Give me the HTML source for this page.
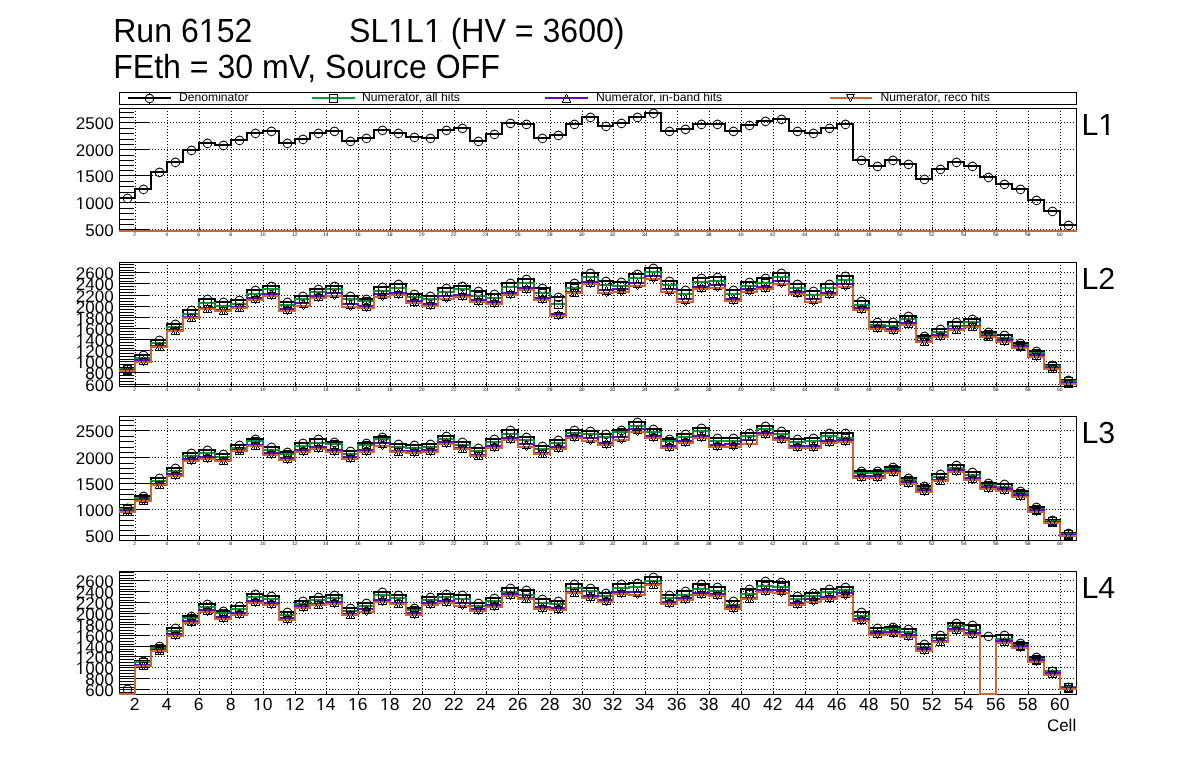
<!DOCTYPE html>
<html><head><meta charset="utf-8"><style>
html,body{margin:0;padding:0;background:#fff;width:1196px;height:772px;overflow:hidden}
svg{display:block;will-change:transform}
text{font-family:"Liberation Sans", sans-serif;fill:#000;text-rendering:geometricPrecision}
</style></head><body>
<svg width="1196" height="772" viewBox="0 0 1196 772" font-family='"Liberation Sans", sans-serif'>
<rect width="1196" height="772" fill="#fff"/>
<g transform="matrix(1 0 0 1.0436 0 -1.831)"><text clip-path="url(#one0)" x="113.2" y="42" font-size="32.1" >Run 6152</text></g>
<g transform="matrix(1 0 0 1.0436 0 -1.831)"><text clip-path="url(#one1)" x="349.0" y="42" font-size="32.1" >SL1L1 (HV = 3600)</text></g>
<g transform="matrix(1 0 0 1.0436 0 -3.388)"><text x="113.2" y="77.7" font-size="32.1" >FEth = 30 mV, Source OFF</text></g>
<rect x="119.5" y="92.5" width="957" height="12" fill="none" stroke="#000" stroke-width="1" shape-rendering="crispEdges"/>
<line x1="128" y1="98" x2="171" y2="98" stroke="#000000" stroke-width="2" shape-rendering="crispEdges"/>
<path d="M149.5,93V94M149.5,103V104" stroke="#000" stroke-width="1" shape-rendering="crispEdges"/>
<circle cx="149.50" cy="98.50" r="4.15" fill="none" stroke="#000" stroke-width="1.1"/><path d="M149.5,93v1M149.5,103v1" stroke="#000" stroke-opacity="0.3" stroke-width="1" shape-rendering="crispEdges"/>
<text x="179.0" y="101" font-size="12.15">Denominator</text>
<line x1="312" y1="98" x2="355" y2="98" stroke="#009933" stroke-width="2" shape-rendering="crispEdges"/>
<rect x="329.5" y="94.5" width="8" height="8" fill="none" stroke="#000" stroke-width="1" shape-rendering="crispEdges"/>
<text x="362.0" y="101" font-size="12.15">Numerator, all hits</text>
<line x1="545" y1="98" x2="588" y2="98" stroke="#6600cc" stroke-width="2" shape-rendering="crispEdges"/>
<path d="M566,94h1v1h-1zM565,95h1v1h-1zM567,95h1v1h-1zM565,96h1v1h-1zM567,96h1v1h-1zM564,97h1v1h-1zM568,97h1v1h-1zM564,98h1v1h-1zM568,98h1v1h-1zM563,99h1v1h-1zM569,99h1v1h-1zM563,100h1v1h-1zM569,100h1v1h-1zM562,101h1v1h-1zM570,101h1v1h-1zM562,102h9v1h-9z" fill="#000" shape-rendering="crispEdges"/>
<text x="596" y="101" font-size="12.15">Numerator, in-band hits</text>
<line x1="830" y1="98" x2="872" y2="98" stroke="#cc6633" stroke-width="2" shape-rendering="crispEdges"/>
<path d="M846,94h9v1h-9zM847,95h1v1h-1zM853,95h1v1h-1zM847,96h1v1h-1zM853,96h1v1h-1zM848,97h1v1h-1zM852,97h1v1h-1zM848,98h1v1h-1zM852,98h1v1h-1zM849,99h1v1h-1zM851,99h1v1h-1zM849,100h1v1h-1zM851,100h1v1h-1zM850,101h1v1h-1z" fill="#000" shape-rendering="crispEdges"/>
<text x="880.5" y="101" font-size="12.15">Numerator, reco hits</text>
<line x1="119" y1="229.5" x2="1076" y2="229.5" stroke="#000" stroke-width="1" stroke-dasharray="1 2" shape-rendering="crispEdges"/>
<line x1="119" y1="202.5" x2="1076" y2="202.5" stroke="#000" stroke-width="1" stroke-dasharray="1 2" shape-rendering="crispEdges"/>
<line x1="119" y1="175.5" x2="1076" y2="175.5" stroke="#000" stroke-width="1" stroke-dasharray="1 2" shape-rendering="crispEdges"/>
<line x1="119" y1="149.5" x2="1076" y2="149.5" stroke="#000" stroke-width="1" stroke-dasharray="1 2" shape-rendering="crispEdges"/>
<line x1="119" y1="122.5" x2="1076" y2="122.5" stroke="#000" stroke-width="1" stroke-dasharray="1 2" shape-rendering="crispEdges"/>
<line x1="135.5" y1="108" x2="135.5" y2="230" stroke="#000" stroke-width="1" stroke-dasharray="1 2" shape-rendering="crispEdges"/>
<line x1="167.5" y1="108" x2="167.5" y2="230" stroke="#000" stroke-width="1" stroke-dasharray="1 2" shape-rendering="crispEdges"/>
<line x1="199.5" y1="108" x2="199.5" y2="230" stroke="#000" stroke-width="1" stroke-dasharray="1 2" shape-rendering="crispEdges"/>
<line x1="231.5" y1="108" x2="231.5" y2="230" stroke="#000" stroke-width="1" stroke-dasharray="1 2" shape-rendering="crispEdges"/>
<line x1="263.5" y1="108" x2="263.5" y2="230" stroke="#000" stroke-width="1" stroke-dasharray="1 2" shape-rendering="crispEdges"/>
<line x1="295.5" y1="108" x2="295.5" y2="230" stroke="#000" stroke-width="1" stroke-dasharray="1 2" shape-rendering="crispEdges"/>
<line x1="326.5" y1="108" x2="326.5" y2="230" stroke="#000" stroke-width="1" stroke-dasharray="1 2" shape-rendering="crispEdges"/>
<line x1="358.5" y1="108" x2="358.5" y2="230" stroke="#000" stroke-width="1" stroke-dasharray="1 2" shape-rendering="crispEdges"/>
<line x1="390.5" y1="108" x2="390.5" y2="230" stroke="#000" stroke-width="1" stroke-dasharray="1 2" shape-rendering="crispEdges"/>
<line x1="422.5" y1="108" x2="422.5" y2="230" stroke="#000" stroke-width="1" stroke-dasharray="1 2" shape-rendering="crispEdges"/>
<line x1="454.5" y1="108" x2="454.5" y2="230" stroke="#000" stroke-width="1" stroke-dasharray="1 2" shape-rendering="crispEdges"/>
<line x1="486.5" y1="108" x2="486.5" y2="230" stroke="#000" stroke-width="1" stroke-dasharray="1 2" shape-rendering="crispEdges"/>
<line x1="518.5" y1="108" x2="518.5" y2="230" stroke="#000" stroke-width="1" stroke-dasharray="1 2" shape-rendering="crispEdges"/>
<line x1="550.5" y1="108" x2="550.5" y2="230" stroke="#000" stroke-width="1" stroke-dasharray="1 2" shape-rendering="crispEdges"/>
<line x1="582.5" y1="108" x2="582.5" y2="230" stroke="#000" stroke-width="1" stroke-dasharray="1 2" shape-rendering="crispEdges"/>
<line x1="613.5" y1="108" x2="613.5" y2="230" stroke="#000" stroke-width="1" stroke-dasharray="1 2" shape-rendering="crispEdges"/>
<line x1="645.5" y1="108" x2="645.5" y2="230" stroke="#000" stroke-width="1" stroke-dasharray="1 2" shape-rendering="crispEdges"/>
<line x1="677.5" y1="108" x2="677.5" y2="230" stroke="#000" stroke-width="1" stroke-dasharray="1 2" shape-rendering="crispEdges"/>
<line x1="709.5" y1="108" x2="709.5" y2="230" stroke="#000" stroke-width="1" stroke-dasharray="1 2" shape-rendering="crispEdges"/>
<line x1="741.5" y1="108" x2="741.5" y2="230" stroke="#000" stroke-width="1" stroke-dasharray="1 2" shape-rendering="crispEdges"/>
<line x1="773.5" y1="108" x2="773.5" y2="230" stroke="#000" stroke-width="1" stroke-dasharray="1 2" shape-rendering="crispEdges"/>
<line x1="805.5" y1="108" x2="805.5" y2="230" stroke="#000" stroke-width="1" stroke-dasharray="1 2" shape-rendering="crispEdges"/>
<line x1="837.5" y1="108" x2="837.5" y2="230" stroke="#000" stroke-width="1" stroke-dasharray="1 2" shape-rendering="crispEdges"/>
<line x1="869.5" y1="108" x2="869.5" y2="230" stroke="#000" stroke-width="1" stroke-dasharray="1 2" shape-rendering="crispEdges"/>
<line x1="900.5" y1="108" x2="900.5" y2="230" stroke="#000" stroke-width="1" stroke-dasharray="1 2" shape-rendering="crispEdges"/>
<line x1="932.5" y1="108" x2="932.5" y2="230" stroke="#000" stroke-width="1" stroke-dasharray="1 2" shape-rendering="crispEdges"/>
<line x1="964.5" y1="108" x2="964.5" y2="230" stroke="#000" stroke-width="1" stroke-dasharray="1 2" shape-rendering="crispEdges"/>
<line x1="996.5" y1="108" x2="996.5" y2="230" stroke="#000" stroke-width="1" stroke-dasharray="1 2" shape-rendering="crispEdges"/>
<line x1="1028.5" y1="108" x2="1028.5" y2="230" stroke="#000" stroke-width="1" stroke-dasharray="1 2" shape-rendering="crispEdges"/>
<line x1="1060.5" y1="108" x2="1060.5" y2="230" stroke="#000" stroke-width="1" stroke-dasharray="1 2" shape-rendering="crispEdges"/>
<rect x="119.5" y="108.5" width="957" height="122" fill="none" stroke="#000" stroke-width="1" shape-rendering="crispEdges"/>
<path d="M120,229.5H149 M120,202.5H149 M120,175.5H149 M120,149.5H149 M120,122.5H149 M120,224.5H134 M120,219.5H134 M120,213.5H134 M120,208.5H134 M120,197.5H134 M120,192.5H134 M120,186.5H134 M120,181.5H134 M120,170.5H134 M120,165.5H134 M120,160.5H134 M120,155.5H134 M120,144.5H134 M120,139.5H134 M120,133.5H134 M120,128.5H134 M120,117.5H134 M120,112.5H134" stroke="#000" stroke-width="1" fill="none" shape-rendering="crispEdges"/>
<path d="M135.5,230V227 M167.5,230V227 M199.5,230V227 M231.5,230V227 M263.5,230V227 M295.5,230V227 M326.5,230V227 M358.5,230V227 M390.5,230V227 M422.5,230V227 M454.5,230V227 M486.5,230V227 M518.5,230V227 M550.5,230V227 M582.5,230V227 M613.5,230V227 M645.5,230V227 M677.5,230V227 M709.5,230V227 M741.5,230V227 M773.5,230V227 M805.5,230V227 M837.5,230V227 M869.5,230V227 M900.5,230V227 M932.5,230V227 M964.5,230V227 M996.5,230V227 M1028.5,230V227 M1060.5,230V227" stroke="#000" stroke-width="1" fill="none" shape-rendering="crispEdges"/>
<text x="113.6" y="236.00" text-anchor="end" font-size="17">500</text>
<text clip-path="url(#one8)" x="113.6" y="209.00" text-anchor="end" font-size="17">1000</text>
<text clip-path="url(#one9)" x="113.6" y="182.00" text-anchor="end" font-size="17">1500</text>
<text x="113.6" y="156.00" text-anchor="end" font-size="17">2000</text>
<text x="113.6" y="129.00" text-anchor="end" font-size="17">2500</text>
<text x="134.70" y="236" text-anchor="middle" font-size="5" fill="#111">2</text>
<text x="166.70" y="236" text-anchor="middle" font-size="5" fill="#111">4</text>
<text x="198.70" y="236" text-anchor="middle" font-size="5" fill="#111">6</text>
<text x="230.70" y="236" text-anchor="middle" font-size="5" fill="#111">8</text>
<text x="262.70" y="236" text-anchor="middle" font-size="5" fill="#111">10</text>
<text x="294.70" y="236" text-anchor="middle" font-size="5" fill="#111">12</text>
<text x="325.70" y="236" text-anchor="middle" font-size="5" fill="#111">14</text>
<text x="357.70" y="236" text-anchor="middle" font-size="5" fill="#111">16</text>
<text x="389.70" y="236" text-anchor="middle" font-size="5" fill="#111">18</text>
<text x="421.70" y="236" text-anchor="middle" font-size="5" fill="#111">20</text>
<text x="453.70" y="236" text-anchor="middle" font-size="5" fill="#111">22</text>
<text x="485.70" y="236" text-anchor="middle" font-size="5" fill="#111">24</text>
<text x="517.70" y="236" text-anchor="middle" font-size="5" fill="#111">26</text>
<text x="549.70" y="236" text-anchor="middle" font-size="5" fill="#111">28</text>
<text x="581.70" y="236" text-anchor="middle" font-size="5" fill="#111">30</text>
<text x="612.70" y="236" text-anchor="middle" font-size="5" fill="#111">32</text>
<text x="644.70" y="236" text-anchor="middle" font-size="5" fill="#111">34</text>
<text x="676.70" y="236" text-anchor="middle" font-size="5" fill="#111">36</text>
<text x="708.70" y="236" text-anchor="middle" font-size="5" fill="#111">38</text>
<text x="740.70" y="236" text-anchor="middle" font-size="5" fill="#111">40</text>
<text x="772.70" y="236" text-anchor="middle" font-size="5" fill="#111">42</text>
<text x="804.70" y="236" text-anchor="middle" font-size="5" fill="#111">44</text>
<text x="836.70" y="236" text-anchor="middle" font-size="5" fill="#111">46</text>
<text x="868.70" y="236" text-anchor="middle" font-size="5" fill="#111">48</text>
<text x="899.70" y="236" text-anchor="middle" font-size="5" fill="#111">50</text>
<text x="931.70" y="236" text-anchor="middle" font-size="5" fill="#111">52</text>
<text x="963.70" y="236" text-anchor="middle" font-size="5" fill="#111">54</text>
<text x="995.70" y="236" text-anchor="middle" font-size="5" fill="#111">56</text>
<text x="1027.70" y="236" text-anchor="middle" font-size="5" fill="#111">58</text>
<text x="1059.70" y="236" text-anchor="middle" font-size="5" fill="#111">60</text>
<text clip-path="url(#one42)" x="1081.4" y="135" font-size="30.4">L1</text>
<clipPath id="c0"><rect x="119" y="109" width="958" height="123"/></clipPath>
<path d="M118.5,198H135V189H151V172H167V162H183V150H199V143H215V145H231V140H247V133H263V131H279V143H295V139H310V133H326V131H342V141H358V138H374V130H390V133H406V137H422V138H438V130H454V128H470V141H486V134H502V123H518V124H534V138H550V135H566V124H582V117H598V126H613V123H629V117H645V113H661V131H677V129H693V124H709V124H725V131H741V125H757V121H773V119H789V131H805V133H821V128H837V124H853V160H869V166H885V160H900V164H916V179H932V169H948V162H964V166H980V177H996V184H1012V189H1028V200H1044V211H1060V225H1076.5" fill="none" stroke="#000000" stroke-width="2" stroke-linejoin="miter" shape-rendering="crispEdges" clip-path="url(#c0)"/>
<g><circle cx="127.50" cy="198.40" r="4.15" fill="none" stroke="#000" stroke-width="1.1"/><path d="M127.5,193v1M127.5,203v1" stroke="#000" stroke-opacity="0.3" stroke-width="1" shape-rendering="crispEdges"/><circle cx="143.50" cy="189.40" r="4.15" fill="none" stroke="#000" stroke-width="1.1"/><path d="M143.5,184v1M143.5,194v1" stroke="#000" stroke-opacity="0.3" stroke-width="1" shape-rendering="crispEdges"/><circle cx="159.50" cy="172.40" r="4.15" fill="none" stroke="#000" stroke-width="1.1"/><path d="M159.5,167v1M159.5,177v1" stroke="#000" stroke-opacity="0.3" stroke-width="1" shape-rendering="crispEdges"/><circle cx="175.50" cy="162.40" r="4.15" fill="none" stroke="#000" stroke-width="1.1"/><path d="M175.5,157v1M175.5,167v1" stroke="#000" stroke-opacity="0.3" stroke-width="1" shape-rendering="crispEdges"/><circle cx="191.50" cy="150.40" r="4.15" fill="none" stroke="#000" stroke-width="1.1"/><path d="M191.5,145v1M191.5,155v1" stroke="#000" stroke-opacity="0.3" stroke-width="1" shape-rendering="crispEdges"/><circle cx="207.50" cy="143.40" r="4.15" fill="none" stroke="#000" stroke-width="1.1"/><path d="M207.5,138v1M207.5,148v1" stroke="#000" stroke-opacity="0.3" stroke-width="1" shape-rendering="crispEdges"/><circle cx="223.50" cy="145.40" r="4.15" fill="none" stroke="#000" stroke-width="1.1"/><path d="M223.5,140v1M223.5,150v1" stroke="#000" stroke-opacity="0.3" stroke-width="1" shape-rendering="crispEdges"/><circle cx="239.50" cy="140.40" r="4.15" fill="none" stroke="#000" stroke-width="1.1"/><path d="M239.5,135v1M239.5,145v1" stroke="#000" stroke-opacity="0.3" stroke-width="1" shape-rendering="crispEdges"/><circle cx="255.50" cy="133.40" r="4.15" fill="none" stroke="#000" stroke-width="1.1"/><path d="M255.5,128v1M255.5,138v1" stroke="#000" stroke-opacity="0.3" stroke-width="1" shape-rendering="crispEdges"/><circle cx="271.50" cy="131.40" r="4.15" fill="none" stroke="#000" stroke-width="1.1"/><path d="M271.5,126v1M271.5,136v1" stroke="#000" stroke-opacity="0.3" stroke-width="1" shape-rendering="crispEdges"/><circle cx="287.50" cy="143.40" r="4.15" fill="none" stroke="#000" stroke-width="1.1"/><path d="M287.5,138v1M287.5,148v1" stroke="#000" stroke-opacity="0.3" stroke-width="1" shape-rendering="crispEdges"/><circle cx="303.00" cy="139.40" r="4.15" fill="none" stroke="#000" stroke-width="1.1"/><path d="M303.5,134v1M303.5,144v1" stroke="#000" stroke-opacity="0.3" stroke-width="1" shape-rendering="crispEdges"/><circle cx="318.50" cy="133.40" r="4.15" fill="none" stroke="#000" stroke-width="1.1"/><path d="M318.5,128v1M318.5,138v1" stroke="#000" stroke-opacity="0.3" stroke-width="1" shape-rendering="crispEdges"/><circle cx="334.50" cy="131.40" r="4.15" fill="none" stroke="#000" stroke-width="1.1"/><path d="M334.5,126v1M334.5,136v1" stroke="#000" stroke-opacity="0.3" stroke-width="1" shape-rendering="crispEdges"/><circle cx="350.50" cy="141.40" r="4.15" fill="none" stroke="#000" stroke-width="1.1"/><path d="M350.5,136v1M350.5,146v1" stroke="#000" stroke-opacity="0.3" stroke-width="1" shape-rendering="crispEdges"/><circle cx="366.50" cy="138.40" r="4.15" fill="none" stroke="#000" stroke-width="1.1"/><path d="M366.5,133v1M366.5,143v1" stroke="#000" stroke-opacity="0.3" stroke-width="1" shape-rendering="crispEdges"/><circle cx="382.50" cy="130.40" r="4.15" fill="none" stroke="#000" stroke-width="1.1"/><path d="M382.5,125v1M382.5,135v1" stroke="#000" stroke-opacity="0.3" stroke-width="1" shape-rendering="crispEdges"/><circle cx="398.50" cy="133.40" r="4.15" fill="none" stroke="#000" stroke-width="1.1"/><path d="M398.5,128v1M398.5,138v1" stroke="#000" stroke-opacity="0.3" stroke-width="1" shape-rendering="crispEdges"/><circle cx="414.50" cy="137.40" r="4.15" fill="none" stroke="#000" stroke-width="1.1"/><path d="M414.5,132v1M414.5,142v1" stroke="#000" stroke-opacity="0.3" stroke-width="1" shape-rendering="crispEdges"/><circle cx="430.50" cy="138.40" r="4.15" fill="none" stroke="#000" stroke-width="1.1"/><path d="M430.5,133v1M430.5,143v1" stroke="#000" stroke-opacity="0.3" stroke-width="1" shape-rendering="crispEdges"/><circle cx="446.50" cy="130.40" r="4.15" fill="none" stroke="#000" stroke-width="1.1"/><path d="M446.5,125v1M446.5,135v1" stroke="#000" stroke-opacity="0.3" stroke-width="1" shape-rendering="crispEdges"/><circle cx="462.50" cy="128.40" r="4.15" fill="none" stroke="#000" stroke-width="1.1"/><path d="M462.5,123v1M462.5,133v1" stroke="#000" stroke-opacity="0.3" stroke-width="1" shape-rendering="crispEdges"/><circle cx="478.50" cy="141.40" r="4.15" fill="none" stroke="#000" stroke-width="1.1"/><path d="M478.5,136v1M478.5,146v1" stroke="#000" stroke-opacity="0.3" stroke-width="1" shape-rendering="crispEdges"/><circle cx="494.50" cy="134.40" r="4.15" fill="none" stroke="#000" stroke-width="1.1"/><path d="M494.5,129v1M494.5,139v1" stroke="#000" stroke-opacity="0.3" stroke-width="1" shape-rendering="crispEdges"/><circle cx="510.50" cy="123.40" r="4.15" fill="none" stroke="#000" stroke-width="1.1"/><path d="M510.5,118v1M510.5,128v1" stroke="#000" stroke-opacity="0.3" stroke-width="1" shape-rendering="crispEdges"/><circle cx="526.50" cy="124.40" r="4.15" fill="none" stroke="#000" stroke-width="1.1"/><path d="M526.5,119v1M526.5,129v1" stroke="#000" stroke-opacity="0.3" stroke-width="1" shape-rendering="crispEdges"/><circle cx="542.50" cy="138.40" r="4.15" fill="none" stroke="#000" stroke-width="1.1"/><path d="M542.5,133v1M542.5,143v1" stroke="#000" stroke-opacity="0.3" stroke-width="1" shape-rendering="crispEdges"/><circle cx="558.50" cy="135.40" r="4.15" fill="none" stroke="#000" stroke-width="1.1"/><path d="M558.5,130v1M558.5,140v1" stroke="#000" stroke-opacity="0.3" stroke-width="1" shape-rendering="crispEdges"/><circle cx="574.50" cy="124.40" r="4.15" fill="none" stroke="#000" stroke-width="1.1"/><path d="M574.5,119v1M574.5,129v1" stroke="#000" stroke-opacity="0.3" stroke-width="1" shape-rendering="crispEdges"/><circle cx="590.50" cy="117.40" r="4.15" fill="none" stroke="#000" stroke-width="1.1"/><path d="M590.5,112v1M590.5,122v1" stroke="#000" stroke-opacity="0.3" stroke-width="1" shape-rendering="crispEdges"/><circle cx="606.00" cy="126.40" r="4.15" fill="none" stroke="#000" stroke-width="1.1"/><path d="M606.5,121v1M606.5,131v1" stroke="#000" stroke-opacity="0.3" stroke-width="1" shape-rendering="crispEdges"/><circle cx="621.50" cy="123.40" r="4.15" fill="none" stroke="#000" stroke-width="1.1"/><path d="M621.5,118v1M621.5,128v1" stroke="#000" stroke-opacity="0.3" stroke-width="1" shape-rendering="crispEdges"/><circle cx="637.50" cy="117.40" r="4.15" fill="none" stroke="#000" stroke-width="1.1"/><path d="M637.5,112v1M637.5,122v1" stroke="#000" stroke-opacity="0.3" stroke-width="1" shape-rendering="crispEdges"/><circle cx="653.50" cy="113.40" r="4.15" fill="none" stroke="#000" stroke-width="1.1"/><path d="M653.5,108v1M653.5,118v1" stroke="#000" stroke-opacity="0.3" stroke-width="1" shape-rendering="crispEdges"/><circle cx="669.50" cy="131.40" r="4.15" fill="none" stroke="#000" stroke-width="1.1"/><path d="M669.5,126v1M669.5,136v1" stroke="#000" stroke-opacity="0.3" stroke-width="1" shape-rendering="crispEdges"/><circle cx="685.50" cy="129.40" r="4.15" fill="none" stroke="#000" stroke-width="1.1"/><path d="M685.5,124v1M685.5,134v1" stroke="#000" stroke-opacity="0.3" stroke-width="1" shape-rendering="crispEdges"/><circle cx="701.50" cy="124.40" r="4.15" fill="none" stroke="#000" stroke-width="1.1"/><path d="M701.5,119v1M701.5,129v1" stroke="#000" stroke-opacity="0.3" stroke-width="1" shape-rendering="crispEdges"/><circle cx="717.50" cy="124.40" r="4.15" fill="none" stroke="#000" stroke-width="1.1"/><path d="M717.5,119v1M717.5,129v1" stroke="#000" stroke-opacity="0.3" stroke-width="1" shape-rendering="crispEdges"/><circle cx="733.50" cy="131.40" r="4.15" fill="none" stroke="#000" stroke-width="1.1"/><path d="M733.5,126v1M733.5,136v1" stroke="#000" stroke-opacity="0.3" stroke-width="1" shape-rendering="crispEdges"/><circle cx="749.50" cy="125.40" r="4.15" fill="none" stroke="#000" stroke-width="1.1"/><path d="M749.5,120v1M749.5,130v1" stroke="#000" stroke-opacity="0.3" stroke-width="1" shape-rendering="crispEdges"/><circle cx="765.50" cy="121.40" r="4.15" fill="none" stroke="#000" stroke-width="1.1"/><path d="M765.5,116v1M765.5,126v1" stroke="#000" stroke-opacity="0.3" stroke-width="1" shape-rendering="crispEdges"/><circle cx="781.50" cy="119.40" r="4.15" fill="none" stroke="#000" stroke-width="1.1"/><path d="M781.5,114v1M781.5,124v1" stroke="#000" stroke-opacity="0.3" stroke-width="1" shape-rendering="crispEdges"/><circle cx="797.50" cy="131.40" r="4.15" fill="none" stroke="#000" stroke-width="1.1"/><path d="M797.5,126v1M797.5,136v1" stroke="#000" stroke-opacity="0.3" stroke-width="1" shape-rendering="crispEdges"/><circle cx="813.50" cy="133.40" r="4.15" fill="none" stroke="#000" stroke-width="1.1"/><path d="M813.5,128v1M813.5,138v1" stroke="#000" stroke-opacity="0.3" stroke-width="1" shape-rendering="crispEdges"/><circle cx="829.50" cy="128.40" r="4.15" fill="none" stroke="#000" stroke-width="1.1"/><path d="M829.5,123v1M829.5,133v1" stroke="#000" stroke-opacity="0.3" stroke-width="1" shape-rendering="crispEdges"/><circle cx="845.50" cy="124.40" r="4.15" fill="none" stroke="#000" stroke-width="1.1"/><path d="M845.5,119v1M845.5,129v1" stroke="#000" stroke-opacity="0.3" stroke-width="1" shape-rendering="crispEdges"/><circle cx="861.50" cy="160.40" r="4.15" fill="none" stroke="#000" stroke-width="1.1"/><path d="M861.5,155v1M861.5,165v1" stroke="#000" stroke-opacity="0.3" stroke-width="1" shape-rendering="crispEdges"/><circle cx="877.50" cy="166.40" r="4.15" fill="none" stroke="#000" stroke-width="1.1"/><path d="M877.5,161v1M877.5,171v1" stroke="#000" stroke-opacity="0.3" stroke-width="1" shape-rendering="crispEdges"/><circle cx="893.00" cy="160.40" r="4.15" fill="none" stroke="#000" stroke-width="1.1"/><path d="M893.5,155v1M893.5,165v1" stroke="#000" stroke-opacity="0.3" stroke-width="1" shape-rendering="crispEdges"/><circle cx="908.50" cy="164.40" r="4.15" fill="none" stroke="#000" stroke-width="1.1"/><path d="M908.5,159v1M908.5,169v1" stroke="#000" stroke-opacity="0.3" stroke-width="1" shape-rendering="crispEdges"/><circle cx="924.50" cy="179.40" r="4.15" fill="none" stroke="#000" stroke-width="1.1"/><path d="M924.5,174v1M924.5,184v1" stroke="#000" stroke-opacity="0.3" stroke-width="1" shape-rendering="crispEdges"/><circle cx="940.50" cy="169.40" r="4.15" fill="none" stroke="#000" stroke-width="1.1"/><path d="M940.5,164v1M940.5,174v1" stroke="#000" stroke-opacity="0.3" stroke-width="1" shape-rendering="crispEdges"/><circle cx="956.50" cy="162.40" r="4.15" fill="none" stroke="#000" stroke-width="1.1"/><path d="M956.5,157v1M956.5,167v1" stroke="#000" stroke-opacity="0.3" stroke-width="1" shape-rendering="crispEdges"/><circle cx="972.50" cy="166.40" r="4.15" fill="none" stroke="#000" stroke-width="1.1"/><path d="M972.5,161v1M972.5,171v1" stroke="#000" stroke-opacity="0.3" stroke-width="1" shape-rendering="crispEdges"/><circle cx="988.50" cy="177.40" r="4.15" fill="none" stroke="#000" stroke-width="1.1"/><path d="M988.5,172v1M988.5,182v1" stroke="#000" stroke-opacity="0.3" stroke-width="1" shape-rendering="crispEdges"/><circle cx="1004.50" cy="184.40" r="4.15" fill="none" stroke="#000" stroke-width="1.1"/><path d="M1004.5,179v1M1004.5,189v1" stroke="#000" stroke-opacity="0.3" stroke-width="1" shape-rendering="crispEdges"/><circle cx="1020.50" cy="189.40" r="4.15" fill="none" stroke="#000" stroke-width="1.1"/><path d="M1020.5,184v1M1020.5,194v1" stroke="#000" stroke-opacity="0.3" stroke-width="1" shape-rendering="crispEdges"/><circle cx="1036.50" cy="200.40" r="4.15" fill="none" stroke="#000" stroke-width="1.1"/><path d="M1036.5,195v1M1036.5,205v1" stroke="#000" stroke-opacity="0.3" stroke-width="1" shape-rendering="crispEdges"/><circle cx="1052.50" cy="211.40" r="4.15" fill="none" stroke="#000" stroke-width="1.1"/><path d="M1052.5,206v1M1052.5,216v1" stroke="#000" stroke-opacity="0.3" stroke-width="1" shape-rendering="crispEdges"/><circle cx="1068.50" cy="225.40" r="4.15" fill="none" stroke="#000" stroke-width="1.1"/><path d="M1068.5,220v1M1068.5,230v1" stroke="#000" stroke-opacity="0.3" stroke-width="1" shape-rendering="crispEdges"/></g>
<path d="M118.5,231H135V231H151V231H167V231H183V231H199V231H215V231H231V231H247V231H263V231H279V231H295V231H310V231H326V231H342V231H358V231H374V231H390V231H406V231H422V231H438V231H454V231H470V231H486V231H502V231H518V231H534V231H550V231H566V231H582V231H598V231H613V231H629V231H645V231H661V231H677V231H693V231H709V231H725V231H741V231H757V231H773V231H789V231H805V231H821V231H837V231H853V231H869V231H885V231H900V231H916V231H932V231H948V231H964V231H980V231H996V231H1012V231H1028V231H1044V231H1060V231H1076.5" fill="none" stroke="#009933" stroke-width="2" stroke-linejoin="miter" shape-rendering="crispEdges" clip-path="url(#c0)"/>
<g></g>
<path d="M118.5,231H135V231H151V231H167V231H183V231H199V231H215V231H231V231H247V231H263V231H279V231H295V231H310V231H326V231H342V231H358V231H374V231H390V231H406V231H422V231H438V231H454V231H470V231H486V231H502V231H518V231H534V231H550V231H566V231H582V231H598V231H613V231H629V231H645V231H661V231H677V231H693V231H709V231H725V231H741V231H757V231H773V231H789V231H805V231H821V231H837V231H853V231H869V231H885V231H900V231H916V231H932V231H948V231H964V231H980V231H996V231H1012V231H1028V231H1044V231H1060V231H1076.5" fill="none" stroke="#6600cc" stroke-width="2" stroke-linejoin="miter" shape-rendering="crispEdges" clip-path="url(#c0)"/>
<g></g>
<path d="M118.5,231H135V231H151V231H167V231H183V231H199V231H215V231H231V231H247V231H263V231H279V231H295V231H310V231H326V231H342V231H358V231H374V231H390V231H406V231H422V231H438V231H454V231H470V231H486V231H502V231H518V231H534V231H550V231H566V231H582V231H598V231H613V231H629V231H645V231H661V231H677V231H693V231H709V231H725V231H741V231H757V231H773V231H789V231H805V231H821V231H837V231H853V231H869V231H885V231H900V231H916V231H932V231H948V231H964V231H980V231H996V231H1012V231H1028V231H1044V231H1060V231H1076.5" fill="none" stroke="#cc6633" stroke-width="2" stroke-linejoin="miter" shape-rendering="crispEdges" clip-path="url(#c0)"/>
<g></g>
<line x1="119" y1="384.5" x2="1076" y2="384.5" stroke="#000" stroke-width="1" stroke-dasharray="1 2" shape-rendering="crispEdges"/>
<line x1="119" y1="372.5" x2="1076" y2="372.5" stroke="#000" stroke-width="1" stroke-dasharray="1 2" shape-rendering="crispEdges"/>
<line x1="119" y1="361.5" x2="1076" y2="361.5" stroke="#000" stroke-width="1" stroke-dasharray="1 2" shape-rendering="crispEdges"/>
<line x1="119" y1="350.5" x2="1076" y2="350.5" stroke="#000" stroke-width="1" stroke-dasharray="1 2" shape-rendering="crispEdges"/>
<line x1="119" y1="339.5" x2="1076" y2="339.5" stroke="#000" stroke-width="1" stroke-dasharray="1 2" shape-rendering="crispEdges"/>
<line x1="119" y1="328.5" x2="1076" y2="328.5" stroke="#000" stroke-width="1" stroke-dasharray="1 2" shape-rendering="crispEdges"/>
<line x1="119" y1="317.5" x2="1076" y2="317.5" stroke="#000" stroke-width="1" stroke-dasharray="1 2" shape-rendering="crispEdges"/>
<line x1="119" y1="306.5" x2="1076" y2="306.5" stroke="#000" stroke-width="1" stroke-dasharray="1 2" shape-rendering="crispEdges"/>
<line x1="119" y1="295.5" x2="1076" y2="295.5" stroke="#000" stroke-width="1" stroke-dasharray="1 2" shape-rendering="crispEdges"/>
<line x1="119" y1="283.5" x2="1076" y2="283.5" stroke="#000" stroke-width="1" stroke-dasharray="1 2" shape-rendering="crispEdges"/>
<line x1="119" y1="272.5" x2="1076" y2="272.5" stroke="#000" stroke-width="1" stroke-dasharray="1 2" shape-rendering="crispEdges"/>
<line x1="135.5" y1="262" x2="135.5" y2="386" stroke="#000" stroke-width="1" stroke-dasharray="1 2" shape-rendering="crispEdges"/>
<line x1="167.5" y1="262" x2="167.5" y2="386" stroke="#000" stroke-width="1" stroke-dasharray="1 2" shape-rendering="crispEdges"/>
<line x1="199.5" y1="262" x2="199.5" y2="386" stroke="#000" stroke-width="1" stroke-dasharray="1 2" shape-rendering="crispEdges"/>
<line x1="231.5" y1="262" x2="231.5" y2="386" stroke="#000" stroke-width="1" stroke-dasharray="1 2" shape-rendering="crispEdges"/>
<line x1="263.5" y1="262" x2="263.5" y2="386" stroke="#000" stroke-width="1" stroke-dasharray="1 2" shape-rendering="crispEdges"/>
<line x1="295.5" y1="262" x2="295.5" y2="386" stroke="#000" stroke-width="1" stroke-dasharray="1 2" shape-rendering="crispEdges"/>
<line x1="326.5" y1="262" x2="326.5" y2="386" stroke="#000" stroke-width="1" stroke-dasharray="1 2" shape-rendering="crispEdges"/>
<line x1="358.5" y1="262" x2="358.5" y2="386" stroke="#000" stroke-width="1" stroke-dasharray="1 2" shape-rendering="crispEdges"/>
<line x1="390.5" y1="262" x2="390.5" y2="386" stroke="#000" stroke-width="1" stroke-dasharray="1 2" shape-rendering="crispEdges"/>
<line x1="422.5" y1="262" x2="422.5" y2="386" stroke="#000" stroke-width="1" stroke-dasharray="1 2" shape-rendering="crispEdges"/>
<line x1="454.5" y1="262" x2="454.5" y2="386" stroke="#000" stroke-width="1" stroke-dasharray="1 2" shape-rendering="crispEdges"/>
<line x1="486.5" y1="262" x2="486.5" y2="386" stroke="#000" stroke-width="1" stroke-dasharray="1 2" shape-rendering="crispEdges"/>
<line x1="518.5" y1="262" x2="518.5" y2="386" stroke="#000" stroke-width="1" stroke-dasharray="1 2" shape-rendering="crispEdges"/>
<line x1="550.5" y1="262" x2="550.5" y2="386" stroke="#000" stroke-width="1" stroke-dasharray="1 2" shape-rendering="crispEdges"/>
<line x1="582.5" y1="262" x2="582.5" y2="386" stroke="#000" stroke-width="1" stroke-dasharray="1 2" shape-rendering="crispEdges"/>
<line x1="613.5" y1="262" x2="613.5" y2="386" stroke="#000" stroke-width="1" stroke-dasharray="1 2" shape-rendering="crispEdges"/>
<line x1="645.5" y1="262" x2="645.5" y2="386" stroke="#000" stroke-width="1" stroke-dasharray="1 2" shape-rendering="crispEdges"/>
<line x1="677.5" y1="262" x2="677.5" y2="386" stroke="#000" stroke-width="1" stroke-dasharray="1 2" shape-rendering="crispEdges"/>
<line x1="709.5" y1="262" x2="709.5" y2="386" stroke="#000" stroke-width="1" stroke-dasharray="1 2" shape-rendering="crispEdges"/>
<line x1="741.5" y1="262" x2="741.5" y2="386" stroke="#000" stroke-width="1" stroke-dasharray="1 2" shape-rendering="crispEdges"/>
<line x1="773.5" y1="262" x2="773.5" y2="386" stroke="#000" stroke-width="1" stroke-dasharray="1 2" shape-rendering="crispEdges"/>
<line x1="805.5" y1="262" x2="805.5" y2="386" stroke="#000" stroke-width="1" stroke-dasharray="1 2" shape-rendering="crispEdges"/>
<line x1="837.5" y1="262" x2="837.5" y2="386" stroke="#000" stroke-width="1" stroke-dasharray="1 2" shape-rendering="crispEdges"/>
<line x1="869.5" y1="262" x2="869.5" y2="386" stroke="#000" stroke-width="1" stroke-dasharray="1 2" shape-rendering="crispEdges"/>
<line x1="900.5" y1="262" x2="900.5" y2="386" stroke="#000" stroke-width="1" stroke-dasharray="1 2" shape-rendering="crispEdges"/>
<line x1="932.5" y1="262" x2="932.5" y2="386" stroke="#000" stroke-width="1" stroke-dasharray="1 2" shape-rendering="crispEdges"/>
<line x1="964.5" y1="262" x2="964.5" y2="386" stroke="#000" stroke-width="1" stroke-dasharray="1 2" shape-rendering="crispEdges"/>
<line x1="996.5" y1="262" x2="996.5" y2="386" stroke="#000" stroke-width="1" stroke-dasharray="1 2" shape-rendering="crispEdges"/>
<line x1="1028.5" y1="262" x2="1028.5" y2="386" stroke="#000" stroke-width="1" stroke-dasharray="1 2" shape-rendering="crispEdges"/>
<line x1="1060.5" y1="262" x2="1060.5" y2="386" stroke="#000" stroke-width="1" stroke-dasharray="1 2" shape-rendering="crispEdges"/>
<rect x="119.5" y="262.5" width="957" height="124" fill="none" stroke="#000" stroke-width="1" shape-rendering="crispEdges"/>
<path d="M120,384.5H149 M120,372.5H149 M120,361.5H149 M120,350.5H149 M120,339.5H149 M120,328.5H149 M120,317.5H149 M120,306.5H149 M120,295.5H149 M120,283.5H149 M120,272.5H149 M120,381.5H134 M120,378.5H134 M120,375.5H134 M120,370.5H134 M120,367.5H134 M120,364.5H134 M120,359.5H134 M120,356.5H134 M120,353.5H134 M120,348.5H134 M120,345.5H134 M120,342.5H134 M120,337.5H134 M120,334.5H134 M120,331.5H134 M120,326.5H134 M120,323.5H134 M120,320.5H134 M120,315.5H134 M120,312.5H134 M120,309.5H134 M120,304.5H134 M120,301.5H134 M120,298.5H134 M120,292.5H134 M120,289.5H134 M120,286.5H134 M120,281.5H134 M120,278.5H134 M120,275.5H134 M120,270.5H134 M120,267.5H134 M120,264.5H134" stroke="#000" stroke-width="1" fill="none" shape-rendering="crispEdges"/>
<path d="M135.5,386V383 M167.5,386V383 M199.5,386V383 M231.5,386V383 M263.5,386V383 M295.5,386V383 M326.5,386V383 M358.5,386V383 M390.5,386V383 M422.5,386V383 M454.5,386V383 M486.5,386V383 M518.5,386V383 M550.5,386V383 M582.5,386V383 M613.5,386V383 M645.5,386V383 M677.5,386V383 M709.5,386V383 M741.5,386V383 M773.5,386V383 M805.5,386V383 M837.5,386V383 M869.5,386V383 M900.5,386V383 M932.5,386V383 M964.5,386V383 M996.5,386V383 M1028.5,386V383 M1060.5,386V383" stroke="#000" stroke-width="1" fill="none" shape-rendering="crispEdges"/>
<text x="113.6" y="391.00" text-anchor="end" font-size="17">600</text>
<text x="113.6" y="379.00" text-anchor="end" font-size="17">800</text>
<text clip-path="url(#one45)" x="113.6" y="368.00" text-anchor="end" font-size="17">1000</text>
<text clip-path="url(#one46)" x="113.6" y="357.00" text-anchor="end" font-size="17">1200</text>
<text clip-path="url(#one47)" x="113.6" y="346.00" text-anchor="end" font-size="17">1400</text>
<text clip-path="url(#one48)" x="113.6" y="335.00" text-anchor="end" font-size="17">1600</text>
<text clip-path="url(#one49)" x="113.6" y="324.00" text-anchor="end" font-size="17">1800</text>
<text x="113.6" y="313.00" text-anchor="end" font-size="17">2000</text>
<text x="113.6" y="302.00" text-anchor="end" font-size="17">2200</text>
<text x="113.6" y="290.00" text-anchor="end" font-size="17">2400</text>
<text x="113.6" y="279.00" text-anchor="end" font-size="17">2600</text>
<text x="134.70" y="391" text-anchor="middle" font-size="5" fill="#111">2</text>
<text x="166.70" y="391" text-anchor="middle" font-size="5" fill="#111">4</text>
<text x="198.70" y="391" text-anchor="middle" font-size="5" fill="#111">6</text>
<text x="230.70" y="391" text-anchor="middle" font-size="5" fill="#111">8</text>
<text x="262.70" y="391" text-anchor="middle" font-size="5" fill="#111">10</text>
<text x="294.70" y="391" text-anchor="middle" font-size="5" fill="#111">12</text>
<text x="325.70" y="391" text-anchor="middle" font-size="5" fill="#111">14</text>
<text x="357.70" y="391" text-anchor="middle" font-size="5" fill="#111">16</text>
<text x="389.70" y="391" text-anchor="middle" font-size="5" fill="#111">18</text>
<text x="421.70" y="391" text-anchor="middle" font-size="5" fill="#111">20</text>
<text x="453.70" y="391" text-anchor="middle" font-size="5" fill="#111">22</text>
<text x="485.70" y="391" text-anchor="middle" font-size="5" fill="#111">24</text>
<text x="517.70" y="391" text-anchor="middle" font-size="5" fill="#111">26</text>
<text x="549.70" y="391" text-anchor="middle" font-size="5" fill="#111">28</text>
<text x="581.70" y="391" text-anchor="middle" font-size="5" fill="#111">30</text>
<text x="612.70" y="391" text-anchor="middle" font-size="5" fill="#111">32</text>
<text x="644.70" y="391" text-anchor="middle" font-size="5" fill="#111">34</text>
<text x="676.70" y="391" text-anchor="middle" font-size="5" fill="#111">36</text>
<text x="708.70" y="391" text-anchor="middle" font-size="5" fill="#111">38</text>
<text x="740.70" y="391" text-anchor="middle" font-size="5" fill="#111">40</text>
<text x="772.70" y="391" text-anchor="middle" font-size="5" fill="#111">42</text>
<text x="804.70" y="391" text-anchor="middle" font-size="5" fill="#111">44</text>
<text x="836.70" y="391" text-anchor="middle" font-size="5" fill="#111">46</text>
<text x="868.70" y="391" text-anchor="middle" font-size="5" fill="#111">48</text>
<text x="899.70" y="391" text-anchor="middle" font-size="5" fill="#111">50</text>
<text x="931.70" y="391" text-anchor="middle" font-size="5" fill="#111">52</text>
<text x="963.70" y="391" text-anchor="middle" font-size="5" fill="#111">54</text>
<text x="995.70" y="391" text-anchor="middle" font-size="5" fill="#111">56</text>
<text x="1027.70" y="391" text-anchor="middle" font-size="5" fill="#111">58</text>
<text x="1059.70" y="391" text-anchor="middle" font-size="5" fill="#111">60</text>
<text x="1081.4" y="289" font-size="30.4">L2</text>
<clipPath id="c1"><rect x="119" y="263" width="958" height="124"/></clipPath>
<path d="M118.5,369H135V355H151V340H167V324H183V310H199V299H215V302H231V300H247V290H263V286H279V302H295V296H310V289H326V286H342V296H358V299H374V287H390V284H406V294H422V296H438V288H454V286H470V291H486V294H502V283H518V279H534V288H550V297H566V283H582V273H598V281H613V282H629V274H645V268H661V281H677V290H693V278H709V277H725V290H741V282H757V278H773V273H789V284H805V291H821V284H837V276H853V301H869V322H885V322H900V316H916V336H932V329H948V322H964V319H980V332H996V335H1012V343H1028V351H1044V365H1060V380H1076.5" fill="none" stroke="#000000" stroke-width="2" stroke-linejoin="miter" shape-rendering="crispEdges" clip-path="url(#c1)"/>
<g><circle cx="127.50" cy="369.40" r="4.15" fill="none" stroke="#000" stroke-width="1.1"/><path d="M127.5,364v1M127.5,374v1" stroke="#000" stroke-opacity="0.3" stroke-width="1" shape-rendering="crispEdges"/><circle cx="143.50" cy="355.40" r="4.15" fill="none" stroke="#000" stroke-width="1.1"/><path d="M143.5,350v1M143.5,360v1" stroke="#000" stroke-opacity="0.3" stroke-width="1" shape-rendering="crispEdges"/><circle cx="159.50" cy="340.40" r="4.15" fill="none" stroke="#000" stroke-width="1.1"/><path d="M159.5,335v1M159.5,345v1" stroke="#000" stroke-opacity="0.3" stroke-width="1" shape-rendering="crispEdges"/><circle cx="175.50" cy="324.40" r="4.15" fill="none" stroke="#000" stroke-width="1.1"/><path d="M175.5,319v1M175.5,329v1" stroke="#000" stroke-opacity="0.3" stroke-width="1" shape-rendering="crispEdges"/><circle cx="191.50" cy="310.40" r="4.15" fill="none" stroke="#000" stroke-width="1.1"/><path d="M191.5,305v1M191.5,315v1" stroke="#000" stroke-opacity="0.3" stroke-width="1" shape-rendering="crispEdges"/><circle cx="207.50" cy="299.40" r="4.15" fill="none" stroke="#000" stroke-width="1.1"/><path d="M207.5,294v1M207.5,304v1" stroke="#000" stroke-opacity="0.3" stroke-width="1" shape-rendering="crispEdges"/><circle cx="223.50" cy="302.40" r="4.15" fill="none" stroke="#000" stroke-width="1.1"/><path d="M223.5,297v1M223.5,307v1" stroke="#000" stroke-opacity="0.3" stroke-width="1" shape-rendering="crispEdges"/><circle cx="239.50" cy="300.40" r="4.15" fill="none" stroke="#000" stroke-width="1.1"/><path d="M239.5,295v1M239.5,305v1" stroke="#000" stroke-opacity="0.3" stroke-width="1" shape-rendering="crispEdges"/><circle cx="255.50" cy="290.40" r="4.15" fill="none" stroke="#000" stroke-width="1.1"/><path d="M255.5,285v1M255.5,295v1" stroke="#000" stroke-opacity="0.3" stroke-width="1" shape-rendering="crispEdges"/><circle cx="271.50" cy="286.40" r="4.15" fill="none" stroke="#000" stroke-width="1.1"/><path d="M271.5,281v1M271.5,291v1" stroke="#000" stroke-opacity="0.3" stroke-width="1" shape-rendering="crispEdges"/><circle cx="287.50" cy="302.40" r="4.15" fill="none" stroke="#000" stroke-width="1.1"/><path d="M287.5,297v1M287.5,307v1" stroke="#000" stroke-opacity="0.3" stroke-width="1" shape-rendering="crispEdges"/><circle cx="303.00" cy="296.40" r="4.15" fill="none" stroke="#000" stroke-width="1.1"/><path d="M303.5,291v1M303.5,301v1" stroke="#000" stroke-opacity="0.3" stroke-width="1" shape-rendering="crispEdges"/><circle cx="318.50" cy="289.40" r="4.15" fill="none" stroke="#000" stroke-width="1.1"/><path d="M318.5,284v1M318.5,294v1" stroke="#000" stroke-opacity="0.3" stroke-width="1" shape-rendering="crispEdges"/><circle cx="334.50" cy="286.40" r="4.15" fill="none" stroke="#000" stroke-width="1.1"/><path d="M334.5,281v1M334.5,291v1" stroke="#000" stroke-opacity="0.3" stroke-width="1" shape-rendering="crispEdges"/><circle cx="350.50" cy="296.40" r="4.15" fill="none" stroke="#000" stroke-width="1.1"/><path d="M350.5,291v1M350.5,301v1" stroke="#000" stroke-opacity="0.3" stroke-width="1" shape-rendering="crispEdges"/><circle cx="366.50" cy="299.40" r="4.15" fill="none" stroke="#000" stroke-width="1.1"/><path d="M366.5,294v1M366.5,304v1" stroke="#000" stroke-opacity="0.3" stroke-width="1" shape-rendering="crispEdges"/><circle cx="382.50" cy="287.40" r="4.15" fill="none" stroke="#000" stroke-width="1.1"/><path d="M382.5,282v1M382.5,292v1" stroke="#000" stroke-opacity="0.3" stroke-width="1" shape-rendering="crispEdges"/><circle cx="398.50" cy="284.40" r="4.15" fill="none" stroke="#000" stroke-width="1.1"/><path d="M398.5,279v1M398.5,289v1" stroke="#000" stroke-opacity="0.3" stroke-width="1" shape-rendering="crispEdges"/><circle cx="414.50" cy="294.40" r="4.15" fill="none" stroke="#000" stroke-width="1.1"/><path d="M414.5,289v1M414.5,299v1" stroke="#000" stroke-opacity="0.3" stroke-width="1" shape-rendering="crispEdges"/><circle cx="430.50" cy="296.40" r="4.15" fill="none" stroke="#000" stroke-width="1.1"/><path d="M430.5,291v1M430.5,301v1" stroke="#000" stroke-opacity="0.3" stroke-width="1" shape-rendering="crispEdges"/><circle cx="446.50" cy="288.40" r="4.15" fill="none" stroke="#000" stroke-width="1.1"/><path d="M446.5,283v1M446.5,293v1" stroke="#000" stroke-opacity="0.3" stroke-width="1" shape-rendering="crispEdges"/><circle cx="462.50" cy="286.40" r="4.15" fill="none" stroke="#000" stroke-width="1.1"/><path d="M462.5,281v1M462.5,291v1" stroke="#000" stroke-opacity="0.3" stroke-width="1" shape-rendering="crispEdges"/><circle cx="478.50" cy="291.40" r="4.15" fill="none" stroke="#000" stroke-width="1.1"/><path d="M478.5,286v1M478.5,296v1" stroke="#000" stroke-opacity="0.3" stroke-width="1" shape-rendering="crispEdges"/><circle cx="494.50" cy="294.40" r="4.15" fill="none" stroke="#000" stroke-width="1.1"/><path d="M494.5,289v1M494.5,299v1" stroke="#000" stroke-opacity="0.3" stroke-width="1" shape-rendering="crispEdges"/><circle cx="510.50" cy="283.40" r="4.15" fill="none" stroke="#000" stroke-width="1.1"/><path d="M510.5,278v1M510.5,288v1" stroke="#000" stroke-opacity="0.3" stroke-width="1" shape-rendering="crispEdges"/><circle cx="526.50" cy="279.40" r="4.15" fill="none" stroke="#000" stroke-width="1.1"/><path d="M526.5,274v1M526.5,284v1" stroke="#000" stroke-opacity="0.3" stroke-width="1" shape-rendering="crispEdges"/><circle cx="542.50" cy="288.40" r="4.15" fill="none" stroke="#000" stroke-width="1.1"/><path d="M542.5,283v1M542.5,293v1" stroke="#000" stroke-opacity="0.3" stroke-width="1" shape-rendering="crispEdges"/><circle cx="558.50" cy="297.40" r="4.15" fill="none" stroke="#000" stroke-width="1.1"/><path d="M558.5,292v1M558.5,302v1" stroke="#000" stroke-opacity="0.3" stroke-width="1" shape-rendering="crispEdges"/><circle cx="574.50" cy="283.40" r="4.15" fill="none" stroke="#000" stroke-width="1.1"/><path d="M574.5,278v1M574.5,288v1" stroke="#000" stroke-opacity="0.3" stroke-width="1" shape-rendering="crispEdges"/><circle cx="590.50" cy="273.40" r="4.15" fill="none" stroke="#000" stroke-width="1.1"/><path d="M590.5,268v1M590.5,278v1" stroke="#000" stroke-opacity="0.3" stroke-width="1" shape-rendering="crispEdges"/><circle cx="606.00" cy="281.40" r="4.15" fill="none" stroke="#000" stroke-width="1.1"/><path d="M606.5,276v1M606.5,286v1" stroke="#000" stroke-opacity="0.3" stroke-width="1" shape-rendering="crispEdges"/><circle cx="621.50" cy="282.40" r="4.15" fill="none" stroke="#000" stroke-width="1.1"/><path d="M621.5,277v1M621.5,287v1" stroke="#000" stroke-opacity="0.3" stroke-width="1" shape-rendering="crispEdges"/><circle cx="637.50" cy="274.40" r="4.15" fill="none" stroke="#000" stroke-width="1.1"/><path d="M637.5,269v1M637.5,279v1" stroke="#000" stroke-opacity="0.3" stroke-width="1" shape-rendering="crispEdges"/><circle cx="653.50" cy="268.40" r="4.15" fill="none" stroke="#000" stroke-width="1.1"/><path d="M653.5,263v1M653.5,273v1" stroke="#000" stroke-opacity="0.3" stroke-width="1" shape-rendering="crispEdges"/><circle cx="669.50" cy="281.40" r="4.15" fill="none" stroke="#000" stroke-width="1.1"/><path d="M669.5,276v1M669.5,286v1" stroke="#000" stroke-opacity="0.3" stroke-width="1" shape-rendering="crispEdges"/><circle cx="685.50" cy="290.40" r="4.15" fill="none" stroke="#000" stroke-width="1.1"/><path d="M685.5,285v1M685.5,295v1" stroke="#000" stroke-opacity="0.3" stroke-width="1" shape-rendering="crispEdges"/><circle cx="701.50" cy="278.40" r="4.15" fill="none" stroke="#000" stroke-width="1.1"/><path d="M701.5,273v1M701.5,283v1" stroke="#000" stroke-opacity="0.3" stroke-width="1" shape-rendering="crispEdges"/><circle cx="717.50" cy="277.40" r="4.15" fill="none" stroke="#000" stroke-width="1.1"/><path d="M717.5,272v1M717.5,282v1" stroke="#000" stroke-opacity="0.3" stroke-width="1" shape-rendering="crispEdges"/><circle cx="733.50" cy="290.40" r="4.15" fill="none" stroke="#000" stroke-width="1.1"/><path d="M733.5,285v1M733.5,295v1" stroke="#000" stroke-opacity="0.3" stroke-width="1" shape-rendering="crispEdges"/><circle cx="749.50" cy="282.40" r="4.15" fill="none" stroke="#000" stroke-width="1.1"/><path d="M749.5,277v1M749.5,287v1" stroke="#000" stroke-opacity="0.3" stroke-width="1" shape-rendering="crispEdges"/><circle cx="765.50" cy="278.40" r="4.15" fill="none" stroke="#000" stroke-width="1.1"/><path d="M765.5,273v1M765.5,283v1" stroke="#000" stroke-opacity="0.3" stroke-width="1" shape-rendering="crispEdges"/><circle cx="781.50" cy="273.40" r="4.15" fill="none" stroke="#000" stroke-width="1.1"/><path d="M781.5,268v1M781.5,278v1" stroke="#000" stroke-opacity="0.3" stroke-width="1" shape-rendering="crispEdges"/><circle cx="797.50" cy="284.40" r="4.15" fill="none" stroke="#000" stroke-width="1.1"/><path d="M797.5,279v1M797.5,289v1" stroke="#000" stroke-opacity="0.3" stroke-width="1" shape-rendering="crispEdges"/><circle cx="813.50" cy="291.40" r="4.15" fill="none" stroke="#000" stroke-width="1.1"/><path d="M813.5,286v1M813.5,296v1" stroke="#000" stroke-opacity="0.3" stroke-width="1" shape-rendering="crispEdges"/><circle cx="829.50" cy="284.40" r="4.15" fill="none" stroke="#000" stroke-width="1.1"/><path d="M829.5,279v1M829.5,289v1" stroke="#000" stroke-opacity="0.3" stroke-width="1" shape-rendering="crispEdges"/><circle cx="845.50" cy="276.40" r="4.15" fill="none" stroke="#000" stroke-width="1.1"/><path d="M845.5,271v1M845.5,281v1" stroke="#000" stroke-opacity="0.3" stroke-width="1" shape-rendering="crispEdges"/><circle cx="861.50" cy="301.40" r="4.15" fill="none" stroke="#000" stroke-width="1.1"/><path d="M861.5,296v1M861.5,306v1" stroke="#000" stroke-opacity="0.3" stroke-width="1" shape-rendering="crispEdges"/><circle cx="877.50" cy="322.40" r="4.15" fill="none" stroke="#000" stroke-width="1.1"/><path d="M877.5,317v1M877.5,327v1" stroke="#000" stroke-opacity="0.3" stroke-width="1" shape-rendering="crispEdges"/><circle cx="893.00" cy="322.40" r="4.15" fill="none" stroke="#000" stroke-width="1.1"/><path d="M893.5,317v1M893.5,327v1" stroke="#000" stroke-opacity="0.3" stroke-width="1" shape-rendering="crispEdges"/><circle cx="908.50" cy="316.40" r="4.15" fill="none" stroke="#000" stroke-width="1.1"/><path d="M908.5,311v1M908.5,321v1" stroke="#000" stroke-opacity="0.3" stroke-width="1" shape-rendering="crispEdges"/><circle cx="924.50" cy="336.40" r="4.15" fill="none" stroke="#000" stroke-width="1.1"/><path d="M924.5,331v1M924.5,341v1" stroke="#000" stroke-opacity="0.3" stroke-width="1" shape-rendering="crispEdges"/><circle cx="940.50" cy="329.40" r="4.15" fill="none" stroke="#000" stroke-width="1.1"/><path d="M940.5,324v1M940.5,334v1" stroke="#000" stroke-opacity="0.3" stroke-width="1" shape-rendering="crispEdges"/><circle cx="956.50" cy="322.40" r="4.15" fill="none" stroke="#000" stroke-width="1.1"/><path d="M956.5,317v1M956.5,327v1" stroke="#000" stroke-opacity="0.3" stroke-width="1" shape-rendering="crispEdges"/><circle cx="972.50" cy="319.40" r="4.15" fill="none" stroke="#000" stroke-width="1.1"/><path d="M972.5,314v1M972.5,324v1" stroke="#000" stroke-opacity="0.3" stroke-width="1" shape-rendering="crispEdges"/><circle cx="988.50" cy="332.40" r="4.15" fill="none" stroke="#000" stroke-width="1.1"/><path d="M988.5,327v1M988.5,337v1" stroke="#000" stroke-opacity="0.3" stroke-width="1" shape-rendering="crispEdges"/><circle cx="1004.50" cy="335.40" r="4.15" fill="none" stroke="#000" stroke-width="1.1"/><path d="M1004.5,330v1M1004.5,340v1" stroke="#000" stroke-opacity="0.3" stroke-width="1" shape-rendering="crispEdges"/><circle cx="1020.50" cy="343.40" r="4.15" fill="none" stroke="#000" stroke-width="1.1"/><path d="M1020.5,338v1M1020.5,348v1" stroke="#000" stroke-opacity="0.3" stroke-width="1" shape-rendering="crispEdges"/><circle cx="1036.50" cy="351.40" r="4.15" fill="none" stroke="#000" stroke-width="1.1"/><path d="M1036.5,346v1M1036.5,356v1" stroke="#000" stroke-opacity="0.3" stroke-width="1" shape-rendering="crispEdges"/><circle cx="1052.50" cy="365.40" r="4.15" fill="none" stroke="#000" stroke-width="1.1"/><path d="M1052.5,360v1M1052.5,370v1" stroke="#000" stroke-opacity="0.3" stroke-width="1" shape-rendering="crispEdges"/><circle cx="1068.50" cy="380.40" r="4.15" fill="none" stroke="#000" stroke-width="1.1"/><path d="M1068.5,375v1M1068.5,385v1" stroke="#000" stroke-opacity="0.3" stroke-width="1" shape-rendering="crispEdges"/></g>
<path d="M118.5,369H135V358H151V343H167V327H183V314H199V303H215V306H231V304H247V294H263V289H279V305H295V299H310V292H326V289H342V299H358V301H374V291H390V288H406V297H422V299H438V292H454V289H470V296H486V298H502V287H518V283H534V293H550V304H566V288H582V277H598V285H613V286H629V278H645V272H661V285H677V294H693V282H709V281H725V294H741V286H757V283H773V277H789V288H805V295H821V288H837V280H853V305H869V325H885V326H900V319H916V338H932V332H948V326H964V322H980V334H996V338H1012V345H1028V353H1044V366H1060V381H1076.5" fill="none" stroke="#009933" stroke-width="2" stroke-linejoin="miter" shape-rendering="crispEdges" clip-path="url(#c1)"/>
<g><rect x="123.5" y="365.5" width="8" height="8" fill="none" stroke="#000" stroke-width="1" shape-rendering="crispEdges"/><rect x="139.5" y="354.5" width="8" height="8" fill="none" stroke="#000" stroke-width="1" shape-rendering="crispEdges"/><rect x="155.5" y="339.5" width="8" height="8" fill="none" stroke="#000" stroke-width="1" shape-rendering="crispEdges"/><rect x="171.5" y="323.5" width="8" height="8" fill="none" stroke="#000" stroke-width="1" shape-rendering="crispEdges"/><rect x="187.5" y="310.5" width="8" height="8" fill="none" stroke="#000" stroke-width="1" shape-rendering="crispEdges"/><rect x="203.5" y="299.5" width="8" height="8" fill="none" stroke="#000" stroke-width="1" shape-rendering="crispEdges"/><rect x="219.5" y="302.5" width="8" height="8" fill="none" stroke="#000" stroke-width="1" shape-rendering="crispEdges"/><rect x="235.5" y="300.5" width="8" height="8" fill="none" stroke="#000" stroke-width="1" shape-rendering="crispEdges"/><rect x="251.5" y="290.5" width="8" height="8" fill="none" stroke="#000" stroke-width="1" shape-rendering="crispEdges"/><rect x="267.5" y="285.5" width="8" height="8" fill="none" stroke="#000" stroke-width="1" shape-rendering="crispEdges"/><rect x="283.5" y="301.5" width="8" height="8" fill="none" stroke="#000" stroke-width="1" shape-rendering="crispEdges"/><rect x="299.5" y="295.5" width="8" height="8" fill="none" stroke="#000" stroke-width="1" shape-rendering="crispEdges"/><rect x="314.5" y="288.5" width="8" height="8" fill="none" stroke="#000" stroke-width="1" shape-rendering="crispEdges"/><rect x="330.5" y="285.5" width="8" height="8" fill="none" stroke="#000" stroke-width="1" shape-rendering="crispEdges"/><rect x="346.5" y="295.5" width="8" height="8" fill="none" stroke="#000" stroke-width="1" shape-rendering="crispEdges"/><rect x="362.5" y="297.5" width="8" height="8" fill="none" stroke="#000" stroke-width="1" shape-rendering="crispEdges"/><rect x="378.5" y="287.5" width="8" height="8" fill="none" stroke="#000" stroke-width="1" shape-rendering="crispEdges"/><rect x="394.5" y="284.5" width="8" height="8" fill="none" stroke="#000" stroke-width="1" shape-rendering="crispEdges"/><rect x="410.5" y="293.5" width="8" height="8" fill="none" stroke="#000" stroke-width="1" shape-rendering="crispEdges"/><rect x="426.5" y="295.5" width="8" height="8" fill="none" stroke="#000" stroke-width="1" shape-rendering="crispEdges"/><rect x="442.5" y="288.5" width="8" height="8" fill="none" stroke="#000" stroke-width="1" shape-rendering="crispEdges"/><rect x="458.5" y="285.5" width="8" height="8" fill="none" stroke="#000" stroke-width="1" shape-rendering="crispEdges"/><rect x="474.5" y="292.5" width="8" height="8" fill="none" stroke="#000" stroke-width="1" shape-rendering="crispEdges"/><rect x="490.5" y="294.5" width="8" height="8" fill="none" stroke="#000" stroke-width="1" shape-rendering="crispEdges"/><rect x="506.5" y="283.5" width="8" height="8" fill="none" stroke="#000" stroke-width="1" shape-rendering="crispEdges"/><rect x="522.5" y="279.5" width="8" height="8" fill="none" stroke="#000" stroke-width="1" shape-rendering="crispEdges"/><rect x="538.5" y="289.5" width="8" height="8" fill="none" stroke="#000" stroke-width="1" shape-rendering="crispEdges"/><rect x="554.5" y="300.5" width="8" height="8" fill="none" stroke="#000" stroke-width="1" shape-rendering="crispEdges"/><rect x="570.5" y="284.5" width="8" height="8" fill="none" stroke="#000" stroke-width="1" shape-rendering="crispEdges"/><rect x="586.5" y="273.5" width="8" height="8" fill="none" stroke="#000" stroke-width="1" shape-rendering="crispEdges"/><rect x="602.5" y="281.5" width="8" height="8" fill="none" stroke="#000" stroke-width="1" shape-rendering="crispEdges"/><rect x="617.5" y="282.5" width="8" height="8" fill="none" stroke="#000" stroke-width="1" shape-rendering="crispEdges"/><rect x="633.5" y="274.5" width="8" height="8" fill="none" stroke="#000" stroke-width="1" shape-rendering="crispEdges"/><rect x="649.5" y="268.5" width="8" height="8" fill="none" stroke="#000" stroke-width="1" shape-rendering="crispEdges"/><rect x="665.5" y="281.5" width="8" height="8" fill="none" stroke="#000" stroke-width="1" shape-rendering="crispEdges"/><rect x="681.5" y="290.5" width="8" height="8" fill="none" stroke="#000" stroke-width="1" shape-rendering="crispEdges"/><rect x="697.5" y="278.5" width="8" height="8" fill="none" stroke="#000" stroke-width="1" shape-rendering="crispEdges"/><rect x="713.5" y="277.5" width="8" height="8" fill="none" stroke="#000" stroke-width="1" shape-rendering="crispEdges"/><rect x="729.5" y="290.5" width="8" height="8" fill="none" stroke="#000" stroke-width="1" shape-rendering="crispEdges"/><rect x="745.5" y="282.5" width="8" height="8" fill="none" stroke="#000" stroke-width="1" shape-rendering="crispEdges"/><rect x="761.5" y="279.5" width="8" height="8" fill="none" stroke="#000" stroke-width="1" shape-rendering="crispEdges"/><rect x="777.5" y="273.5" width="8" height="8" fill="none" stroke="#000" stroke-width="1" shape-rendering="crispEdges"/><rect x="793.5" y="284.5" width="8" height="8" fill="none" stroke="#000" stroke-width="1" shape-rendering="crispEdges"/><rect x="809.5" y="291.5" width="8" height="8" fill="none" stroke="#000" stroke-width="1" shape-rendering="crispEdges"/><rect x="825.5" y="284.5" width="8" height="8" fill="none" stroke="#000" stroke-width="1" shape-rendering="crispEdges"/><rect x="841.5" y="276.5" width="8" height="8" fill="none" stroke="#000" stroke-width="1" shape-rendering="crispEdges"/><rect x="857.5" y="301.5" width="8" height="8" fill="none" stroke="#000" stroke-width="1" shape-rendering="crispEdges"/><rect x="873.5" y="321.5" width="8" height="8" fill="none" stroke="#000" stroke-width="1" shape-rendering="crispEdges"/><rect x="889.5" y="322.5" width="8" height="8" fill="none" stroke="#000" stroke-width="1" shape-rendering="crispEdges"/><rect x="904.5" y="315.5" width="8" height="8" fill="none" stroke="#000" stroke-width="1" shape-rendering="crispEdges"/><rect x="920.5" y="334.5" width="8" height="8" fill="none" stroke="#000" stroke-width="1" shape-rendering="crispEdges"/><rect x="936.5" y="328.5" width="8" height="8" fill="none" stroke="#000" stroke-width="1" shape-rendering="crispEdges"/><rect x="952.5" y="322.5" width="8" height="8" fill="none" stroke="#000" stroke-width="1" shape-rendering="crispEdges"/><rect x="968.5" y="318.5" width="8" height="8" fill="none" stroke="#000" stroke-width="1" shape-rendering="crispEdges"/><rect x="984.5" y="330.5" width="8" height="8" fill="none" stroke="#000" stroke-width="1" shape-rendering="crispEdges"/><rect x="1000.5" y="334.5" width="8" height="8" fill="none" stroke="#000" stroke-width="1" shape-rendering="crispEdges"/><rect x="1016.5" y="341.5" width="8" height="8" fill="none" stroke="#000" stroke-width="1" shape-rendering="crispEdges"/><rect x="1032.5" y="349.5" width="8" height="8" fill="none" stroke="#000" stroke-width="1" shape-rendering="crispEdges"/><rect x="1048.5" y="362.5" width="8" height="8" fill="none" stroke="#000" stroke-width="1" shape-rendering="crispEdges"/><rect x="1064.5" y="377.5" width="8" height="8" fill="none" stroke="#000" stroke-width="1" shape-rendering="crispEdges"/></g>
<path d="M118.5,370H135V360H151V346H167V330H183V317H199V308H215V310H231V307H247V298H263V294H279V309H295V303H310V296H326V293H342V304H358V306H374V294H390V293H406V301H422V304H438V296H454V295H470V300H486V302H502V293H518V288H534V298H550V314H566V292H582V282H598V290H613V289H629V283H645V276H661V289H677V299H693V287H709V285H725V299H741V289H757V287H773V281H789V292H805V299H821V293H837V284H853V308H869V327H885V329H900V323H916V341H932V335H948V329H964V326H980V336H996V340H1012V346H1028V355H1044V368H1060V383H1076.5" fill="none" stroke="#6600cc" stroke-width="2" stroke-linejoin="miter" shape-rendering="crispEdges" clip-path="url(#c1)"/>
<g><path d="M127,366h1v1h-1zM126,367h1v1h-1zM128,367h1v1h-1zM126,368h1v1h-1zM128,368h1v1h-1zM125,369h1v1h-1zM129,369h1v1h-1zM125,370h1v1h-1zM129,370h1v1h-1zM124,371h1v1h-1zM130,371h1v1h-1zM124,372h1v1h-1zM130,372h1v1h-1zM123,373h1v1h-1zM131,373h1v1h-1zM123,374h9v1h-9z" fill="#000" shape-rendering="crispEdges"/><path d="M143,356h1v1h-1zM142,357h1v1h-1zM144,357h1v1h-1zM142,358h1v1h-1zM144,358h1v1h-1zM141,359h1v1h-1zM145,359h1v1h-1zM141,360h1v1h-1zM145,360h1v1h-1zM140,361h1v1h-1zM146,361h1v1h-1zM140,362h1v1h-1zM146,362h1v1h-1zM139,363h1v1h-1zM147,363h1v1h-1zM139,364h9v1h-9z" fill="#000" shape-rendering="crispEdges"/><path d="M159,342h1v1h-1zM158,343h1v1h-1zM160,343h1v1h-1zM158,344h1v1h-1zM160,344h1v1h-1zM157,345h1v1h-1zM161,345h1v1h-1zM157,346h1v1h-1zM161,346h1v1h-1zM156,347h1v1h-1zM162,347h1v1h-1zM156,348h1v1h-1zM162,348h1v1h-1zM155,349h1v1h-1zM163,349h1v1h-1zM155,350h9v1h-9z" fill="#000" shape-rendering="crispEdges"/><path d="M175,326h1v1h-1zM174,327h1v1h-1zM176,327h1v1h-1zM174,328h1v1h-1zM176,328h1v1h-1zM173,329h1v1h-1zM177,329h1v1h-1zM173,330h1v1h-1zM177,330h1v1h-1zM172,331h1v1h-1zM178,331h1v1h-1zM172,332h1v1h-1zM178,332h1v1h-1zM171,333h1v1h-1zM179,333h1v1h-1zM171,334h9v1h-9z" fill="#000" shape-rendering="crispEdges"/><path d="M191,313h1v1h-1zM190,314h1v1h-1zM192,314h1v1h-1zM190,315h1v1h-1zM192,315h1v1h-1zM189,316h1v1h-1zM193,316h1v1h-1zM189,317h1v1h-1zM193,317h1v1h-1zM188,318h1v1h-1zM194,318h1v1h-1zM188,319h1v1h-1zM194,319h1v1h-1zM187,320h1v1h-1zM195,320h1v1h-1zM187,321h9v1h-9z" fill="#000" shape-rendering="crispEdges"/><path d="M207,304h1v1h-1zM206,305h1v1h-1zM208,305h1v1h-1zM206,306h1v1h-1zM208,306h1v1h-1zM205,307h1v1h-1zM209,307h1v1h-1zM205,308h1v1h-1zM209,308h1v1h-1zM204,309h1v1h-1zM210,309h1v1h-1zM204,310h1v1h-1zM210,310h1v1h-1zM203,311h1v1h-1zM211,311h1v1h-1zM203,312h9v1h-9z" fill="#000" shape-rendering="crispEdges"/><path d="M223,306h1v1h-1zM222,307h1v1h-1zM224,307h1v1h-1zM222,308h1v1h-1zM224,308h1v1h-1zM221,309h1v1h-1zM225,309h1v1h-1zM221,310h1v1h-1zM225,310h1v1h-1zM220,311h1v1h-1zM226,311h1v1h-1zM220,312h1v1h-1zM226,312h1v1h-1zM219,313h1v1h-1zM227,313h1v1h-1zM219,314h9v1h-9z" fill="#000" shape-rendering="crispEdges"/><path d="M239,303h1v1h-1zM238,304h1v1h-1zM240,304h1v1h-1zM238,305h1v1h-1zM240,305h1v1h-1zM237,306h1v1h-1zM241,306h1v1h-1zM237,307h1v1h-1zM241,307h1v1h-1zM236,308h1v1h-1zM242,308h1v1h-1zM236,309h1v1h-1zM242,309h1v1h-1zM235,310h1v1h-1zM243,310h1v1h-1zM235,311h9v1h-9z" fill="#000" shape-rendering="crispEdges"/><path d="M255,294h1v1h-1zM254,295h1v1h-1zM256,295h1v1h-1zM254,296h1v1h-1zM256,296h1v1h-1zM253,297h1v1h-1zM257,297h1v1h-1zM253,298h1v1h-1zM257,298h1v1h-1zM252,299h1v1h-1zM258,299h1v1h-1zM252,300h1v1h-1zM258,300h1v1h-1zM251,301h1v1h-1zM259,301h1v1h-1zM251,302h9v1h-9z" fill="#000" shape-rendering="crispEdges"/><path d="M271,290h1v1h-1zM270,291h1v1h-1zM272,291h1v1h-1zM270,292h1v1h-1zM272,292h1v1h-1zM269,293h1v1h-1zM273,293h1v1h-1zM269,294h1v1h-1zM273,294h1v1h-1zM268,295h1v1h-1zM274,295h1v1h-1zM268,296h1v1h-1zM274,296h1v1h-1zM267,297h1v1h-1zM275,297h1v1h-1zM267,298h9v1h-9z" fill="#000" shape-rendering="crispEdges"/><path d="M287,305h1v1h-1zM286,306h1v1h-1zM288,306h1v1h-1zM286,307h1v1h-1zM288,307h1v1h-1zM285,308h1v1h-1zM289,308h1v1h-1zM285,309h1v1h-1zM289,309h1v1h-1zM284,310h1v1h-1zM290,310h1v1h-1zM284,311h1v1h-1zM290,311h1v1h-1zM283,312h1v1h-1zM291,312h1v1h-1zM283,313h9v1h-9z" fill="#000" shape-rendering="crispEdges"/><path d="M303,299h1v1h-1zM302,300h1v1h-1zM304,300h1v1h-1zM302,301h1v1h-1zM304,301h1v1h-1zM301,302h1v1h-1zM305,302h1v1h-1zM301,303h1v1h-1zM305,303h1v1h-1zM300,304h1v1h-1zM306,304h1v1h-1zM300,305h1v1h-1zM306,305h1v1h-1zM299,306h1v1h-1zM307,306h1v1h-1zM299,307h9v1h-9z" fill="#000" shape-rendering="crispEdges"/><path d="M318,292h1v1h-1zM317,293h1v1h-1zM319,293h1v1h-1zM317,294h1v1h-1zM319,294h1v1h-1zM316,295h1v1h-1zM320,295h1v1h-1zM316,296h1v1h-1zM320,296h1v1h-1zM315,297h1v1h-1zM321,297h1v1h-1zM315,298h1v1h-1zM321,298h1v1h-1zM314,299h1v1h-1zM322,299h1v1h-1zM314,300h9v1h-9z" fill="#000" shape-rendering="crispEdges"/><path d="M334,289h1v1h-1zM333,290h1v1h-1zM335,290h1v1h-1zM333,291h1v1h-1zM335,291h1v1h-1zM332,292h1v1h-1zM336,292h1v1h-1zM332,293h1v1h-1zM336,293h1v1h-1zM331,294h1v1h-1zM337,294h1v1h-1zM331,295h1v1h-1zM337,295h1v1h-1zM330,296h1v1h-1zM338,296h1v1h-1zM330,297h9v1h-9z" fill="#000" shape-rendering="crispEdges"/><path d="M350,300h1v1h-1zM349,301h1v1h-1zM351,301h1v1h-1zM349,302h1v1h-1zM351,302h1v1h-1zM348,303h1v1h-1zM352,303h1v1h-1zM348,304h1v1h-1zM352,304h1v1h-1zM347,305h1v1h-1zM353,305h1v1h-1zM347,306h1v1h-1zM353,306h1v1h-1zM346,307h1v1h-1zM354,307h1v1h-1zM346,308h9v1h-9z" fill="#000" shape-rendering="crispEdges"/><path d="M366,302h1v1h-1zM365,303h1v1h-1zM367,303h1v1h-1zM365,304h1v1h-1zM367,304h1v1h-1zM364,305h1v1h-1zM368,305h1v1h-1zM364,306h1v1h-1zM368,306h1v1h-1zM363,307h1v1h-1zM369,307h1v1h-1zM363,308h1v1h-1zM369,308h1v1h-1zM362,309h1v1h-1zM370,309h1v1h-1zM362,310h9v1h-9z" fill="#000" shape-rendering="crispEdges"/><path d="M382,290h1v1h-1zM381,291h1v1h-1zM383,291h1v1h-1zM381,292h1v1h-1zM383,292h1v1h-1zM380,293h1v1h-1zM384,293h1v1h-1zM380,294h1v1h-1zM384,294h1v1h-1zM379,295h1v1h-1zM385,295h1v1h-1zM379,296h1v1h-1zM385,296h1v1h-1zM378,297h1v1h-1zM386,297h1v1h-1zM378,298h9v1h-9z" fill="#000" shape-rendering="crispEdges"/><path d="M398,289h1v1h-1zM397,290h1v1h-1zM399,290h1v1h-1zM397,291h1v1h-1zM399,291h1v1h-1zM396,292h1v1h-1zM400,292h1v1h-1zM396,293h1v1h-1zM400,293h1v1h-1zM395,294h1v1h-1zM401,294h1v1h-1zM395,295h1v1h-1zM401,295h1v1h-1zM394,296h1v1h-1zM402,296h1v1h-1zM394,297h9v1h-9z" fill="#000" shape-rendering="crispEdges"/><path d="M414,297h1v1h-1zM413,298h1v1h-1zM415,298h1v1h-1zM413,299h1v1h-1zM415,299h1v1h-1zM412,300h1v1h-1zM416,300h1v1h-1zM412,301h1v1h-1zM416,301h1v1h-1zM411,302h1v1h-1zM417,302h1v1h-1zM411,303h1v1h-1zM417,303h1v1h-1zM410,304h1v1h-1zM418,304h1v1h-1zM410,305h9v1h-9z" fill="#000" shape-rendering="crispEdges"/><path d="M430,300h1v1h-1zM429,301h1v1h-1zM431,301h1v1h-1zM429,302h1v1h-1zM431,302h1v1h-1zM428,303h1v1h-1zM432,303h1v1h-1zM428,304h1v1h-1zM432,304h1v1h-1zM427,305h1v1h-1zM433,305h1v1h-1zM427,306h1v1h-1zM433,306h1v1h-1zM426,307h1v1h-1zM434,307h1v1h-1zM426,308h9v1h-9z" fill="#000" shape-rendering="crispEdges"/><path d="M446,292h1v1h-1zM445,293h1v1h-1zM447,293h1v1h-1zM445,294h1v1h-1zM447,294h1v1h-1zM444,295h1v1h-1zM448,295h1v1h-1zM444,296h1v1h-1zM448,296h1v1h-1zM443,297h1v1h-1zM449,297h1v1h-1zM443,298h1v1h-1zM449,298h1v1h-1zM442,299h1v1h-1zM450,299h1v1h-1zM442,300h9v1h-9z" fill="#000" shape-rendering="crispEdges"/><path d="M462,291h1v1h-1zM461,292h1v1h-1zM463,292h1v1h-1zM461,293h1v1h-1zM463,293h1v1h-1zM460,294h1v1h-1zM464,294h1v1h-1zM460,295h1v1h-1zM464,295h1v1h-1zM459,296h1v1h-1zM465,296h1v1h-1zM459,297h1v1h-1zM465,297h1v1h-1zM458,298h1v1h-1zM466,298h1v1h-1zM458,299h9v1h-9z" fill="#000" shape-rendering="crispEdges"/><path d="M478,296h1v1h-1zM477,297h1v1h-1zM479,297h1v1h-1zM477,298h1v1h-1zM479,298h1v1h-1zM476,299h1v1h-1zM480,299h1v1h-1zM476,300h1v1h-1zM480,300h1v1h-1zM475,301h1v1h-1zM481,301h1v1h-1zM475,302h1v1h-1zM481,302h1v1h-1zM474,303h1v1h-1zM482,303h1v1h-1zM474,304h9v1h-9z" fill="#000" shape-rendering="crispEdges"/><path d="M494,298h1v1h-1zM493,299h1v1h-1zM495,299h1v1h-1zM493,300h1v1h-1zM495,300h1v1h-1zM492,301h1v1h-1zM496,301h1v1h-1zM492,302h1v1h-1zM496,302h1v1h-1zM491,303h1v1h-1zM497,303h1v1h-1zM491,304h1v1h-1zM497,304h1v1h-1zM490,305h1v1h-1zM498,305h1v1h-1zM490,306h9v1h-9z" fill="#000" shape-rendering="crispEdges"/><path d="M510,289h1v1h-1zM509,290h1v1h-1zM511,290h1v1h-1zM509,291h1v1h-1zM511,291h1v1h-1zM508,292h1v1h-1zM512,292h1v1h-1zM508,293h1v1h-1zM512,293h1v1h-1zM507,294h1v1h-1zM513,294h1v1h-1zM507,295h1v1h-1zM513,295h1v1h-1zM506,296h1v1h-1zM514,296h1v1h-1zM506,297h9v1h-9z" fill="#000" shape-rendering="crispEdges"/><path d="M526,284h1v1h-1zM525,285h1v1h-1zM527,285h1v1h-1zM525,286h1v1h-1zM527,286h1v1h-1zM524,287h1v1h-1zM528,287h1v1h-1zM524,288h1v1h-1zM528,288h1v1h-1zM523,289h1v1h-1zM529,289h1v1h-1zM523,290h1v1h-1zM529,290h1v1h-1zM522,291h1v1h-1zM530,291h1v1h-1zM522,292h9v1h-9z" fill="#000" shape-rendering="crispEdges"/><path d="M542,294h1v1h-1zM541,295h1v1h-1zM543,295h1v1h-1zM541,296h1v1h-1zM543,296h1v1h-1zM540,297h1v1h-1zM544,297h1v1h-1zM540,298h1v1h-1zM544,298h1v1h-1zM539,299h1v1h-1zM545,299h1v1h-1zM539,300h1v1h-1zM545,300h1v1h-1zM538,301h1v1h-1zM546,301h1v1h-1zM538,302h9v1h-9z" fill="#000" shape-rendering="crispEdges"/><path d="M558,310h1v1h-1zM557,311h1v1h-1zM559,311h1v1h-1zM557,312h1v1h-1zM559,312h1v1h-1zM556,313h1v1h-1zM560,313h1v1h-1zM556,314h1v1h-1zM560,314h1v1h-1zM555,315h1v1h-1zM561,315h1v1h-1zM555,316h1v1h-1zM561,316h1v1h-1zM554,317h1v1h-1zM562,317h1v1h-1zM554,318h9v1h-9z" fill="#000" shape-rendering="crispEdges"/><path d="M574,288h1v1h-1zM573,289h1v1h-1zM575,289h1v1h-1zM573,290h1v1h-1zM575,290h1v1h-1zM572,291h1v1h-1zM576,291h1v1h-1zM572,292h1v1h-1zM576,292h1v1h-1zM571,293h1v1h-1zM577,293h1v1h-1zM571,294h1v1h-1zM577,294h1v1h-1zM570,295h1v1h-1zM578,295h1v1h-1zM570,296h9v1h-9z" fill="#000" shape-rendering="crispEdges"/><path d="M590,278h1v1h-1zM589,279h1v1h-1zM591,279h1v1h-1zM589,280h1v1h-1zM591,280h1v1h-1zM588,281h1v1h-1zM592,281h1v1h-1zM588,282h1v1h-1zM592,282h1v1h-1zM587,283h1v1h-1zM593,283h1v1h-1zM587,284h1v1h-1zM593,284h1v1h-1zM586,285h1v1h-1zM594,285h1v1h-1zM586,286h9v1h-9z" fill="#000" shape-rendering="crispEdges"/><path d="M606,286h1v1h-1zM605,287h1v1h-1zM607,287h1v1h-1zM605,288h1v1h-1zM607,288h1v1h-1zM604,289h1v1h-1zM608,289h1v1h-1zM604,290h1v1h-1zM608,290h1v1h-1zM603,291h1v1h-1zM609,291h1v1h-1zM603,292h1v1h-1zM609,292h1v1h-1zM602,293h1v1h-1zM610,293h1v1h-1zM602,294h9v1h-9z" fill="#000" shape-rendering="crispEdges"/><path d="M621,285h1v1h-1zM620,286h1v1h-1zM622,286h1v1h-1zM620,287h1v1h-1zM622,287h1v1h-1zM619,288h1v1h-1zM623,288h1v1h-1zM619,289h1v1h-1zM623,289h1v1h-1zM618,290h1v1h-1zM624,290h1v1h-1zM618,291h1v1h-1zM624,291h1v1h-1zM617,292h1v1h-1zM625,292h1v1h-1zM617,293h9v1h-9z" fill="#000" shape-rendering="crispEdges"/><path d="M637,279h1v1h-1zM636,280h1v1h-1zM638,280h1v1h-1zM636,281h1v1h-1zM638,281h1v1h-1zM635,282h1v1h-1zM639,282h1v1h-1zM635,283h1v1h-1zM639,283h1v1h-1zM634,284h1v1h-1zM640,284h1v1h-1zM634,285h1v1h-1zM640,285h1v1h-1zM633,286h1v1h-1zM641,286h1v1h-1zM633,287h9v1h-9z" fill="#000" shape-rendering="crispEdges"/><path d="M653,272h1v1h-1zM652,273h1v1h-1zM654,273h1v1h-1zM652,274h1v1h-1zM654,274h1v1h-1zM651,275h1v1h-1zM655,275h1v1h-1zM651,276h1v1h-1zM655,276h1v1h-1zM650,277h1v1h-1zM656,277h1v1h-1zM650,278h1v1h-1zM656,278h1v1h-1zM649,279h1v1h-1zM657,279h1v1h-1zM649,280h9v1h-9z" fill="#000" shape-rendering="crispEdges"/><path d="M669,285h1v1h-1zM668,286h1v1h-1zM670,286h1v1h-1zM668,287h1v1h-1zM670,287h1v1h-1zM667,288h1v1h-1zM671,288h1v1h-1zM667,289h1v1h-1zM671,289h1v1h-1zM666,290h1v1h-1zM672,290h1v1h-1zM666,291h1v1h-1zM672,291h1v1h-1zM665,292h1v1h-1zM673,292h1v1h-1zM665,293h9v1h-9z" fill="#000" shape-rendering="crispEdges"/><path d="M685,295h1v1h-1zM684,296h1v1h-1zM686,296h1v1h-1zM684,297h1v1h-1zM686,297h1v1h-1zM683,298h1v1h-1zM687,298h1v1h-1zM683,299h1v1h-1zM687,299h1v1h-1zM682,300h1v1h-1zM688,300h1v1h-1zM682,301h1v1h-1zM688,301h1v1h-1zM681,302h1v1h-1zM689,302h1v1h-1zM681,303h9v1h-9z" fill="#000" shape-rendering="crispEdges"/><path d="M701,283h1v1h-1zM700,284h1v1h-1zM702,284h1v1h-1zM700,285h1v1h-1zM702,285h1v1h-1zM699,286h1v1h-1zM703,286h1v1h-1zM699,287h1v1h-1zM703,287h1v1h-1zM698,288h1v1h-1zM704,288h1v1h-1zM698,289h1v1h-1zM704,289h1v1h-1zM697,290h1v1h-1zM705,290h1v1h-1zM697,291h9v1h-9z" fill="#000" shape-rendering="crispEdges"/><path d="M717,281h1v1h-1zM716,282h1v1h-1zM718,282h1v1h-1zM716,283h1v1h-1zM718,283h1v1h-1zM715,284h1v1h-1zM719,284h1v1h-1zM715,285h1v1h-1zM719,285h1v1h-1zM714,286h1v1h-1zM720,286h1v1h-1zM714,287h1v1h-1zM720,287h1v1h-1zM713,288h1v1h-1zM721,288h1v1h-1zM713,289h9v1h-9z" fill="#000" shape-rendering="crispEdges"/><path d="M733,295h1v1h-1zM732,296h1v1h-1zM734,296h1v1h-1zM732,297h1v1h-1zM734,297h1v1h-1zM731,298h1v1h-1zM735,298h1v1h-1zM731,299h1v1h-1zM735,299h1v1h-1zM730,300h1v1h-1zM736,300h1v1h-1zM730,301h1v1h-1zM736,301h1v1h-1zM729,302h1v1h-1zM737,302h1v1h-1zM729,303h9v1h-9z" fill="#000" shape-rendering="crispEdges"/><path d="M749,285h1v1h-1zM748,286h1v1h-1zM750,286h1v1h-1zM748,287h1v1h-1zM750,287h1v1h-1zM747,288h1v1h-1zM751,288h1v1h-1zM747,289h1v1h-1zM751,289h1v1h-1zM746,290h1v1h-1zM752,290h1v1h-1zM746,291h1v1h-1zM752,291h1v1h-1zM745,292h1v1h-1zM753,292h1v1h-1zM745,293h9v1h-9z" fill="#000" shape-rendering="crispEdges"/><path d="M765,283h1v1h-1zM764,284h1v1h-1zM766,284h1v1h-1zM764,285h1v1h-1zM766,285h1v1h-1zM763,286h1v1h-1zM767,286h1v1h-1zM763,287h1v1h-1zM767,287h1v1h-1zM762,288h1v1h-1zM768,288h1v1h-1zM762,289h1v1h-1zM768,289h1v1h-1zM761,290h1v1h-1zM769,290h1v1h-1zM761,291h9v1h-9z" fill="#000" shape-rendering="crispEdges"/><path d="M781,277h1v1h-1zM780,278h1v1h-1zM782,278h1v1h-1zM780,279h1v1h-1zM782,279h1v1h-1zM779,280h1v1h-1zM783,280h1v1h-1zM779,281h1v1h-1zM783,281h1v1h-1zM778,282h1v1h-1zM784,282h1v1h-1zM778,283h1v1h-1zM784,283h1v1h-1zM777,284h1v1h-1zM785,284h1v1h-1zM777,285h9v1h-9z" fill="#000" shape-rendering="crispEdges"/><path d="M797,288h1v1h-1zM796,289h1v1h-1zM798,289h1v1h-1zM796,290h1v1h-1zM798,290h1v1h-1zM795,291h1v1h-1zM799,291h1v1h-1zM795,292h1v1h-1zM799,292h1v1h-1zM794,293h1v1h-1zM800,293h1v1h-1zM794,294h1v1h-1zM800,294h1v1h-1zM793,295h1v1h-1zM801,295h1v1h-1zM793,296h9v1h-9z" fill="#000" shape-rendering="crispEdges"/><path d="M813,295h1v1h-1zM812,296h1v1h-1zM814,296h1v1h-1zM812,297h1v1h-1zM814,297h1v1h-1zM811,298h1v1h-1zM815,298h1v1h-1zM811,299h1v1h-1zM815,299h1v1h-1zM810,300h1v1h-1zM816,300h1v1h-1zM810,301h1v1h-1zM816,301h1v1h-1zM809,302h1v1h-1zM817,302h1v1h-1zM809,303h9v1h-9z" fill="#000" shape-rendering="crispEdges"/><path d="M829,289h1v1h-1zM828,290h1v1h-1zM830,290h1v1h-1zM828,291h1v1h-1zM830,291h1v1h-1zM827,292h1v1h-1zM831,292h1v1h-1zM827,293h1v1h-1zM831,293h1v1h-1zM826,294h1v1h-1zM832,294h1v1h-1zM826,295h1v1h-1zM832,295h1v1h-1zM825,296h1v1h-1zM833,296h1v1h-1zM825,297h9v1h-9z" fill="#000" shape-rendering="crispEdges"/><path d="M845,280h1v1h-1zM844,281h1v1h-1zM846,281h1v1h-1zM844,282h1v1h-1zM846,282h1v1h-1zM843,283h1v1h-1zM847,283h1v1h-1zM843,284h1v1h-1zM847,284h1v1h-1zM842,285h1v1h-1zM848,285h1v1h-1zM842,286h1v1h-1zM848,286h1v1h-1zM841,287h1v1h-1zM849,287h1v1h-1zM841,288h9v1h-9z" fill="#000" shape-rendering="crispEdges"/><path d="M861,304h1v1h-1zM860,305h1v1h-1zM862,305h1v1h-1zM860,306h1v1h-1zM862,306h1v1h-1zM859,307h1v1h-1zM863,307h1v1h-1zM859,308h1v1h-1zM863,308h1v1h-1zM858,309h1v1h-1zM864,309h1v1h-1zM858,310h1v1h-1zM864,310h1v1h-1zM857,311h1v1h-1zM865,311h1v1h-1zM857,312h9v1h-9z" fill="#000" shape-rendering="crispEdges"/><path d="M877,323h1v1h-1zM876,324h1v1h-1zM878,324h1v1h-1zM876,325h1v1h-1zM878,325h1v1h-1zM875,326h1v1h-1zM879,326h1v1h-1zM875,327h1v1h-1zM879,327h1v1h-1zM874,328h1v1h-1zM880,328h1v1h-1zM874,329h1v1h-1zM880,329h1v1h-1zM873,330h1v1h-1zM881,330h1v1h-1zM873,331h9v1h-9z" fill="#000" shape-rendering="crispEdges"/><path d="M893,325h1v1h-1zM892,326h1v1h-1zM894,326h1v1h-1zM892,327h1v1h-1zM894,327h1v1h-1zM891,328h1v1h-1zM895,328h1v1h-1zM891,329h1v1h-1zM895,329h1v1h-1zM890,330h1v1h-1zM896,330h1v1h-1zM890,331h1v1h-1zM896,331h1v1h-1zM889,332h1v1h-1zM897,332h1v1h-1zM889,333h9v1h-9z" fill="#000" shape-rendering="crispEdges"/><path d="M908,319h1v1h-1zM907,320h1v1h-1zM909,320h1v1h-1zM907,321h1v1h-1zM909,321h1v1h-1zM906,322h1v1h-1zM910,322h1v1h-1zM906,323h1v1h-1zM910,323h1v1h-1zM905,324h1v1h-1zM911,324h1v1h-1zM905,325h1v1h-1zM911,325h1v1h-1zM904,326h1v1h-1zM912,326h1v1h-1zM904,327h9v1h-9z" fill="#000" shape-rendering="crispEdges"/><path d="M924,337h1v1h-1zM923,338h1v1h-1zM925,338h1v1h-1zM923,339h1v1h-1zM925,339h1v1h-1zM922,340h1v1h-1zM926,340h1v1h-1zM922,341h1v1h-1zM926,341h1v1h-1zM921,342h1v1h-1zM927,342h1v1h-1zM921,343h1v1h-1zM927,343h1v1h-1zM920,344h1v1h-1zM928,344h1v1h-1zM920,345h9v1h-9z" fill="#000" shape-rendering="crispEdges"/><path d="M940,331h1v1h-1zM939,332h1v1h-1zM941,332h1v1h-1zM939,333h1v1h-1zM941,333h1v1h-1zM938,334h1v1h-1zM942,334h1v1h-1zM938,335h1v1h-1zM942,335h1v1h-1zM937,336h1v1h-1zM943,336h1v1h-1zM937,337h1v1h-1zM943,337h1v1h-1zM936,338h1v1h-1zM944,338h1v1h-1zM936,339h9v1h-9z" fill="#000" shape-rendering="crispEdges"/><path d="M956,325h1v1h-1zM955,326h1v1h-1zM957,326h1v1h-1zM955,327h1v1h-1zM957,327h1v1h-1zM954,328h1v1h-1zM958,328h1v1h-1zM954,329h1v1h-1zM958,329h1v1h-1zM953,330h1v1h-1zM959,330h1v1h-1zM953,331h1v1h-1zM959,331h1v1h-1zM952,332h1v1h-1zM960,332h1v1h-1zM952,333h9v1h-9z" fill="#000" shape-rendering="crispEdges"/><path d="M972,322h1v1h-1zM971,323h1v1h-1zM973,323h1v1h-1zM971,324h1v1h-1zM973,324h1v1h-1zM970,325h1v1h-1zM974,325h1v1h-1zM970,326h1v1h-1zM974,326h1v1h-1zM969,327h1v1h-1zM975,327h1v1h-1zM969,328h1v1h-1zM975,328h1v1h-1zM968,329h1v1h-1zM976,329h1v1h-1zM968,330h9v1h-9z" fill="#000" shape-rendering="crispEdges"/><path d="M988,332h1v1h-1zM987,333h1v1h-1zM989,333h1v1h-1zM987,334h1v1h-1zM989,334h1v1h-1zM986,335h1v1h-1zM990,335h1v1h-1zM986,336h1v1h-1zM990,336h1v1h-1zM985,337h1v1h-1zM991,337h1v1h-1zM985,338h1v1h-1zM991,338h1v1h-1zM984,339h1v1h-1zM992,339h1v1h-1zM984,340h9v1h-9z" fill="#000" shape-rendering="crispEdges"/><path d="M1004,336h1v1h-1zM1003,337h1v1h-1zM1005,337h1v1h-1zM1003,338h1v1h-1zM1005,338h1v1h-1zM1002,339h1v1h-1zM1006,339h1v1h-1zM1002,340h1v1h-1zM1006,340h1v1h-1zM1001,341h1v1h-1zM1007,341h1v1h-1zM1001,342h1v1h-1zM1007,342h1v1h-1zM1000,343h1v1h-1zM1008,343h1v1h-1zM1000,344h9v1h-9z" fill="#000" shape-rendering="crispEdges"/><path d="M1020,342h1v1h-1zM1019,343h1v1h-1zM1021,343h1v1h-1zM1019,344h1v1h-1zM1021,344h1v1h-1zM1018,345h1v1h-1zM1022,345h1v1h-1zM1018,346h1v1h-1zM1022,346h1v1h-1zM1017,347h1v1h-1zM1023,347h1v1h-1zM1017,348h1v1h-1zM1023,348h1v1h-1zM1016,349h1v1h-1zM1024,349h1v1h-1zM1016,350h9v1h-9z" fill="#000" shape-rendering="crispEdges"/><path d="M1036,351h1v1h-1zM1035,352h1v1h-1zM1037,352h1v1h-1zM1035,353h1v1h-1zM1037,353h1v1h-1zM1034,354h1v1h-1zM1038,354h1v1h-1zM1034,355h1v1h-1zM1038,355h1v1h-1zM1033,356h1v1h-1zM1039,356h1v1h-1zM1033,357h1v1h-1zM1039,357h1v1h-1zM1032,358h1v1h-1zM1040,358h1v1h-1zM1032,359h9v1h-9z" fill="#000" shape-rendering="crispEdges"/><path d="M1052,364h1v1h-1zM1051,365h1v1h-1zM1053,365h1v1h-1zM1051,366h1v1h-1zM1053,366h1v1h-1zM1050,367h1v1h-1zM1054,367h1v1h-1zM1050,368h1v1h-1zM1054,368h1v1h-1zM1049,369h1v1h-1zM1055,369h1v1h-1zM1049,370h1v1h-1zM1055,370h1v1h-1zM1048,371h1v1h-1zM1056,371h1v1h-1zM1048,372h9v1h-9z" fill="#000" shape-rendering="crispEdges"/><path d="M1068,379h1v1h-1zM1067,380h1v1h-1zM1069,380h1v1h-1zM1067,381h1v1h-1zM1069,381h1v1h-1zM1066,382h1v1h-1zM1070,382h1v1h-1zM1066,383h1v1h-1zM1070,383h1v1h-1zM1065,384h1v1h-1zM1071,384h1v1h-1zM1065,385h1v1h-1zM1071,385h1v1h-1zM1064,386h1v1h-1zM1072,386h1v1h-1zM1064,387h9v1h-9z" fill="#000" shape-rendering="crispEdges"/></g>
<path d="M118.5,371H135V362H151V347H167V331H183V318H199V309H215V311H231V308H247V300H263V296H279V311H295V306H310V298H326V296H342V307H358V308H374V297H390V295H406V303H422V306H438V299H454V297H470V302H486V304H502V295H518V290H534V300H550V316H566V293H582V284H598V293H613V292H629V286H645V279H661V292H677V302H693V289H709V288H725V301H741V292H757V289H773V284H789V294H805V302H821V295H837V287H853V310H869V329H885V331H900V325H916V342H932V337H948V330H964V327H980V337H996V342H1012V348H1028V357H1044V369H1060V384H1076.5" fill="none" stroke="#cc6633" stroke-width="2" stroke-linejoin="miter" shape-rendering="crispEdges" clip-path="url(#c1)"/>
<g><path d="M123,367h9v1h-9zM124,368h1v1h-1zM130,368h1v1h-1zM124,369h1v1h-1zM130,369h1v1h-1zM125,370h1v1h-1zM129,370h1v1h-1zM125,371h1v1h-1zM129,371h1v1h-1zM126,372h1v1h-1zM128,372h1v1h-1zM126,373h1v1h-1zM128,373h1v1h-1zM127,374h1v1h-1z" fill="#000" shape-rendering="crispEdges"/><path d="M139,358h9v1h-9zM140,359h1v1h-1zM146,359h1v1h-1zM140,360h1v1h-1zM146,360h1v1h-1zM141,361h1v1h-1zM145,361h1v1h-1zM141,362h1v1h-1zM145,362h1v1h-1zM142,363h1v1h-1zM144,363h1v1h-1zM142,364h1v1h-1zM144,364h1v1h-1zM143,365h1v1h-1z" fill="#000" shape-rendering="crispEdges"/><path d="M155,343h9v1h-9zM156,344h1v1h-1zM162,344h1v1h-1zM156,345h1v1h-1zM162,345h1v1h-1zM157,346h1v1h-1zM161,346h1v1h-1zM157,347h1v1h-1zM161,347h1v1h-1zM158,348h1v1h-1zM160,348h1v1h-1zM158,349h1v1h-1zM160,349h1v1h-1zM159,350h1v1h-1z" fill="#000" shape-rendering="crispEdges"/><path d="M171,327h9v1h-9zM172,328h1v1h-1zM178,328h1v1h-1zM172,329h1v1h-1zM178,329h1v1h-1zM173,330h1v1h-1zM177,330h1v1h-1zM173,331h1v1h-1zM177,331h1v1h-1zM174,332h1v1h-1zM176,332h1v1h-1zM174,333h1v1h-1zM176,333h1v1h-1zM175,334h1v1h-1z" fill="#000" shape-rendering="crispEdges"/><path d="M187,314h9v1h-9zM188,315h1v1h-1zM194,315h1v1h-1zM188,316h1v1h-1zM194,316h1v1h-1zM189,317h1v1h-1zM193,317h1v1h-1zM189,318h1v1h-1zM193,318h1v1h-1zM190,319h1v1h-1zM192,319h1v1h-1zM190,320h1v1h-1zM192,320h1v1h-1zM191,321h1v1h-1z" fill="#000" shape-rendering="crispEdges"/><path d="M203,305h9v1h-9zM204,306h1v1h-1zM210,306h1v1h-1zM204,307h1v1h-1zM210,307h1v1h-1zM205,308h1v1h-1zM209,308h1v1h-1zM205,309h1v1h-1zM209,309h1v1h-1zM206,310h1v1h-1zM208,310h1v1h-1zM206,311h1v1h-1zM208,311h1v1h-1zM207,312h1v1h-1z" fill="#000" shape-rendering="crispEdges"/><path d="M219,307h9v1h-9zM220,308h1v1h-1zM226,308h1v1h-1zM220,309h1v1h-1zM226,309h1v1h-1zM221,310h1v1h-1zM225,310h1v1h-1zM221,311h1v1h-1zM225,311h1v1h-1zM222,312h1v1h-1zM224,312h1v1h-1zM222,313h1v1h-1zM224,313h1v1h-1zM223,314h1v1h-1z" fill="#000" shape-rendering="crispEdges"/><path d="M235,304h9v1h-9zM236,305h1v1h-1zM242,305h1v1h-1zM236,306h1v1h-1zM242,306h1v1h-1zM237,307h1v1h-1zM241,307h1v1h-1zM237,308h1v1h-1zM241,308h1v1h-1zM238,309h1v1h-1zM240,309h1v1h-1zM238,310h1v1h-1zM240,310h1v1h-1zM239,311h1v1h-1z" fill="#000" shape-rendering="crispEdges"/><path d="M251,296h9v1h-9zM252,297h1v1h-1zM258,297h1v1h-1zM252,298h1v1h-1zM258,298h1v1h-1zM253,299h1v1h-1zM257,299h1v1h-1zM253,300h1v1h-1zM257,300h1v1h-1zM254,301h1v1h-1zM256,301h1v1h-1zM254,302h1v1h-1zM256,302h1v1h-1zM255,303h1v1h-1z" fill="#000" shape-rendering="crispEdges"/><path d="M267,292h9v1h-9zM268,293h1v1h-1zM274,293h1v1h-1zM268,294h1v1h-1zM274,294h1v1h-1zM269,295h1v1h-1zM273,295h1v1h-1zM269,296h1v1h-1zM273,296h1v1h-1zM270,297h1v1h-1zM272,297h1v1h-1zM270,298h1v1h-1zM272,298h1v1h-1zM271,299h1v1h-1z" fill="#000" shape-rendering="crispEdges"/><path d="M283,307h9v1h-9zM284,308h1v1h-1zM290,308h1v1h-1zM284,309h1v1h-1zM290,309h1v1h-1zM285,310h1v1h-1zM289,310h1v1h-1zM285,311h1v1h-1zM289,311h1v1h-1zM286,312h1v1h-1zM288,312h1v1h-1zM286,313h1v1h-1zM288,313h1v1h-1zM287,314h1v1h-1z" fill="#000" shape-rendering="crispEdges"/><path d="M299,302h9v1h-9zM300,303h1v1h-1zM306,303h1v1h-1zM300,304h1v1h-1zM306,304h1v1h-1zM301,305h1v1h-1zM305,305h1v1h-1zM301,306h1v1h-1zM305,306h1v1h-1zM302,307h1v1h-1zM304,307h1v1h-1zM302,308h1v1h-1zM304,308h1v1h-1zM303,309h1v1h-1z" fill="#000" shape-rendering="crispEdges"/><path d="M314,294h9v1h-9zM315,295h1v1h-1zM321,295h1v1h-1zM315,296h1v1h-1zM321,296h1v1h-1zM316,297h1v1h-1zM320,297h1v1h-1zM316,298h1v1h-1zM320,298h1v1h-1zM317,299h1v1h-1zM319,299h1v1h-1zM317,300h1v1h-1zM319,300h1v1h-1zM318,301h1v1h-1z" fill="#000" shape-rendering="crispEdges"/><path d="M330,292h9v1h-9zM331,293h1v1h-1zM337,293h1v1h-1zM331,294h1v1h-1zM337,294h1v1h-1zM332,295h1v1h-1zM336,295h1v1h-1zM332,296h1v1h-1zM336,296h1v1h-1zM333,297h1v1h-1zM335,297h1v1h-1zM333,298h1v1h-1zM335,298h1v1h-1zM334,299h1v1h-1z" fill="#000" shape-rendering="crispEdges"/><path d="M346,303h9v1h-9zM347,304h1v1h-1zM353,304h1v1h-1zM347,305h1v1h-1zM353,305h1v1h-1zM348,306h1v1h-1zM352,306h1v1h-1zM348,307h1v1h-1zM352,307h1v1h-1zM349,308h1v1h-1zM351,308h1v1h-1zM349,309h1v1h-1zM351,309h1v1h-1zM350,310h1v1h-1z" fill="#000" shape-rendering="crispEdges"/><path d="M362,304h9v1h-9zM363,305h1v1h-1zM369,305h1v1h-1zM363,306h1v1h-1zM369,306h1v1h-1zM364,307h1v1h-1zM368,307h1v1h-1zM364,308h1v1h-1zM368,308h1v1h-1zM365,309h1v1h-1zM367,309h1v1h-1zM365,310h1v1h-1zM367,310h1v1h-1zM366,311h1v1h-1z" fill="#000" shape-rendering="crispEdges"/><path d="M378,293h9v1h-9zM379,294h1v1h-1zM385,294h1v1h-1zM379,295h1v1h-1zM385,295h1v1h-1zM380,296h1v1h-1zM384,296h1v1h-1zM380,297h1v1h-1zM384,297h1v1h-1zM381,298h1v1h-1zM383,298h1v1h-1zM381,299h1v1h-1zM383,299h1v1h-1zM382,300h1v1h-1z" fill="#000" shape-rendering="crispEdges"/><path d="M394,291h9v1h-9zM395,292h1v1h-1zM401,292h1v1h-1zM395,293h1v1h-1zM401,293h1v1h-1zM396,294h1v1h-1zM400,294h1v1h-1zM396,295h1v1h-1zM400,295h1v1h-1zM397,296h1v1h-1zM399,296h1v1h-1zM397,297h1v1h-1zM399,297h1v1h-1zM398,298h1v1h-1z" fill="#000" shape-rendering="crispEdges"/><path d="M410,299h9v1h-9zM411,300h1v1h-1zM417,300h1v1h-1zM411,301h1v1h-1zM417,301h1v1h-1zM412,302h1v1h-1zM416,302h1v1h-1zM412,303h1v1h-1zM416,303h1v1h-1zM413,304h1v1h-1zM415,304h1v1h-1zM413,305h1v1h-1zM415,305h1v1h-1zM414,306h1v1h-1z" fill="#000" shape-rendering="crispEdges"/><path d="M426,302h9v1h-9zM427,303h1v1h-1zM433,303h1v1h-1zM427,304h1v1h-1zM433,304h1v1h-1zM428,305h1v1h-1zM432,305h1v1h-1zM428,306h1v1h-1zM432,306h1v1h-1zM429,307h1v1h-1zM431,307h1v1h-1zM429,308h1v1h-1zM431,308h1v1h-1zM430,309h1v1h-1z" fill="#000" shape-rendering="crispEdges"/><path d="M442,295h9v1h-9zM443,296h1v1h-1zM449,296h1v1h-1zM443,297h1v1h-1zM449,297h1v1h-1zM444,298h1v1h-1zM448,298h1v1h-1zM444,299h1v1h-1zM448,299h1v1h-1zM445,300h1v1h-1zM447,300h1v1h-1zM445,301h1v1h-1zM447,301h1v1h-1zM446,302h1v1h-1z" fill="#000" shape-rendering="crispEdges"/><path d="M458,293h9v1h-9zM459,294h1v1h-1zM465,294h1v1h-1zM459,295h1v1h-1zM465,295h1v1h-1zM460,296h1v1h-1zM464,296h1v1h-1zM460,297h1v1h-1zM464,297h1v1h-1zM461,298h1v1h-1zM463,298h1v1h-1zM461,299h1v1h-1zM463,299h1v1h-1zM462,300h1v1h-1z" fill="#000" shape-rendering="crispEdges"/><path d="M474,298h9v1h-9zM475,299h1v1h-1zM481,299h1v1h-1zM475,300h1v1h-1zM481,300h1v1h-1zM476,301h1v1h-1zM480,301h1v1h-1zM476,302h1v1h-1zM480,302h1v1h-1zM477,303h1v1h-1zM479,303h1v1h-1zM477,304h1v1h-1zM479,304h1v1h-1zM478,305h1v1h-1z" fill="#000" shape-rendering="crispEdges"/><path d="M490,300h9v1h-9zM491,301h1v1h-1zM497,301h1v1h-1zM491,302h1v1h-1zM497,302h1v1h-1zM492,303h1v1h-1zM496,303h1v1h-1zM492,304h1v1h-1zM496,304h1v1h-1zM493,305h1v1h-1zM495,305h1v1h-1zM493,306h1v1h-1zM495,306h1v1h-1zM494,307h1v1h-1z" fill="#000" shape-rendering="crispEdges"/><path d="M506,291h9v1h-9zM507,292h1v1h-1zM513,292h1v1h-1zM507,293h1v1h-1zM513,293h1v1h-1zM508,294h1v1h-1zM512,294h1v1h-1zM508,295h1v1h-1zM512,295h1v1h-1zM509,296h1v1h-1zM511,296h1v1h-1zM509,297h1v1h-1zM511,297h1v1h-1zM510,298h1v1h-1z" fill="#000" shape-rendering="crispEdges"/><path d="M522,286h9v1h-9zM523,287h1v1h-1zM529,287h1v1h-1zM523,288h1v1h-1zM529,288h1v1h-1zM524,289h1v1h-1zM528,289h1v1h-1zM524,290h1v1h-1zM528,290h1v1h-1zM525,291h1v1h-1zM527,291h1v1h-1zM525,292h1v1h-1zM527,292h1v1h-1zM526,293h1v1h-1z" fill="#000" shape-rendering="crispEdges"/><path d="M538,296h9v1h-9zM539,297h1v1h-1zM545,297h1v1h-1zM539,298h1v1h-1zM545,298h1v1h-1zM540,299h1v1h-1zM544,299h1v1h-1zM540,300h1v1h-1zM544,300h1v1h-1zM541,301h1v1h-1zM543,301h1v1h-1zM541,302h1v1h-1zM543,302h1v1h-1zM542,303h1v1h-1z" fill="#000" shape-rendering="crispEdges"/><path d="M554,312h9v1h-9zM555,313h1v1h-1zM561,313h1v1h-1zM555,314h1v1h-1zM561,314h1v1h-1zM556,315h1v1h-1zM560,315h1v1h-1zM556,316h1v1h-1zM560,316h1v1h-1zM557,317h1v1h-1zM559,317h1v1h-1zM557,318h1v1h-1zM559,318h1v1h-1zM558,319h1v1h-1z" fill="#000" shape-rendering="crispEdges"/><path d="M570,289h9v1h-9zM571,290h1v1h-1zM577,290h1v1h-1zM571,291h1v1h-1zM577,291h1v1h-1zM572,292h1v1h-1zM576,292h1v1h-1zM572,293h1v1h-1zM576,293h1v1h-1zM573,294h1v1h-1zM575,294h1v1h-1zM573,295h1v1h-1zM575,295h1v1h-1zM574,296h1v1h-1z" fill="#000" shape-rendering="crispEdges"/><path d="M586,280h9v1h-9zM587,281h1v1h-1zM593,281h1v1h-1zM587,282h1v1h-1zM593,282h1v1h-1zM588,283h1v1h-1zM592,283h1v1h-1zM588,284h1v1h-1zM592,284h1v1h-1zM589,285h1v1h-1zM591,285h1v1h-1zM589,286h1v1h-1zM591,286h1v1h-1zM590,287h1v1h-1z" fill="#000" shape-rendering="crispEdges"/><path d="M602,289h9v1h-9zM603,290h1v1h-1zM609,290h1v1h-1zM603,291h1v1h-1zM609,291h1v1h-1zM604,292h1v1h-1zM608,292h1v1h-1zM604,293h1v1h-1zM608,293h1v1h-1zM605,294h1v1h-1zM607,294h1v1h-1zM605,295h1v1h-1zM607,295h1v1h-1zM606,296h1v1h-1z" fill="#000" shape-rendering="crispEdges"/><path d="M617,288h9v1h-9zM618,289h1v1h-1zM624,289h1v1h-1zM618,290h1v1h-1zM624,290h1v1h-1zM619,291h1v1h-1zM623,291h1v1h-1zM619,292h1v1h-1zM623,292h1v1h-1zM620,293h1v1h-1zM622,293h1v1h-1zM620,294h1v1h-1zM622,294h1v1h-1zM621,295h1v1h-1z" fill="#000" shape-rendering="crispEdges"/><path d="M633,282h9v1h-9zM634,283h1v1h-1zM640,283h1v1h-1zM634,284h1v1h-1zM640,284h1v1h-1zM635,285h1v1h-1zM639,285h1v1h-1zM635,286h1v1h-1zM639,286h1v1h-1zM636,287h1v1h-1zM638,287h1v1h-1zM636,288h1v1h-1zM638,288h1v1h-1zM637,289h1v1h-1z" fill="#000" shape-rendering="crispEdges"/><path d="M649,275h9v1h-9zM650,276h1v1h-1zM656,276h1v1h-1zM650,277h1v1h-1zM656,277h1v1h-1zM651,278h1v1h-1zM655,278h1v1h-1zM651,279h1v1h-1zM655,279h1v1h-1zM652,280h1v1h-1zM654,280h1v1h-1zM652,281h1v1h-1zM654,281h1v1h-1zM653,282h1v1h-1z" fill="#000" shape-rendering="crispEdges"/><path d="M665,288h9v1h-9zM666,289h1v1h-1zM672,289h1v1h-1zM666,290h1v1h-1zM672,290h1v1h-1zM667,291h1v1h-1zM671,291h1v1h-1zM667,292h1v1h-1zM671,292h1v1h-1zM668,293h1v1h-1zM670,293h1v1h-1zM668,294h1v1h-1zM670,294h1v1h-1zM669,295h1v1h-1z" fill="#000" shape-rendering="crispEdges"/><path d="M681,298h9v1h-9zM682,299h1v1h-1zM688,299h1v1h-1zM682,300h1v1h-1zM688,300h1v1h-1zM683,301h1v1h-1zM687,301h1v1h-1zM683,302h1v1h-1zM687,302h1v1h-1zM684,303h1v1h-1zM686,303h1v1h-1zM684,304h1v1h-1zM686,304h1v1h-1zM685,305h1v1h-1z" fill="#000" shape-rendering="crispEdges"/><path d="M697,285h9v1h-9zM698,286h1v1h-1zM704,286h1v1h-1zM698,287h1v1h-1zM704,287h1v1h-1zM699,288h1v1h-1zM703,288h1v1h-1zM699,289h1v1h-1zM703,289h1v1h-1zM700,290h1v1h-1zM702,290h1v1h-1zM700,291h1v1h-1zM702,291h1v1h-1zM701,292h1v1h-1z" fill="#000" shape-rendering="crispEdges"/><path d="M713,284h9v1h-9zM714,285h1v1h-1zM720,285h1v1h-1zM714,286h1v1h-1zM720,286h1v1h-1zM715,287h1v1h-1zM719,287h1v1h-1zM715,288h1v1h-1zM719,288h1v1h-1zM716,289h1v1h-1zM718,289h1v1h-1zM716,290h1v1h-1zM718,290h1v1h-1zM717,291h1v1h-1z" fill="#000" shape-rendering="crispEdges"/><path d="M729,297h9v1h-9zM730,298h1v1h-1zM736,298h1v1h-1zM730,299h1v1h-1zM736,299h1v1h-1zM731,300h1v1h-1zM735,300h1v1h-1zM731,301h1v1h-1zM735,301h1v1h-1zM732,302h1v1h-1zM734,302h1v1h-1zM732,303h1v1h-1zM734,303h1v1h-1zM733,304h1v1h-1z" fill="#000" shape-rendering="crispEdges"/><path d="M745,288h9v1h-9zM746,289h1v1h-1zM752,289h1v1h-1zM746,290h1v1h-1zM752,290h1v1h-1zM747,291h1v1h-1zM751,291h1v1h-1zM747,292h1v1h-1zM751,292h1v1h-1zM748,293h1v1h-1zM750,293h1v1h-1zM748,294h1v1h-1zM750,294h1v1h-1zM749,295h1v1h-1z" fill="#000" shape-rendering="crispEdges"/><path d="M761,285h9v1h-9zM762,286h1v1h-1zM768,286h1v1h-1zM762,287h1v1h-1zM768,287h1v1h-1zM763,288h1v1h-1zM767,288h1v1h-1zM763,289h1v1h-1zM767,289h1v1h-1zM764,290h1v1h-1zM766,290h1v1h-1zM764,291h1v1h-1zM766,291h1v1h-1zM765,292h1v1h-1z" fill="#000" shape-rendering="crispEdges"/><path d="M777,280h9v1h-9zM778,281h1v1h-1zM784,281h1v1h-1zM778,282h1v1h-1zM784,282h1v1h-1zM779,283h1v1h-1zM783,283h1v1h-1zM779,284h1v1h-1zM783,284h1v1h-1zM780,285h1v1h-1zM782,285h1v1h-1zM780,286h1v1h-1zM782,286h1v1h-1zM781,287h1v1h-1z" fill="#000" shape-rendering="crispEdges"/><path d="M793,290h9v1h-9zM794,291h1v1h-1zM800,291h1v1h-1zM794,292h1v1h-1zM800,292h1v1h-1zM795,293h1v1h-1zM799,293h1v1h-1zM795,294h1v1h-1zM799,294h1v1h-1zM796,295h1v1h-1zM798,295h1v1h-1zM796,296h1v1h-1zM798,296h1v1h-1zM797,297h1v1h-1z" fill="#000" shape-rendering="crispEdges"/><path d="M809,298h9v1h-9zM810,299h1v1h-1zM816,299h1v1h-1zM810,300h1v1h-1zM816,300h1v1h-1zM811,301h1v1h-1zM815,301h1v1h-1zM811,302h1v1h-1zM815,302h1v1h-1zM812,303h1v1h-1zM814,303h1v1h-1zM812,304h1v1h-1zM814,304h1v1h-1zM813,305h1v1h-1z" fill="#000" shape-rendering="crispEdges"/><path d="M825,291h9v1h-9zM826,292h1v1h-1zM832,292h1v1h-1zM826,293h1v1h-1zM832,293h1v1h-1zM827,294h1v1h-1zM831,294h1v1h-1zM827,295h1v1h-1zM831,295h1v1h-1zM828,296h1v1h-1zM830,296h1v1h-1zM828,297h1v1h-1zM830,297h1v1h-1zM829,298h1v1h-1z" fill="#000" shape-rendering="crispEdges"/><path d="M841,283h9v1h-9zM842,284h1v1h-1zM848,284h1v1h-1zM842,285h1v1h-1zM848,285h1v1h-1zM843,286h1v1h-1zM847,286h1v1h-1zM843,287h1v1h-1zM847,287h1v1h-1zM844,288h1v1h-1zM846,288h1v1h-1zM844,289h1v1h-1zM846,289h1v1h-1zM845,290h1v1h-1z" fill="#000" shape-rendering="crispEdges"/><path d="M857,306h9v1h-9zM858,307h1v1h-1zM864,307h1v1h-1zM858,308h1v1h-1zM864,308h1v1h-1zM859,309h1v1h-1zM863,309h1v1h-1zM859,310h1v1h-1zM863,310h1v1h-1zM860,311h1v1h-1zM862,311h1v1h-1zM860,312h1v1h-1zM862,312h1v1h-1zM861,313h1v1h-1z" fill="#000" shape-rendering="crispEdges"/><path d="M873,325h9v1h-9zM874,326h1v1h-1zM880,326h1v1h-1zM874,327h1v1h-1zM880,327h1v1h-1zM875,328h1v1h-1zM879,328h1v1h-1zM875,329h1v1h-1zM879,329h1v1h-1zM876,330h1v1h-1zM878,330h1v1h-1zM876,331h1v1h-1zM878,331h1v1h-1zM877,332h1v1h-1z" fill="#000" shape-rendering="crispEdges"/><path d="M889,327h9v1h-9zM890,328h1v1h-1zM896,328h1v1h-1zM890,329h1v1h-1zM896,329h1v1h-1zM891,330h1v1h-1zM895,330h1v1h-1zM891,331h1v1h-1zM895,331h1v1h-1zM892,332h1v1h-1zM894,332h1v1h-1zM892,333h1v1h-1zM894,333h1v1h-1zM893,334h1v1h-1z" fill="#000" shape-rendering="crispEdges"/><path d="M904,321h9v1h-9zM905,322h1v1h-1zM911,322h1v1h-1zM905,323h1v1h-1zM911,323h1v1h-1zM906,324h1v1h-1zM910,324h1v1h-1zM906,325h1v1h-1zM910,325h1v1h-1zM907,326h1v1h-1zM909,326h1v1h-1zM907,327h1v1h-1zM909,327h1v1h-1zM908,328h1v1h-1z" fill="#000" shape-rendering="crispEdges"/><path d="M920,338h9v1h-9zM921,339h1v1h-1zM927,339h1v1h-1zM921,340h1v1h-1zM927,340h1v1h-1zM922,341h1v1h-1zM926,341h1v1h-1zM922,342h1v1h-1zM926,342h1v1h-1zM923,343h1v1h-1zM925,343h1v1h-1zM923,344h1v1h-1zM925,344h1v1h-1zM924,345h1v1h-1z" fill="#000" shape-rendering="crispEdges"/><path d="M936,333h9v1h-9zM937,334h1v1h-1zM943,334h1v1h-1zM937,335h1v1h-1zM943,335h1v1h-1zM938,336h1v1h-1zM942,336h1v1h-1zM938,337h1v1h-1zM942,337h1v1h-1zM939,338h1v1h-1zM941,338h1v1h-1zM939,339h1v1h-1zM941,339h1v1h-1zM940,340h1v1h-1z" fill="#000" shape-rendering="crispEdges"/><path d="M952,326h9v1h-9zM953,327h1v1h-1zM959,327h1v1h-1zM953,328h1v1h-1zM959,328h1v1h-1zM954,329h1v1h-1zM958,329h1v1h-1zM954,330h1v1h-1zM958,330h1v1h-1zM955,331h1v1h-1zM957,331h1v1h-1zM955,332h1v1h-1zM957,332h1v1h-1zM956,333h1v1h-1z" fill="#000" shape-rendering="crispEdges"/><path d="M968,323h9v1h-9zM969,324h1v1h-1zM975,324h1v1h-1zM969,325h1v1h-1zM975,325h1v1h-1zM970,326h1v1h-1zM974,326h1v1h-1zM970,327h1v1h-1zM974,327h1v1h-1zM971,328h1v1h-1zM973,328h1v1h-1zM971,329h1v1h-1zM973,329h1v1h-1zM972,330h1v1h-1z" fill="#000" shape-rendering="crispEdges"/><path d="M984,333h9v1h-9zM985,334h1v1h-1zM991,334h1v1h-1zM985,335h1v1h-1zM991,335h1v1h-1zM986,336h1v1h-1zM990,336h1v1h-1zM986,337h1v1h-1zM990,337h1v1h-1zM987,338h1v1h-1zM989,338h1v1h-1zM987,339h1v1h-1zM989,339h1v1h-1zM988,340h1v1h-1z" fill="#000" shape-rendering="crispEdges"/><path d="M1000,338h9v1h-9zM1001,339h1v1h-1zM1007,339h1v1h-1zM1001,340h1v1h-1zM1007,340h1v1h-1zM1002,341h1v1h-1zM1006,341h1v1h-1zM1002,342h1v1h-1zM1006,342h1v1h-1zM1003,343h1v1h-1zM1005,343h1v1h-1zM1003,344h1v1h-1zM1005,344h1v1h-1zM1004,345h1v1h-1z" fill="#000" shape-rendering="crispEdges"/><path d="M1016,344h9v1h-9zM1017,345h1v1h-1zM1023,345h1v1h-1zM1017,346h1v1h-1zM1023,346h1v1h-1zM1018,347h1v1h-1zM1022,347h1v1h-1zM1018,348h1v1h-1zM1022,348h1v1h-1zM1019,349h1v1h-1zM1021,349h1v1h-1zM1019,350h1v1h-1zM1021,350h1v1h-1zM1020,351h1v1h-1z" fill="#000" shape-rendering="crispEdges"/><path d="M1032,353h9v1h-9zM1033,354h1v1h-1zM1039,354h1v1h-1zM1033,355h1v1h-1zM1039,355h1v1h-1zM1034,356h1v1h-1zM1038,356h1v1h-1zM1034,357h1v1h-1zM1038,357h1v1h-1zM1035,358h1v1h-1zM1037,358h1v1h-1zM1035,359h1v1h-1zM1037,359h1v1h-1zM1036,360h1v1h-1z" fill="#000" shape-rendering="crispEdges"/><path d="M1048,365h9v1h-9zM1049,366h1v1h-1zM1055,366h1v1h-1zM1049,367h1v1h-1zM1055,367h1v1h-1zM1050,368h1v1h-1zM1054,368h1v1h-1zM1050,369h1v1h-1zM1054,369h1v1h-1zM1051,370h1v1h-1zM1053,370h1v1h-1zM1051,371h1v1h-1zM1053,371h1v1h-1zM1052,372h1v1h-1z" fill="#000" shape-rendering="crispEdges"/><path d="M1064,380h9v1h-9zM1065,381h1v1h-1zM1071,381h1v1h-1zM1065,382h1v1h-1zM1071,382h1v1h-1zM1066,383h1v1h-1zM1070,383h1v1h-1zM1066,384h1v1h-1zM1070,384h1v1h-1zM1067,385h1v1h-1zM1069,385h1v1h-1zM1067,386h1v1h-1zM1069,386h1v1h-1zM1068,387h1v1h-1z" fill="#000" shape-rendering="crispEdges"/></g>
<line x1="119" y1="535.5" x2="1076" y2="535.5" stroke="#000" stroke-width="1" stroke-dasharray="1 2" shape-rendering="crispEdges"/>
<line x1="119" y1="509.5" x2="1076" y2="509.5" stroke="#000" stroke-width="1" stroke-dasharray="1 2" shape-rendering="crispEdges"/>
<line x1="119" y1="483.5" x2="1076" y2="483.5" stroke="#000" stroke-width="1" stroke-dasharray="1 2" shape-rendering="crispEdges"/>
<line x1="119" y1="457.5" x2="1076" y2="457.5" stroke="#000" stroke-width="1" stroke-dasharray="1 2" shape-rendering="crispEdges"/>
<line x1="119" y1="430.5" x2="1076" y2="430.5" stroke="#000" stroke-width="1" stroke-dasharray="1 2" shape-rendering="crispEdges"/>
<line x1="135.5" y1="416" x2="135.5" y2="540" stroke="#000" stroke-width="1" stroke-dasharray="1 2" shape-rendering="crispEdges"/>
<line x1="167.5" y1="416" x2="167.5" y2="540" stroke="#000" stroke-width="1" stroke-dasharray="1 2" shape-rendering="crispEdges"/>
<line x1="199.5" y1="416" x2="199.5" y2="540" stroke="#000" stroke-width="1" stroke-dasharray="1 2" shape-rendering="crispEdges"/>
<line x1="231.5" y1="416" x2="231.5" y2="540" stroke="#000" stroke-width="1" stroke-dasharray="1 2" shape-rendering="crispEdges"/>
<line x1="263.5" y1="416" x2="263.5" y2="540" stroke="#000" stroke-width="1" stroke-dasharray="1 2" shape-rendering="crispEdges"/>
<line x1="295.5" y1="416" x2="295.5" y2="540" stroke="#000" stroke-width="1" stroke-dasharray="1 2" shape-rendering="crispEdges"/>
<line x1="326.5" y1="416" x2="326.5" y2="540" stroke="#000" stroke-width="1" stroke-dasharray="1 2" shape-rendering="crispEdges"/>
<line x1="358.5" y1="416" x2="358.5" y2="540" stroke="#000" stroke-width="1" stroke-dasharray="1 2" shape-rendering="crispEdges"/>
<line x1="390.5" y1="416" x2="390.5" y2="540" stroke="#000" stroke-width="1" stroke-dasharray="1 2" shape-rendering="crispEdges"/>
<line x1="422.5" y1="416" x2="422.5" y2="540" stroke="#000" stroke-width="1" stroke-dasharray="1 2" shape-rendering="crispEdges"/>
<line x1="454.5" y1="416" x2="454.5" y2="540" stroke="#000" stroke-width="1" stroke-dasharray="1 2" shape-rendering="crispEdges"/>
<line x1="486.5" y1="416" x2="486.5" y2="540" stroke="#000" stroke-width="1" stroke-dasharray="1 2" shape-rendering="crispEdges"/>
<line x1="518.5" y1="416" x2="518.5" y2="540" stroke="#000" stroke-width="1" stroke-dasharray="1 2" shape-rendering="crispEdges"/>
<line x1="550.5" y1="416" x2="550.5" y2="540" stroke="#000" stroke-width="1" stroke-dasharray="1 2" shape-rendering="crispEdges"/>
<line x1="582.5" y1="416" x2="582.5" y2="540" stroke="#000" stroke-width="1" stroke-dasharray="1 2" shape-rendering="crispEdges"/>
<line x1="613.5" y1="416" x2="613.5" y2="540" stroke="#000" stroke-width="1" stroke-dasharray="1 2" shape-rendering="crispEdges"/>
<line x1="645.5" y1="416" x2="645.5" y2="540" stroke="#000" stroke-width="1" stroke-dasharray="1 2" shape-rendering="crispEdges"/>
<line x1="677.5" y1="416" x2="677.5" y2="540" stroke="#000" stroke-width="1" stroke-dasharray="1 2" shape-rendering="crispEdges"/>
<line x1="709.5" y1="416" x2="709.5" y2="540" stroke="#000" stroke-width="1" stroke-dasharray="1 2" shape-rendering="crispEdges"/>
<line x1="741.5" y1="416" x2="741.5" y2="540" stroke="#000" stroke-width="1" stroke-dasharray="1 2" shape-rendering="crispEdges"/>
<line x1="773.5" y1="416" x2="773.5" y2="540" stroke="#000" stroke-width="1" stroke-dasharray="1 2" shape-rendering="crispEdges"/>
<line x1="805.5" y1="416" x2="805.5" y2="540" stroke="#000" stroke-width="1" stroke-dasharray="1 2" shape-rendering="crispEdges"/>
<line x1="837.5" y1="416" x2="837.5" y2="540" stroke="#000" stroke-width="1" stroke-dasharray="1 2" shape-rendering="crispEdges"/>
<line x1="869.5" y1="416" x2="869.5" y2="540" stroke="#000" stroke-width="1" stroke-dasharray="1 2" shape-rendering="crispEdges"/>
<line x1="900.5" y1="416" x2="900.5" y2="540" stroke="#000" stroke-width="1" stroke-dasharray="1 2" shape-rendering="crispEdges"/>
<line x1="932.5" y1="416" x2="932.5" y2="540" stroke="#000" stroke-width="1" stroke-dasharray="1 2" shape-rendering="crispEdges"/>
<line x1="964.5" y1="416" x2="964.5" y2="540" stroke="#000" stroke-width="1" stroke-dasharray="1 2" shape-rendering="crispEdges"/>
<line x1="996.5" y1="416" x2="996.5" y2="540" stroke="#000" stroke-width="1" stroke-dasharray="1 2" shape-rendering="crispEdges"/>
<line x1="1028.5" y1="416" x2="1028.5" y2="540" stroke="#000" stroke-width="1" stroke-dasharray="1 2" shape-rendering="crispEdges"/>
<line x1="1060.5" y1="416" x2="1060.5" y2="540" stroke="#000" stroke-width="1" stroke-dasharray="1 2" shape-rendering="crispEdges"/>
<rect x="119.5" y="416.5" width="957" height="124" fill="none" stroke="#000" stroke-width="1" shape-rendering="crispEdges"/>
<path d="M120,535.5H149 M120,509.5H149 M120,483.5H149 M120,457.5H149 M120,430.5H149 M120,530.5H134 M120,525.5H134 M120,520.5H134 M120,515.5H134 M120,504.5H134 M120,499.5H134 M120,494.5H134 M120,489.5H134 M120,478.5H134 M120,473.5H134 M120,468.5H134 M120,463.5H134 M120,452.5H134 M120,447.5H134 M120,441.5H134 M120,436.5H134 M120,425.5H134 M120,420.5H134" stroke="#000" stroke-width="1" fill="none" shape-rendering="crispEdges"/>
<path d="M135.5,540V537 M167.5,540V537 M199.5,540V537 M231.5,540V537 M263.5,540V537 M295.5,540V537 M326.5,540V537 M358.5,540V537 M390.5,540V537 M422.5,540V537 M454.5,540V537 M486.5,540V537 M518.5,540V537 M550.5,540V537 M582.5,540V537 M613.5,540V537 M645.5,540V537 M677.5,540V537 M709.5,540V537 M741.5,540V537 M773.5,540V537 M805.5,540V537 M837.5,540V537 M869.5,540V537 M900.5,540V537 M932.5,540V537 M964.5,540V537 M996.5,540V537 M1028.5,540V537 M1060.5,540V537" stroke="#000" stroke-width="1" fill="none" shape-rendering="crispEdges"/>
<text x="113.6" y="542.00" text-anchor="end" font-size="17">500</text>
<text clip-path="url(#one86)" x="113.6" y="516.00" text-anchor="end" font-size="17">1000</text>
<text clip-path="url(#one87)" x="113.6" y="490.00" text-anchor="end" font-size="17">1500</text>
<text x="113.6" y="464.00" text-anchor="end" font-size="17">2000</text>
<text x="113.6" y="437.00" text-anchor="end" font-size="17">2500</text>
<text x="134.70" y="545" text-anchor="middle" font-size="5" fill="#111">2</text>
<text x="166.70" y="545" text-anchor="middle" font-size="5" fill="#111">4</text>
<text x="198.70" y="545" text-anchor="middle" font-size="5" fill="#111">6</text>
<text x="230.70" y="545" text-anchor="middle" font-size="5" fill="#111">8</text>
<text x="262.70" y="545" text-anchor="middle" font-size="5" fill="#111">10</text>
<text x="294.70" y="545" text-anchor="middle" font-size="5" fill="#111">12</text>
<text x="325.70" y="545" text-anchor="middle" font-size="5" fill="#111">14</text>
<text x="357.70" y="545" text-anchor="middle" font-size="5" fill="#111">16</text>
<text x="389.70" y="545" text-anchor="middle" font-size="5" fill="#111">18</text>
<text x="421.70" y="545" text-anchor="middle" font-size="5" fill="#111">20</text>
<text x="453.70" y="545" text-anchor="middle" font-size="5" fill="#111">22</text>
<text x="485.70" y="545" text-anchor="middle" font-size="5" fill="#111">24</text>
<text x="517.70" y="545" text-anchor="middle" font-size="5" fill="#111">26</text>
<text x="549.70" y="545" text-anchor="middle" font-size="5" fill="#111">28</text>
<text x="581.70" y="545" text-anchor="middle" font-size="5" fill="#111">30</text>
<text x="612.70" y="545" text-anchor="middle" font-size="5" fill="#111">32</text>
<text x="644.70" y="545" text-anchor="middle" font-size="5" fill="#111">34</text>
<text x="676.70" y="545" text-anchor="middle" font-size="5" fill="#111">36</text>
<text x="708.70" y="545" text-anchor="middle" font-size="5" fill="#111">38</text>
<text x="740.70" y="545" text-anchor="middle" font-size="5" fill="#111">40</text>
<text x="772.70" y="545" text-anchor="middle" font-size="5" fill="#111">42</text>
<text x="804.70" y="545" text-anchor="middle" font-size="5" fill="#111">44</text>
<text x="836.70" y="545" text-anchor="middle" font-size="5" fill="#111">46</text>
<text x="868.70" y="545" text-anchor="middle" font-size="5" fill="#111">48</text>
<text x="899.70" y="545" text-anchor="middle" font-size="5" fill="#111">50</text>
<text x="931.70" y="545" text-anchor="middle" font-size="5" fill="#111">52</text>
<text x="963.70" y="545" text-anchor="middle" font-size="5" fill="#111">54</text>
<text x="995.70" y="545" text-anchor="middle" font-size="5" fill="#111">56</text>
<text x="1027.70" y="545" text-anchor="middle" font-size="5" fill="#111">58</text>
<text x="1059.70" y="545" text-anchor="middle" font-size="5" fill="#111">60</text>
<text x="1081.4" y="443" font-size="30.4">L3</text>
<clipPath id="c2"><rect x="119" y="417" width="958" height="124"/></clipPath>
<path d="M118.5,508H135V496H151V478H167V468H183V453H199V450H215V454H231V445H247V439H263V447H279V452H295V443H310V439H326V442H342V451H358V443H374V437H390V444H406V445H422V444H438V436H454V442H470V448H486V439H502V430H518V437H534V446H550V440H566V430H582V431H598V434H613V430H629V422H645V429H661V439H677V434H693V428H709V438H725V438H741V433H757V426H773V431H789V439H805V438H821V433H837V433H853V471H869V471H885V467H900V478H916V486H932V474H948V465H964V472H980V483H996V484H1012V491H1028V507H1044V520H1060V533H1076.5" fill="none" stroke="#000000" stroke-width="2" stroke-linejoin="miter" shape-rendering="crispEdges" clip-path="url(#c2)"/>
<g><circle cx="127.50" cy="508.40" r="4.15" fill="none" stroke="#000" stroke-width="1.1"/><path d="M127.5,503v1M127.5,513v1" stroke="#000" stroke-opacity="0.3" stroke-width="1" shape-rendering="crispEdges"/><circle cx="143.50" cy="496.40" r="4.15" fill="none" stroke="#000" stroke-width="1.1"/><path d="M143.5,491v1M143.5,501v1" stroke="#000" stroke-opacity="0.3" stroke-width="1" shape-rendering="crispEdges"/><circle cx="159.50" cy="478.40" r="4.15" fill="none" stroke="#000" stroke-width="1.1"/><path d="M159.5,473v1M159.5,483v1" stroke="#000" stroke-opacity="0.3" stroke-width="1" shape-rendering="crispEdges"/><circle cx="175.50" cy="468.40" r="4.15" fill="none" stroke="#000" stroke-width="1.1"/><path d="M175.5,463v1M175.5,473v1" stroke="#000" stroke-opacity="0.3" stroke-width="1" shape-rendering="crispEdges"/><circle cx="191.50" cy="453.40" r="4.15" fill="none" stroke="#000" stroke-width="1.1"/><path d="M191.5,448v1M191.5,458v1" stroke="#000" stroke-opacity="0.3" stroke-width="1" shape-rendering="crispEdges"/><circle cx="207.50" cy="450.40" r="4.15" fill="none" stroke="#000" stroke-width="1.1"/><path d="M207.5,445v1M207.5,455v1" stroke="#000" stroke-opacity="0.3" stroke-width="1" shape-rendering="crispEdges"/><circle cx="223.50" cy="454.40" r="4.15" fill="none" stroke="#000" stroke-width="1.1"/><path d="M223.5,449v1M223.5,459v1" stroke="#000" stroke-opacity="0.3" stroke-width="1" shape-rendering="crispEdges"/><circle cx="239.50" cy="445.40" r="4.15" fill="none" stroke="#000" stroke-width="1.1"/><path d="M239.5,440v1M239.5,450v1" stroke="#000" stroke-opacity="0.3" stroke-width="1" shape-rendering="crispEdges"/><circle cx="255.50" cy="439.40" r="4.15" fill="none" stroke="#000" stroke-width="1.1"/><path d="M255.5,434v1M255.5,444v1" stroke="#000" stroke-opacity="0.3" stroke-width="1" shape-rendering="crispEdges"/><circle cx="271.50" cy="447.40" r="4.15" fill="none" stroke="#000" stroke-width="1.1"/><path d="M271.5,442v1M271.5,452v1" stroke="#000" stroke-opacity="0.3" stroke-width="1" shape-rendering="crispEdges"/><circle cx="287.50" cy="452.40" r="4.15" fill="none" stroke="#000" stroke-width="1.1"/><path d="M287.5,447v1M287.5,457v1" stroke="#000" stroke-opacity="0.3" stroke-width="1" shape-rendering="crispEdges"/><circle cx="303.00" cy="443.40" r="4.15" fill="none" stroke="#000" stroke-width="1.1"/><path d="M303.5,438v1M303.5,448v1" stroke="#000" stroke-opacity="0.3" stroke-width="1" shape-rendering="crispEdges"/><circle cx="318.50" cy="439.40" r="4.15" fill="none" stroke="#000" stroke-width="1.1"/><path d="M318.5,434v1M318.5,444v1" stroke="#000" stroke-opacity="0.3" stroke-width="1" shape-rendering="crispEdges"/><circle cx="334.50" cy="442.40" r="4.15" fill="none" stroke="#000" stroke-width="1.1"/><path d="M334.5,437v1M334.5,447v1" stroke="#000" stroke-opacity="0.3" stroke-width="1" shape-rendering="crispEdges"/><circle cx="350.50" cy="451.40" r="4.15" fill="none" stroke="#000" stroke-width="1.1"/><path d="M350.5,446v1M350.5,456v1" stroke="#000" stroke-opacity="0.3" stroke-width="1" shape-rendering="crispEdges"/><circle cx="366.50" cy="443.40" r="4.15" fill="none" stroke="#000" stroke-width="1.1"/><path d="M366.5,438v1M366.5,448v1" stroke="#000" stroke-opacity="0.3" stroke-width="1" shape-rendering="crispEdges"/><circle cx="382.50" cy="437.40" r="4.15" fill="none" stroke="#000" stroke-width="1.1"/><path d="M382.5,432v1M382.5,442v1" stroke="#000" stroke-opacity="0.3" stroke-width="1" shape-rendering="crispEdges"/><circle cx="398.50" cy="444.40" r="4.15" fill="none" stroke="#000" stroke-width="1.1"/><path d="M398.5,439v1M398.5,449v1" stroke="#000" stroke-opacity="0.3" stroke-width="1" shape-rendering="crispEdges"/><circle cx="414.50" cy="445.40" r="4.15" fill="none" stroke="#000" stroke-width="1.1"/><path d="M414.5,440v1M414.5,450v1" stroke="#000" stroke-opacity="0.3" stroke-width="1" shape-rendering="crispEdges"/><circle cx="430.50" cy="444.40" r="4.15" fill="none" stroke="#000" stroke-width="1.1"/><path d="M430.5,439v1M430.5,449v1" stroke="#000" stroke-opacity="0.3" stroke-width="1" shape-rendering="crispEdges"/><circle cx="446.50" cy="436.40" r="4.15" fill="none" stroke="#000" stroke-width="1.1"/><path d="M446.5,431v1M446.5,441v1" stroke="#000" stroke-opacity="0.3" stroke-width="1" shape-rendering="crispEdges"/><circle cx="462.50" cy="442.40" r="4.15" fill="none" stroke="#000" stroke-width="1.1"/><path d="M462.5,437v1M462.5,447v1" stroke="#000" stroke-opacity="0.3" stroke-width="1" shape-rendering="crispEdges"/><circle cx="478.50" cy="448.40" r="4.15" fill="none" stroke="#000" stroke-width="1.1"/><path d="M478.5,443v1M478.5,453v1" stroke="#000" stroke-opacity="0.3" stroke-width="1" shape-rendering="crispEdges"/><circle cx="494.50" cy="439.40" r="4.15" fill="none" stroke="#000" stroke-width="1.1"/><path d="M494.5,434v1M494.5,444v1" stroke="#000" stroke-opacity="0.3" stroke-width="1" shape-rendering="crispEdges"/><circle cx="510.50" cy="430.40" r="4.15" fill="none" stroke="#000" stroke-width="1.1"/><path d="M510.5,425v1M510.5,435v1" stroke="#000" stroke-opacity="0.3" stroke-width="1" shape-rendering="crispEdges"/><circle cx="526.50" cy="437.40" r="4.15" fill="none" stroke="#000" stroke-width="1.1"/><path d="M526.5,432v1M526.5,442v1" stroke="#000" stroke-opacity="0.3" stroke-width="1" shape-rendering="crispEdges"/><circle cx="542.50" cy="446.40" r="4.15" fill="none" stroke="#000" stroke-width="1.1"/><path d="M542.5,441v1M542.5,451v1" stroke="#000" stroke-opacity="0.3" stroke-width="1" shape-rendering="crispEdges"/><circle cx="558.50" cy="440.40" r="4.15" fill="none" stroke="#000" stroke-width="1.1"/><path d="M558.5,435v1M558.5,445v1" stroke="#000" stroke-opacity="0.3" stroke-width="1" shape-rendering="crispEdges"/><circle cx="574.50" cy="430.40" r="4.15" fill="none" stroke="#000" stroke-width="1.1"/><path d="M574.5,425v1M574.5,435v1" stroke="#000" stroke-opacity="0.3" stroke-width="1" shape-rendering="crispEdges"/><circle cx="590.50" cy="431.40" r="4.15" fill="none" stroke="#000" stroke-width="1.1"/><path d="M590.5,426v1M590.5,436v1" stroke="#000" stroke-opacity="0.3" stroke-width="1" shape-rendering="crispEdges"/><circle cx="606.00" cy="434.40" r="4.15" fill="none" stroke="#000" stroke-width="1.1"/><path d="M606.5,429v1M606.5,439v1" stroke="#000" stroke-opacity="0.3" stroke-width="1" shape-rendering="crispEdges"/><circle cx="621.50" cy="430.40" r="4.15" fill="none" stroke="#000" stroke-width="1.1"/><path d="M621.5,425v1M621.5,435v1" stroke="#000" stroke-opacity="0.3" stroke-width="1" shape-rendering="crispEdges"/><circle cx="637.50" cy="422.40" r="4.15" fill="none" stroke="#000" stroke-width="1.1"/><path d="M637.5,417v1M637.5,427v1" stroke="#000" stroke-opacity="0.3" stroke-width="1" shape-rendering="crispEdges"/><circle cx="653.50" cy="429.40" r="4.15" fill="none" stroke="#000" stroke-width="1.1"/><path d="M653.5,424v1M653.5,434v1" stroke="#000" stroke-opacity="0.3" stroke-width="1" shape-rendering="crispEdges"/><circle cx="669.50" cy="439.40" r="4.15" fill="none" stroke="#000" stroke-width="1.1"/><path d="M669.5,434v1M669.5,444v1" stroke="#000" stroke-opacity="0.3" stroke-width="1" shape-rendering="crispEdges"/><circle cx="685.50" cy="434.40" r="4.15" fill="none" stroke="#000" stroke-width="1.1"/><path d="M685.5,429v1M685.5,439v1" stroke="#000" stroke-opacity="0.3" stroke-width="1" shape-rendering="crispEdges"/><circle cx="701.50" cy="428.40" r="4.15" fill="none" stroke="#000" stroke-width="1.1"/><path d="M701.5,423v1M701.5,433v1" stroke="#000" stroke-opacity="0.3" stroke-width="1" shape-rendering="crispEdges"/><circle cx="717.50" cy="438.40" r="4.15" fill="none" stroke="#000" stroke-width="1.1"/><path d="M717.5,433v1M717.5,443v1" stroke="#000" stroke-opacity="0.3" stroke-width="1" shape-rendering="crispEdges"/><circle cx="733.50" cy="438.40" r="4.15" fill="none" stroke="#000" stroke-width="1.1"/><path d="M733.5,433v1M733.5,443v1" stroke="#000" stroke-opacity="0.3" stroke-width="1" shape-rendering="crispEdges"/><circle cx="749.50" cy="433.40" r="4.15" fill="none" stroke="#000" stroke-width="1.1"/><path d="M749.5,428v1M749.5,438v1" stroke="#000" stroke-opacity="0.3" stroke-width="1" shape-rendering="crispEdges"/><circle cx="765.50" cy="426.40" r="4.15" fill="none" stroke="#000" stroke-width="1.1"/><path d="M765.5,421v1M765.5,431v1" stroke="#000" stroke-opacity="0.3" stroke-width="1" shape-rendering="crispEdges"/><circle cx="781.50" cy="431.40" r="4.15" fill="none" stroke="#000" stroke-width="1.1"/><path d="M781.5,426v1M781.5,436v1" stroke="#000" stroke-opacity="0.3" stroke-width="1" shape-rendering="crispEdges"/><circle cx="797.50" cy="439.40" r="4.15" fill="none" stroke="#000" stroke-width="1.1"/><path d="M797.5,434v1M797.5,444v1" stroke="#000" stroke-opacity="0.3" stroke-width="1" shape-rendering="crispEdges"/><circle cx="813.50" cy="438.40" r="4.15" fill="none" stroke="#000" stroke-width="1.1"/><path d="M813.5,433v1M813.5,443v1" stroke="#000" stroke-opacity="0.3" stroke-width="1" shape-rendering="crispEdges"/><circle cx="829.50" cy="433.40" r="4.15" fill="none" stroke="#000" stroke-width="1.1"/><path d="M829.5,428v1M829.5,438v1" stroke="#000" stroke-opacity="0.3" stroke-width="1" shape-rendering="crispEdges"/><circle cx="845.50" cy="433.40" r="4.15" fill="none" stroke="#000" stroke-width="1.1"/><path d="M845.5,428v1M845.5,438v1" stroke="#000" stroke-opacity="0.3" stroke-width="1" shape-rendering="crispEdges"/><circle cx="861.50" cy="471.40" r="4.15" fill="none" stroke="#000" stroke-width="1.1"/><path d="M861.5,466v1M861.5,476v1" stroke="#000" stroke-opacity="0.3" stroke-width="1" shape-rendering="crispEdges"/><circle cx="877.50" cy="471.40" r="4.15" fill="none" stroke="#000" stroke-width="1.1"/><path d="M877.5,466v1M877.5,476v1" stroke="#000" stroke-opacity="0.3" stroke-width="1" shape-rendering="crispEdges"/><circle cx="893.00" cy="467.40" r="4.15" fill="none" stroke="#000" stroke-width="1.1"/><path d="M893.5,462v1M893.5,472v1" stroke="#000" stroke-opacity="0.3" stroke-width="1" shape-rendering="crispEdges"/><circle cx="908.50" cy="478.40" r="4.15" fill="none" stroke="#000" stroke-width="1.1"/><path d="M908.5,473v1M908.5,483v1" stroke="#000" stroke-opacity="0.3" stroke-width="1" shape-rendering="crispEdges"/><circle cx="924.50" cy="486.40" r="4.15" fill="none" stroke="#000" stroke-width="1.1"/><path d="M924.5,481v1M924.5,491v1" stroke="#000" stroke-opacity="0.3" stroke-width="1" shape-rendering="crispEdges"/><circle cx="940.50" cy="474.40" r="4.15" fill="none" stroke="#000" stroke-width="1.1"/><path d="M940.5,469v1M940.5,479v1" stroke="#000" stroke-opacity="0.3" stroke-width="1" shape-rendering="crispEdges"/><circle cx="956.50" cy="465.40" r="4.15" fill="none" stroke="#000" stroke-width="1.1"/><path d="M956.5,460v1M956.5,470v1" stroke="#000" stroke-opacity="0.3" stroke-width="1" shape-rendering="crispEdges"/><circle cx="972.50" cy="472.40" r="4.15" fill="none" stroke="#000" stroke-width="1.1"/><path d="M972.5,467v1M972.5,477v1" stroke="#000" stroke-opacity="0.3" stroke-width="1" shape-rendering="crispEdges"/><circle cx="988.50" cy="483.40" r="4.15" fill="none" stroke="#000" stroke-width="1.1"/><path d="M988.5,478v1M988.5,488v1" stroke="#000" stroke-opacity="0.3" stroke-width="1" shape-rendering="crispEdges"/><circle cx="1004.50" cy="484.40" r="4.15" fill="none" stroke="#000" stroke-width="1.1"/><path d="M1004.5,479v1M1004.5,489v1" stroke="#000" stroke-opacity="0.3" stroke-width="1" shape-rendering="crispEdges"/><circle cx="1020.50" cy="491.40" r="4.15" fill="none" stroke="#000" stroke-width="1.1"/><path d="M1020.5,486v1M1020.5,496v1" stroke="#000" stroke-opacity="0.3" stroke-width="1" shape-rendering="crispEdges"/><circle cx="1036.50" cy="507.40" r="4.15" fill="none" stroke="#000" stroke-width="1.1"/><path d="M1036.5,502v1M1036.5,512v1" stroke="#000" stroke-opacity="0.3" stroke-width="1" shape-rendering="crispEdges"/><circle cx="1052.50" cy="520.40" r="4.15" fill="none" stroke="#000" stroke-width="1.1"/><path d="M1052.5,515v1M1052.5,525v1" stroke="#000" stroke-opacity="0.3" stroke-width="1" shape-rendering="crispEdges"/><circle cx="1068.50" cy="533.40" r="4.15" fill="none" stroke="#000" stroke-width="1.1"/><path d="M1068.5,528v1M1068.5,538v1" stroke="#000" stroke-opacity="0.3" stroke-width="1" shape-rendering="crispEdges"/></g>
<path d="M118.5,509H135V498H151V481H167V471H183V456H199V453H215V457H231V448H247V441H263V450H279V454H295V446H310V443H326V444H342V454H358V445H374V439H390V447H406V448H422V447H438V439H454V445H470V451H486V442H502V434H518V440H534V449H550V443H566V433H582V434H598V437H613V432H629V426H645V432H661V441H677V437H693V431H709V441H725V441H741V436H757V429H773V434H789V442H805V441H821V436H837V438H853V473H869V473H885V469H900V480H916V488H932V477H948V468H964V475H980V485H996V487H1012V493H1028V509H1044V521H1060V534H1076.5" fill="none" stroke="#009933" stroke-width="2" stroke-linejoin="miter" shape-rendering="crispEdges" clip-path="url(#c2)"/>
<g><rect x="123.5" y="505.5" width="8" height="8" fill="none" stroke="#000" stroke-width="1" shape-rendering="crispEdges"/><rect x="139.5" y="494.5" width="8" height="8" fill="none" stroke="#000" stroke-width="1" shape-rendering="crispEdges"/><rect x="155.5" y="477.5" width="8" height="8" fill="none" stroke="#000" stroke-width="1" shape-rendering="crispEdges"/><rect x="171.5" y="467.5" width="8" height="8" fill="none" stroke="#000" stroke-width="1" shape-rendering="crispEdges"/><rect x="187.5" y="452.5" width="8" height="8" fill="none" stroke="#000" stroke-width="1" shape-rendering="crispEdges"/><rect x="203.5" y="449.5" width="8" height="8" fill="none" stroke="#000" stroke-width="1" shape-rendering="crispEdges"/><rect x="219.5" y="453.5" width="8" height="8" fill="none" stroke="#000" stroke-width="1" shape-rendering="crispEdges"/><rect x="235.5" y="444.5" width="8" height="8" fill="none" stroke="#000" stroke-width="1" shape-rendering="crispEdges"/><rect x="251.5" y="437.5" width="8" height="8" fill="none" stroke="#000" stroke-width="1" shape-rendering="crispEdges"/><rect x="267.5" y="446.5" width="8" height="8" fill="none" stroke="#000" stroke-width="1" shape-rendering="crispEdges"/><rect x="283.5" y="450.5" width="8" height="8" fill="none" stroke="#000" stroke-width="1" shape-rendering="crispEdges"/><rect x="299.5" y="442.5" width="8" height="8" fill="none" stroke="#000" stroke-width="1" shape-rendering="crispEdges"/><rect x="314.5" y="439.5" width="8" height="8" fill="none" stroke="#000" stroke-width="1" shape-rendering="crispEdges"/><rect x="330.5" y="440.5" width="8" height="8" fill="none" stroke="#000" stroke-width="1" shape-rendering="crispEdges"/><rect x="346.5" y="450.5" width="8" height="8" fill="none" stroke="#000" stroke-width="1" shape-rendering="crispEdges"/><rect x="362.5" y="441.5" width="8" height="8" fill="none" stroke="#000" stroke-width="1" shape-rendering="crispEdges"/><rect x="378.5" y="435.5" width="8" height="8" fill="none" stroke="#000" stroke-width="1" shape-rendering="crispEdges"/><rect x="394.5" y="443.5" width="8" height="8" fill="none" stroke="#000" stroke-width="1" shape-rendering="crispEdges"/><rect x="410.5" y="444.5" width="8" height="8" fill="none" stroke="#000" stroke-width="1" shape-rendering="crispEdges"/><rect x="426.5" y="443.5" width="8" height="8" fill="none" stroke="#000" stroke-width="1" shape-rendering="crispEdges"/><rect x="442.5" y="435.5" width="8" height="8" fill="none" stroke="#000" stroke-width="1" shape-rendering="crispEdges"/><rect x="458.5" y="441.5" width="8" height="8" fill="none" stroke="#000" stroke-width="1" shape-rendering="crispEdges"/><rect x="474.5" y="447.5" width="8" height="8" fill="none" stroke="#000" stroke-width="1" shape-rendering="crispEdges"/><rect x="490.5" y="438.5" width="8" height="8" fill="none" stroke="#000" stroke-width="1" shape-rendering="crispEdges"/><rect x="506.5" y="430.5" width="8" height="8" fill="none" stroke="#000" stroke-width="1" shape-rendering="crispEdges"/><rect x="522.5" y="436.5" width="8" height="8" fill="none" stroke="#000" stroke-width="1" shape-rendering="crispEdges"/><rect x="538.5" y="445.5" width="8" height="8" fill="none" stroke="#000" stroke-width="1" shape-rendering="crispEdges"/><rect x="554.5" y="439.5" width="8" height="8" fill="none" stroke="#000" stroke-width="1" shape-rendering="crispEdges"/><rect x="570.5" y="429.5" width="8" height="8" fill="none" stroke="#000" stroke-width="1" shape-rendering="crispEdges"/><rect x="586.5" y="430.5" width="8" height="8" fill="none" stroke="#000" stroke-width="1" shape-rendering="crispEdges"/><rect x="602.5" y="433.5" width="8" height="8" fill="none" stroke="#000" stroke-width="1" shape-rendering="crispEdges"/><rect x="617.5" y="428.5" width="8" height="8" fill="none" stroke="#000" stroke-width="1" shape-rendering="crispEdges"/><rect x="633.5" y="422.5" width="8" height="8" fill="none" stroke="#000" stroke-width="1" shape-rendering="crispEdges"/><rect x="649.5" y="428.5" width="8" height="8" fill="none" stroke="#000" stroke-width="1" shape-rendering="crispEdges"/><rect x="665.5" y="437.5" width="8" height="8" fill="none" stroke="#000" stroke-width="1" shape-rendering="crispEdges"/><rect x="681.5" y="433.5" width="8" height="8" fill="none" stroke="#000" stroke-width="1" shape-rendering="crispEdges"/><rect x="697.5" y="427.5" width="8" height="8" fill="none" stroke="#000" stroke-width="1" shape-rendering="crispEdges"/><rect x="713.5" y="437.5" width="8" height="8" fill="none" stroke="#000" stroke-width="1" shape-rendering="crispEdges"/><rect x="729.5" y="437.5" width="8" height="8" fill="none" stroke="#000" stroke-width="1" shape-rendering="crispEdges"/><rect x="745.5" y="432.5" width="8" height="8" fill="none" stroke="#000" stroke-width="1" shape-rendering="crispEdges"/><rect x="761.5" y="425.5" width="8" height="8" fill="none" stroke="#000" stroke-width="1" shape-rendering="crispEdges"/><rect x="777.5" y="430.5" width="8" height="8" fill="none" stroke="#000" stroke-width="1" shape-rendering="crispEdges"/><rect x="793.5" y="438.5" width="8" height="8" fill="none" stroke="#000" stroke-width="1" shape-rendering="crispEdges"/><rect x="809.5" y="437.5" width="8" height="8" fill="none" stroke="#000" stroke-width="1" shape-rendering="crispEdges"/><rect x="825.5" y="432.5" width="8" height="8" fill="none" stroke="#000" stroke-width="1" shape-rendering="crispEdges"/><rect x="841.5" y="434.5" width="8" height="8" fill="none" stroke="#000" stroke-width="1" shape-rendering="crispEdges"/><rect x="857.5" y="469.5" width="8" height="8" fill="none" stroke="#000" stroke-width="1" shape-rendering="crispEdges"/><rect x="873.5" y="469.5" width="8" height="8" fill="none" stroke="#000" stroke-width="1" shape-rendering="crispEdges"/><rect x="889.5" y="465.5" width="8" height="8" fill="none" stroke="#000" stroke-width="1" shape-rendering="crispEdges"/><rect x="904.5" y="476.5" width="8" height="8" fill="none" stroke="#000" stroke-width="1" shape-rendering="crispEdges"/><rect x="920.5" y="484.5" width="8" height="8" fill="none" stroke="#000" stroke-width="1" shape-rendering="crispEdges"/><rect x="936.5" y="473.5" width="8" height="8" fill="none" stroke="#000" stroke-width="1" shape-rendering="crispEdges"/><rect x="952.5" y="464.5" width="8" height="8" fill="none" stroke="#000" stroke-width="1" shape-rendering="crispEdges"/><rect x="968.5" y="471.5" width="8" height="8" fill="none" stroke="#000" stroke-width="1" shape-rendering="crispEdges"/><rect x="984.5" y="481.5" width="8" height="8" fill="none" stroke="#000" stroke-width="1" shape-rendering="crispEdges"/><rect x="1000.5" y="483.5" width="8" height="8" fill="none" stroke="#000" stroke-width="1" shape-rendering="crispEdges"/><rect x="1016.5" y="489.5" width="8" height="8" fill="none" stroke="#000" stroke-width="1" shape-rendering="crispEdges"/><rect x="1032.5" y="505.5" width="8" height="8" fill="none" stroke="#000" stroke-width="1" shape-rendering="crispEdges"/><rect x="1048.5" y="517.5" width="8" height="8" fill="none" stroke="#000" stroke-width="1" shape-rendering="crispEdges"/><rect x="1064.5" y="530.5" width="8" height="8" fill="none" stroke="#000" stroke-width="1" shape-rendering="crispEdges"/></g>
<path d="M118.5,511H135V500H151V484H167V474H183V459H199V457H215V460H231V450H247V445H263V453H279V458H295V450H310V447H326V450H342V457H358V450H374V443H390V451H406V451H422V450H438V442H454V448H470V455H486V446H502V438H518V444H534V453H550V447H566V436H582V438H598V443H613V437H629V429H645V436H661V446H677V441H693V436H709V445H725V444H741V440H757V433H773V438H789V446H805V446H821V441H837V440H853V476H869V476H885V471H900V482H916V490H932V480H948V470H964V478H980V487H996V489H1012V495H1028V510H1044V522H1060V535H1076.5" fill="none" stroke="#6600cc" stroke-width="2" stroke-linejoin="miter" shape-rendering="crispEdges" clip-path="url(#c2)"/>
<g><path d="M127,507h1v1h-1zM126,508h1v1h-1zM128,508h1v1h-1zM126,509h1v1h-1zM128,509h1v1h-1zM125,510h1v1h-1zM129,510h1v1h-1zM125,511h1v1h-1zM129,511h1v1h-1zM124,512h1v1h-1zM130,512h1v1h-1zM124,513h1v1h-1zM130,513h1v1h-1zM123,514h1v1h-1zM131,514h1v1h-1zM123,515h9v1h-9z" fill="#000" shape-rendering="crispEdges"/><path d="M143,496h1v1h-1zM142,497h1v1h-1zM144,497h1v1h-1zM142,498h1v1h-1zM144,498h1v1h-1zM141,499h1v1h-1zM145,499h1v1h-1zM141,500h1v1h-1zM145,500h1v1h-1zM140,501h1v1h-1zM146,501h1v1h-1zM140,502h1v1h-1zM146,502h1v1h-1zM139,503h1v1h-1zM147,503h1v1h-1zM139,504h9v1h-9z" fill="#000" shape-rendering="crispEdges"/><path d="M159,480h1v1h-1zM158,481h1v1h-1zM160,481h1v1h-1zM158,482h1v1h-1zM160,482h1v1h-1zM157,483h1v1h-1zM161,483h1v1h-1zM157,484h1v1h-1zM161,484h1v1h-1zM156,485h1v1h-1zM162,485h1v1h-1zM156,486h1v1h-1zM162,486h1v1h-1zM155,487h1v1h-1zM163,487h1v1h-1zM155,488h9v1h-9z" fill="#000" shape-rendering="crispEdges"/><path d="M175,470h1v1h-1zM174,471h1v1h-1zM176,471h1v1h-1zM174,472h1v1h-1zM176,472h1v1h-1zM173,473h1v1h-1zM177,473h1v1h-1zM173,474h1v1h-1zM177,474h1v1h-1zM172,475h1v1h-1zM178,475h1v1h-1zM172,476h1v1h-1zM178,476h1v1h-1zM171,477h1v1h-1zM179,477h1v1h-1zM171,478h9v1h-9z" fill="#000" shape-rendering="crispEdges"/><path d="M191,455h1v1h-1zM190,456h1v1h-1zM192,456h1v1h-1zM190,457h1v1h-1zM192,457h1v1h-1zM189,458h1v1h-1zM193,458h1v1h-1zM189,459h1v1h-1zM193,459h1v1h-1zM188,460h1v1h-1zM194,460h1v1h-1zM188,461h1v1h-1zM194,461h1v1h-1zM187,462h1v1h-1zM195,462h1v1h-1zM187,463h9v1h-9z" fill="#000" shape-rendering="crispEdges"/><path d="M207,453h1v1h-1zM206,454h1v1h-1zM208,454h1v1h-1zM206,455h1v1h-1zM208,455h1v1h-1zM205,456h1v1h-1zM209,456h1v1h-1zM205,457h1v1h-1zM209,457h1v1h-1zM204,458h1v1h-1zM210,458h1v1h-1zM204,459h1v1h-1zM210,459h1v1h-1zM203,460h1v1h-1zM211,460h1v1h-1zM203,461h9v1h-9z" fill="#000" shape-rendering="crispEdges"/><path d="M223,456h1v1h-1zM222,457h1v1h-1zM224,457h1v1h-1zM222,458h1v1h-1zM224,458h1v1h-1zM221,459h1v1h-1zM225,459h1v1h-1zM221,460h1v1h-1zM225,460h1v1h-1zM220,461h1v1h-1zM226,461h1v1h-1zM220,462h1v1h-1zM226,462h1v1h-1zM219,463h1v1h-1zM227,463h1v1h-1zM219,464h9v1h-9z" fill="#000" shape-rendering="crispEdges"/><path d="M239,446h1v1h-1zM238,447h1v1h-1zM240,447h1v1h-1zM238,448h1v1h-1zM240,448h1v1h-1zM237,449h1v1h-1zM241,449h1v1h-1zM237,450h1v1h-1zM241,450h1v1h-1zM236,451h1v1h-1zM242,451h1v1h-1zM236,452h1v1h-1zM242,452h1v1h-1zM235,453h1v1h-1zM243,453h1v1h-1zM235,454h9v1h-9z" fill="#000" shape-rendering="crispEdges"/><path d="M255,441h1v1h-1zM254,442h1v1h-1zM256,442h1v1h-1zM254,443h1v1h-1zM256,443h1v1h-1zM253,444h1v1h-1zM257,444h1v1h-1zM253,445h1v1h-1zM257,445h1v1h-1zM252,446h1v1h-1zM258,446h1v1h-1zM252,447h1v1h-1zM258,447h1v1h-1zM251,448h1v1h-1zM259,448h1v1h-1zM251,449h9v1h-9z" fill="#000" shape-rendering="crispEdges"/><path d="M271,449h1v1h-1zM270,450h1v1h-1zM272,450h1v1h-1zM270,451h1v1h-1zM272,451h1v1h-1zM269,452h1v1h-1zM273,452h1v1h-1zM269,453h1v1h-1zM273,453h1v1h-1zM268,454h1v1h-1zM274,454h1v1h-1zM268,455h1v1h-1zM274,455h1v1h-1zM267,456h1v1h-1zM275,456h1v1h-1zM267,457h9v1h-9z" fill="#000" shape-rendering="crispEdges"/><path d="M287,454h1v1h-1zM286,455h1v1h-1zM288,455h1v1h-1zM286,456h1v1h-1zM288,456h1v1h-1zM285,457h1v1h-1zM289,457h1v1h-1zM285,458h1v1h-1zM289,458h1v1h-1zM284,459h1v1h-1zM290,459h1v1h-1zM284,460h1v1h-1zM290,460h1v1h-1zM283,461h1v1h-1zM291,461h1v1h-1zM283,462h9v1h-9z" fill="#000" shape-rendering="crispEdges"/><path d="M303,446h1v1h-1zM302,447h1v1h-1zM304,447h1v1h-1zM302,448h1v1h-1zM304,448h1v1h-1zM301,449h1v1h-1zM305,449h1v1h-1zM301,450h1v1h-1zM305,450h1v1h-1zM300,451h1v1h-1zM306,451h1v1h-1zM300,452h1v1h-1zM306,452h1v1h-1zM299,453h1v1h-1zM307,453h1v1h-1zM299,454h9v1h-9z" fill="#000" shape-rendering="crispEdges"/><path d="M318,443h1v1h-1zM317,444h1v1h-1zM319,444h1v1h-1zM317,445h1v1h-1zM319,445h1v1h-1zM316,446h1v1h-1zM320,446h1v1h-1zM316,447h1v1h-1zM320,447h1v1h-1zM315,448h1v1h-1zM321,448h1v1h-1zM315,449h1v1h-1zM321,449h1v1h-1zM314,450h1v1h-1zM322,450h1v1h-1zM314,451h9v1h-9z" fill="#000" shape-rendering="crispEdges"/><path d="M334,446h1v1h-1zM333,447h1v1h-1zM335,447h1v1h-1zM333,448h1v1h-1zM335,448h1v1h-1zM332,449h1v1h-1zM336,449h1v1h-1zM332,450h1v1h-1zM336,450h1v1h-1zM331,451h1v1h-1zM337,451h1v1h-1zM331,452h1v1h-1zM337,452h1v1h-1zM330,453h1v1h-1zM338,453h1v1h-1zM330,454h9v1h-9z" fill="#000" shape-rendering="crispEdges"/><path d="M350,453h1v1h-1zM349,454h1v1h-1zM351,454h1v1h-1zM349,455h1v1h-1zM351,455h1v1h-1zM348,456h1v1h-1zM352,456h1v1h-1zM348,457h1v1h-1zM352,457h1v1h-1zM347,458h1v1h-1zM353,458h1v1h-1zM347,459h1v1h-1zM353,459h1v1h-1zM346,460h1v1h-1zM354,460h1v1h-1zM346,461h9v1h-9z" fill="#000" shape-rendering="crispEdges"/><path d="M366,446h1v1h-1zM365,447h1v1h-1zM367,447h1v1h-1zM365,448h1v1h-1zM367,448h1v1h-1zM364,449h1v1h-1zM368,449h1v1h-1zM364,450h1v1h-1zM368,450h1v1h-1zM363,451h1v1h-1zM369,451h1v1h-1zM363,452h1v1h-1zM369,452h1v1h-1zM362,453h1v1h-1zM370,453h1v1h-1zM362,454h9v1h-9z" fill="#000" shape-rendering="crispEdges"/><path d="M382,439h1v1h-1zM381,440h1v1h-1zM383,440h1v1h-1zM381,441h1v1h-1zM383,441h1v1h-1zM380,442h1v1h-1zM384,442h1v1h-1zM380,443h1v1h-1zM384,443h1v1h-1zM379,444h1v1h-1zM385,444h1v1h-1zM379,445h1v1h-1zM385,445h1v1h-1zM378,446h1v1h-1zM386,446h1v1h-1zM378,447h9v1h-9z" fill="#000" shape-rendering="crispEdges"/><path d="M398,447h1v1h-1zM397,448h1v1h-1zM399,448h1v1h-1zM397,449h1v1h-1zM399,449h1v1h-1zM396,450h1v1h-1zM400,450h1v1h-1zM396,451h1v1h-1zM400,451h1v1h-1zM395,452h1v1h-1zM401,452h1v1h-1zM395,453h1v1h-1zM401,453h1v1h-1zM394,454h1v1h-1zM402,454h1v1h-1zM394,455h9v1h-9z" fill="#000" shape-rendering="crispEdges"/><path d="M414,447h1v1h-1zM413,448h1v1h-1zM415,448h1v1h-1zM413,449h1v1h-1zM415,449h1v1h-1zM412,450h1v1h-1zM416,450h1v1h-1zM412,451h1v1h-1zM416,451h1v1h-1zM411,452h1v1h-1zM417,452h1v1h-1zM411,453h1v1h-1zM417,453h1v1h-1zM410,454h1v1h-1zM418,454h1v1h-1zM410,455h9v1h-9z" fill="#000" shape-rendering="crispEdges"/><path d="M430,446h1v1h-1zM429,447h1v1h-1zM431,447h1v1h-1zM429,448h1v1h-1zM431,448h1v1h-1zM428,449h1v1h-1zM432,449h1v1h-1zM428,450h1v1h-1zM432,450h1v1h-1zM427,451h1v1h-1zM433,451h1v1h-1zM427,452h1v1h-1zM433,452h1v1h-1zM426,453h1v1h-1zM434,453h1v1h-1zM426,454h9v1h-9z" fill="#000" shape-rendering="crispEdges"/><path d="M446,438h1v1h-1zM445,439h1v1h-1zM447,439h1v1h-1zM445,440h1v1h-1zM447,440h1v1h-1zM444,441h1v1h-1zM448,441h1v1h-1zM444,442h1v1h-1zM448,442h1v1h-1zM443,443h1v1h-1zM449,443h1v1h-1zM443,444h1v1h-1zM449,444h1v1h-1zM442,445h1v1h-1zM450,445h1v1h-1zM442,446h9v1h-9z" fill="#000" shape-rendering="crispEdges"/><path d="M462,444h1v1h-1zM461,445h1v1h-1zM463,445h1v1h-1zM461,446h1v1h-1zM463,446h1v1h-1zM460,447h1v1h-1zM464,447h1v1h-1zM460,448h1v1h-1zM464,448h1v1h-1zM459,449h1v1h-1zM465,449h1v1h-1zM459,450h1v1h-1zM465,450h1v1h-1zM458,451h1v1h-1zM466,451h1v1h-1zM458,452h9v1h-9z" fill="#000" shape-rendering="crispEdges"/><path d="M478,451h1v1h-1zM477,452h1v1h-1zM479,452h1v1h-1zM477,453h1v1h-1zM479,453h1v1h-1zM476,454h1v1h-1zM480,454h1v1h-1zM476,455h1v1h-1zM480,455h1v1h-1zM475,456h1v1h-1zM481,456h1v1h-1zM475,457h1v1h-1zM481,457h1v1h-1zM474,458h1v1h-1zM482,458h1v1h-1zM474,459h9v1h-9z" fill="#000" shape-rendering="crispEdges"/><path d="M494,442h1v1h-1zM493,443h1v1h-1zM495,443h1v1h-1zM493,444h1v1h-1zM495,444h1v1h-1zM492,445h1v1h-1zM496,445h1v1h-1zM492,446h1v1h-1zM496,446h1v1h-1zM491,447h1v1h-1zM497,447h1v1h-1zM491,448h1v1h-1zM497,448h1v1h-1zM490,449h1v1h-1zM498,449h1v1h-1zM490,450h9v1h-9z" fill="#000" shape-rendering="crispEdges"/><path d="M510,434h1v1h-1zM509,435h1v1h-1zM511,435h1v1h-1zM509,436h1v1h-1zM511,436h1v1h-1zM508,437h1v1h-1zM512,437h1v1h-1zM508,438h1v1h-1zM512,438h1v1h-1zM507,439h1v1h-1zM513,439h1v1h-1zM507,440h1v1h-1zM513,440h1v1h-1zM506,441h1v1h-1zM514,441h1v1h-1zM506,442h9v1h-9z" fill="#000" shape-rendering="crispEdges"/><path d="M526,440h1v1h-1zM525,441h1v1h-1zM527,441h1v1h-1zM525,442h1v1h-1zM527,442h1v1h-1zM524,443h1v1h-1zM528,443h1v1h-1zM524,444h1v1h-1zM528,444h1v1h-1zM523,445h1v1h-1zM529,445h1v1h-1zM523,446h1v1h-1zM529,446h1v1h-1zM522,447h1v1h-1zM530,447h1v1h-1zM522,448h9v1h-9z" fill="#000" shape-rendering="crispEdges"/><path d="M542,449h1v1h-1zM541,450h1v1h-1zM543,450h1v1h-1zM541,451h1v1h-1zM543,451h1v1h-1zM540,452h1v1h-1zM544,452h1v1h-1zM540,453h1v1h-1zM544,453h1v1h-1zM539,454h1v1h-1zM545,454h1v1h-1zM539,455h1v1h-1zM545,455h1v1h-1zM538,456h1v1h-1zM546,456h1v1h-1zM538,457h9v1h-9z" fill="#000" shape-rendering="crispEdges"/><path d="M558,443h1v1h-1zM557,444h1v1h-1zM559,444h1v1h-1zM557,445h1v1h-1zM559,445h1v1h-1zM556,446h1v1h-1zM560,446h1v1h-1zM556,447h1v1h-1zM560,447h1v1h-1zM555,448h1v1h-1zM561,448h1v1h-1zM555,449h1v1h-1zM561,449h1v1h-1zM554,450h1v1h-1zM562,450h1v1h-1zM554,451h9v1h-9z" fill="#000" shape-rendering="crispEdges"/><path d="M574,432h1v1h-1zM573,433h1v1h-1zM575,433h1v1h-1zM573,434h1v1h-1zM575,434h1v1h-1zM572,435h1v1h-1zM576,435h1v1h-1zM572,436h1v1h-1zM576,436h1v1h-1zM571,437h1v1h-1zM577,437h1v1h-1zM571,438h1v1h-1zM577,438h1v1h-1zM570,439h1v1h-1zM578,439h1v1h-1zM570,440h9v1h-9z" fill="#000" shape-rendering="crispEdges"/><path d="M590,434h1v1h-1zM589,435h1v1h-1zM591,435h1v1h-1zM589,436h1v1h-1zM591,436h1v1h-1zM588,437h1v1h-1zM592,437h1v1h-1zM588,438h1v1h-1zM592,438h1v1h-1zM587,439h1v1h-1zM593,439h1v1h-1zM587,440h1v1h-1zM593,440h1v1h-1zM586,441h1v1h-1zM594,441h1v1h-1zM586,442h9v1h-9z" fill="#000" shape-rendering="crispEdges"/><path d="M606,439h1v1h-1zM605,440h1v1h-1zM607,440h1v1h-1zM605,441h1v1h-1zM607,441h1v1h-1zM604,442h1v1h-1zM608,442h1v1h-1zM604,443h1v1h-1zM608,443h1v1h-1zM603,444h1v1h-1zM609,444h1v1h-1zM603,445h1v1h-1zM609,445h1v1h-1zM602,446h1v1h-1zM610,446h1v1h-1zM602,447h9v1h-9z" fill="#000" shape-rendering="crispEdges"/><path d="M621,433h1v1h-1zM620,434h1v1h-1zM622,434h1v1h-1zM620,435h1v1h-1zM622,435h1v1h-1zM619,436h1v1h-1zM623,436h1v1h-1zM619,437h1v1h-1zM623,437h1v1h-1zM618,438h1v1h-1zM624,438h1v1h-1zM618,439h1v1h-1zM624,439h1v1h-1zM617,440h1v1h-1zM625,440h1v1h-1zM617,441h9v1h-9z" fill="#000" shape-rendering="crispEdges"/><path d="M637,425h1v1h-1zM636,426h1v1h-1zM638,426h1v1h-1zM636,427h1v1h-1zM638,427h1v1h-1zM635,428h1v1h-1zM639,428h1v1h-1zM635,429h1v1h-1zM639,429h1v1h-1zM634,430h1v1h-1zM640,430h1v1h-1zM634,431h1v1h-1zM640,431h1v1h-1zM633,432h1v1h-1zM641,432h1v1h-1zM633,433h9v1h-9z" fill="#000" shape-rendering="crispEdges"/><path d="M653,432h1v1h-1zM652,433h1v1h-1zM654,433h1v1h-1zM652,434h1v1h-1zM654,434h1v1h-1zM651,435h1v1h-1zM655,435h1v1h-1zM651,436h1v1h-1zM655,436h1v1h-1zM650,437h1v1h-1zM656,437h1v1h-1zM650,438h1v1h-1zM656,438h1v1h-1zM649,439h1v1h-1zM657,439h1v1h-1zM649,440h9v1h-9z" fill="#000" shape-rendering="crispEdges"/><path d="M669,442h1v1h-1zM668,443h1v1h-1zM670,443h1v1h-1zM668,444h1v1h-1zM670,444h1v1h-1zM667,445h1v1h-1zM671,445h1v1h-1zM667,446h1v1h-1zM671,446h1v1h-1zM666,447h1v1h-1zM672,447h1v1h-1zM666,448h1v1h-1zM672,448h1v1h-1zM665,449h1v1h-1zM673,449h1v1h-1zM665,450h9v1h-9z" fill="#000" shape-rendering="crispEdges"/><path d="M685,437h1v1h-1zM684,438h1v1h-1zM686,438h1v1h-1zM684,439h1v1h-1zM686,439h1v1h-1zM683,440h1v1h-1zM687,440h1v1h-1zM683,441h1v1h-1zM687,441h1v1h-1zM682,442h1v1h-1zM688,442h1v1h-1zM682,443h1v1h-1zM688,443h1v1h-1zM681,444h1v1h-1zM689,444h1v1h-1zM681,445h9v1h-9z" fill="#000" shape-rendering="crispEdges"/><path d="M701,432h1v1h-1zM700,433h1v1h-1zM702,433h1v1h-1zM700,434h1v1h-1zM702,434h1v1h-1zM699,435h1v1h-1zM703,435h1v1h-1zM699,436h1v1h-1zM703,436h1v1h-1zM698,437h1v1h-1zM704,437h1v1h-1zM698,438h1v1h-1zM704,438h1v1h-1zM697,439h1v1h-1zM705,439h1v1h-1zM697,440h9v1h-9z" fill="#000" shape-rendering="crispEdges"/><path d="M717,441h1v1h-1zM716,442h1v1h-1zM718,442h1v1h-1zM716,443h1v1h-1zM718,443h1v1h-1zM715,444h1v1h-1zM719,444h1v1h-1zM715,445h1v1h-1zM719,445h1v1h-1zM714,446h1v1h-1zM720,446h1v1h-1zM714,447h1v1h-1zM720,447h1v1h-1zM713,448h1v1h-1zM721,448h1v1h-1zM713,449h9v1h-9z" fill="#000" shape-rendering="crispEdges"/><path d="M733,440h1v1h-1zM732,441h1v1h-1zM734,441h1v1h-1zM732,442h1v1h-1zM734,442h1v1h-1zM731,443h1v1h-1zM735,443h1v1h-1zM731,444h1v1h-1zM735,444h1v1h-1zM730,445h1v1h-1zM736,445h1v1h-1zM730,446h1v1h-1zM736,446h1v1h-1zM729,447h1v1h-1zM737,447h1v1h-1zM729,448h9v1h-9z" fill="#000" shape-rendering="crispEdges"/><path d="M749,436h1v1h-1zM748,437h1v1h-1zM750,437h1v1h-1zM748,438h1v1h-1zM750,438h1v1h-1zM747,439h1v1h-1zM751,439h1v1h-1zM747,440h1v1h-1zM751,440h1v1h-1zM746,441h1v1h-1zM752,441h1v1h-1zM746,442h1v1h-1zM752,442h1v1h-1zM745,443h1v1h-1zM753,443h1v1h-1zM745,444h9v1h-9z" fill="#000" shape-rendering="crispEdges"/><path d="M765,429h1v1h-1zM764,430h1v1h-1zM766,430h1v1h-1zM764,431h1v1h-1zM766,431h1v1h-1zM763,432h1v1h-1zM767,432h1v1h-1zM763,433h1v1h-1zM767,433h1v1h-1zM762,434h1v1h-1zM768,434h1v1h-1zM762,435h1v1h-1zM768,435h1v1h-1zM761,436h1v1h-1zM769,436h1v1h-1zM761,437h9v1h-9z" fill="#000" shape-rendering="crispEdges"/><path d="M781,434h1v1h-1zM780,435h1v1h-1zM782,435h1v1h-1zM780,436h1v1h-1zM782,436h1v1h-1zM779,437h1v1h-1zM783,437h1v1h-1zM779,438h1v1h-1zM783,438h1v1h-1zM778,439h1v1h-1zM784,439h1v1h-1zM778,440h1v1h-1zM784,440h1v1h-1zM777,441h1v1h-1zM785,441h1v1h-1zM777,442h9v1h-9z" fill="#000" shape-rendering="crispEdges"/><path d="M797,442h1v1h-1zM796,443h1v1h-1zM798,443h1v1h-1zM796,444h1v1h-1zM798,444h1v1h-1zM795,445h1v1h-1zM799,445h1v1h-1zM795,446h1v1h-1zM799,446h1v1h-1zM794,447h1v1h-1zM800,447h1v1h-1zM794,448h1v1h-1zM800,448h1v1h-1zM793,449h1v1h-1zM801,449h1v1h-1zM793,450h9v1h-9z" fill="#000" shape-rendering="crispEdges"/><path d="M813,442h1v1h-1zM812,443h1v1h-1zM814,443h1v1h-1zM812,444h1v1h-1zM814,444h1v1h-1zM811,445h1v1h-1zM815,445h1v1h-1zM811,446h1v1h-1zM815,446h1v1h-1zM810,447h1v1h-1zM816,447h1v1h-1zM810,448h1v1h-1zM816,448h1v1h-1zM809,449h1v1h-1zM817,449h1v1h-1zM809,450h9v1h-9z" fill="#000" shape-rendering="crispEdges"/><path d="M829,437h1v1h-1zM828,438h1v1h-1zM830,438h1v1h-1zM828,439h1v1h-1zM830,439h1v1h-1zM827,440h1v1h-1zM831,440h1v1h-1zM827,441h1v1h-1zM831,441h1v1h-1zM826,442h1v1h-1zM832,442h1v1h-1zM826,443h1v1h-1zM832,443h1v1h-1zM825,444h1v1h-1zM833,444h1v1h-1zM825,445h9v1h-9z" fill="#000" shape-rendering="crispEdges"/><path d="M845,436h1v1h-1zM844,437h1v1h-1zM846,437h1v1h-1zM844,438h1v1h-1zM846,438h1v1h-1zM843,439h1v1h-1zM847,439h1v1h-1zM843,440h1v1h-1zM847,440h1v1h-1zM842,441h1v1h-1zM848,441h1v1h-1zM842,442h1v1h-1zM848,442h1v1h-1zM841,443h1v1h-1zM849,443h1v1h-1zM841,444h9v1h-9z" fill="#000" shape-rendering="crispEdges"/><path d="M861,472h1v1h-1zM860,473h1v1h-1zM862,473h1v1h-1zM860,474h1v1h-1zM862,474h1v1h-1zM859,475h1v1h-1zM863,475h1v1h-1zM859,476h1v1h-1zM863,476h1v1h-1zM858,477h1v1h-1zM864,477h1v1h-1zM858,478h1v1h-1zM864,478h1v1h-1zM857,479h1v1h-1zM865,479h1v1h-1zM857,480h9v1h-9z" fill="#000" shape-rendering="crispEdges"/><path d="M877,472h1v1h-1zM876,473h1v1h-1zM878,473h1v1h-1zM876,474h1v1h-1zM878,474h1v1h-1zM875,475h1v1h-1zM879,475h1v1h-1zM875,476h1v1h-1zM879,476h1v1h-1zM874,477h1v1h-1zM880,477h1v1h-1zM874,478h1v1h-1zM880,478h1v1h-1zM873,479h1v1h-1zM881,479h1v1h-1zM873,480h9v1h-9z" fill="#000" shape-rendering="crispEdges"/><path d="M893,467h1v1h-1zM892,468h1v1h-1zM894,468h1v1h-1zM892,469h1v1h-1zM894,469h1v1h-1zM891,470h1v1h-1zM895,470h1v1h-1zM891,471h1v1h-1zM895,471h1v1h-1zM890,472h1v1h-1zM896,472h1v1h-1zM890,473h1v1h-1zM896,473h1v1h-1zM889,474h1v1h-1zM897,474h1v1h-1zM889,475h9v1h-9z" fill="#000" shape-rendering="crispEdges"/><path d="M908,478h1v1h-1zM907,479h1v1h-1zM909,479h1v1h-1zM907,480h1v1h-1zM909,480h1v1h-1zM906,481h1v1h-1zM910,481h1v1h-1zM906,482h1v1h-1zM910,482h1v1h-1zM905,483h1v1h-1zM911,483h1v1h-1zM905,484h1v1h-1zM911,484h1v1h-1zM904,485h1v1h-1zM912,485h1v1h-1zM904,486h9v1h-9z" fill="#000" shape-rendering="crispEdges"/><path d="M924,486h1v1h-1zM923,487h1v1h-1zM925,487h1v1h-1zM923,488h1v1h-1zM925,488h1v1h-1zM922,489h1v1h-1zM926,489h1v1h-1zM922,490h1v1h-1zM926,490h1v1h-1zM921,491h1v1h-1zM927,491h1v1h-1zM921,492h1v1h-1zM927,492h1v1h-1zM920,493h1v1h-1zM928,493h1v1h-1zM920,494h9v1h-9z" fill="#000" shape-rendering="crispEdges"/><path d="M940,476h1v1h-1zM939,477h1v1h-1zM941,477h1v1h-1zM939,478h1v1h-1zM941,478h1v1h-1zM938,479h1v1h-1zM942,479h1v1h-1zM938,480h1v1h-1zM942,480h1v1h-1zM937,481h1v1h-1zM943,481h1v1h-1zM937,482h1v1h-1zM943,482h1v1h-1zM936,483h1v1h-1zM944,483h1v1h-1zM936,484h9v1h-9z" fill="#000" shape-rendering="crispEdges"/><path d="M956,466h1v1h-1zM955,467h1v1h-1zM957,467h1v1h-1zM955,468h1v1h-1zM957,468h1v1h-1zM954,469h1v1h-1zM958,469h1v1h-1zM954,470h1v1h-1zM958,470h1v1h-1zM953,471h1v1h-1zM959,471h1v1h-1zM953,472h1v1h-1zM959,472h1v1h-1zM952,473h1v1h-1zM960,473h1v1h-1zM952,474h9v1h-9z" fill="#000" shape-rendering="crispEdges"/><path d="M972,474h1v1h-1zM971,475h1v1h-1zM973,475h1v1h-1zM971,476h1v1h-1zM973,476h1v1h-1zM970,477h1v1h-1zM974,477h1v1h-1zM970,478h1v1h-1zM974,478h1v1h-1zM969,479h1v1h-1zM975,479h1v1h-1zM969,480h1v1h-1zM975,480h1v1h-1zM968,481h1v1h-1zM976,481h1v1h-1zM968,482h9v1h-9z" fill="#000" shape-rendering="crispEdges"/><path d="M988,483h1v1h-1zM987,484h1v1h-1zM989,484h1v1h-1zM987,485h1v1h-1zM989,485h1v1h-1zM986,486h1v1h-1zM990,486h1v1h-1zM986,487h1v1h-1zM990,487h1v1h-1zM985,488h1v1h-1zM991,488h1v1h-1zM985,489h1v1h-1zM991,489h1v1h-1zM984,490h1v1h-1zM992,490h1v1h-1zM984,491h9v1h-9z" fill="#000" shape-rendering="crispEdges"/><path d="M1004,485h1v1h-1zM1003,486h1v1h-1zM1005,486h1v1h-1zM1003,487h1v1h-1zM1005,487h1v1h-1zM1002,488h1v1h-1zM1006,488h1v1h-1zM1002,489h1v1h-1zM1006,489h1v1h-1zM1001,490h1v1h-1zM1007,490h1v1h-1zM1001,491h1v1h-1zM1007,491h1v1h-1zM1000,492h1v1h-1zM1008,492h1v1h-1zM1000,493h9v1h-9z" fill="#000" shape-rendering="crispEdges"/><path d="M1020,491h1v1h-1zM1019,492h1v1h-1zM1021,492h1v1h-1zM1019,493h1v1h-1zM1021,493h1v1h-1zM1018,494h1v1h-1zM1022,494h1v1h-1zM1018,495h1v1h-1zM1022,495h1v1h-1zM1017,496h1v1h-1zM1023,496h1v1h-1zM1017,497h1v1h-1zM1023,497h1v1h-1zM1016,498h1v1h-1zM1024,498h1v1h-1zM1016,499h9v1h-9z" fill="#000" shape-rendering="crispEdges"/><path d="M1036,506h1v1h-1zM1035,507h1v1h-1zM1037,507h1v1h-1zM1035,508h1v1h-1zM1037,508h1v1h-1zM1034,509h1v1h-1zM1038,509h1v1h-1zM1034,510h1v1h-1zM1038,510h1v1h-1zM1033,511h1v1h-1zM1039,511h1v1h-1zM1033,512h1v1h-1zM1039,512h1v1h-1zM1032,513h1v1h-1zM1040,513h1v1h-1zM1032,514h9v1h-9z" fill="#000" shape-rendering="crispEdges"/><path d="M1052,518h1v1h-1zM1051,519h1v1h-1zM1053,519h1v1h-1zM1051,520h1v1h-1zM1053,520h1v1h-1zM1050,521h1v1h-1zM1054,521h1v1h-1zM1050,522h1v1h-1zM1054,522h1v1h-1zM1049,523h1v1h-1zM1055,523h1v1h-1zM1049,524h1v1h-1zM1055,524h1v1h-1zM1048,525h1v1h-1zM1056,525h1v1h-1zM1048,526h9v1h-9z" fill="#000" shape-rendering="crispEdges"/><path d="M1068,531h1v1h-1zM1067,532h1v1h-1zM1069,532h1v1h-1zM1067,533h1v1h-1zM1069,533h1v1h-1zM1066,534h1v1h-1zM1070,534h1v1h-1zM1066,535h1v1h-1zM1070,535h1v1h-1zM1065,536h1v1h-1zM1071,536h1v1h-1zM1065,537h1v1h-1zM1071,537h1v1h-1zM1064,538h1v1h-1zM1072,538h1v1h-1zM1064,539h9v1h-9z" fill="#000" shape-rendering="crispEdges"/></g>
<path d="M118.5,512H135V501H151V485H167V476H183V461H199V459H215V461H231V451H247V446H263V455H279V460H295V452H310V449H326V452H342V459H358V452H374V446H390V452H406V453H422V452H438V444H454V449H470V456H486V448H502V440H518V447H534V454H550V449H566V438H582V441H598V445H613V440H629V432H645V438H661V448H677V443H693V438H709V447H725V447H741V444H757V435H773V440H789V448H805V448H821V443H837V442H853V478H869V478H885V473H900V484H916V492H932V481H948V472H964V480H980V489H996V491H1012V497H1028V512H1044V523H1060V536H1076.5" fill="none" stroke="#cc6633" stroke-width="2" stroke-linejoin="miter" shape-rendering="crispEdges" clip-path="url(#c2)"/>
<g><path d="M123,508h9v1h-9zM124,509h1v1h-1zM130,509h1v1h-1zM124,510h1v1h-1zM130,510h1v1h-1zM125,511h1v1h-1zM129,511h1v1h-1zM125,512h1v1h-1zM129,512h1v1h-1zM126,513h1v1h-1zM128,513h1v1h-1zM126,514h1v1h-1zM128,514h1v1h-1zM127,515h1v1h-1z" fill="#000" shape-rendering="crispEdges"/><path d="M139,497h9v1h-9zM140,498h1v1h-1zM146,498h1v1h-1zM140,499h1v1h-1zM146,499h1v1h-1zM141,500h1v1h-1zM145,500h1v1h-1zM141,501h1v1h-1zM145,501h1v1h-1zM142,502h1v1h-1zM144,502h1v1h-1zM142,503h1v1h-1zM144,503h1v1h-1zM143,504h1v1h-1z" fill="#000" shape-rendering="crispEdges"/><path d="M155,481h9v1h-9zM156,482h1v1h-1zM162,482h1v1h-1zM156,483h1v1h-1zM162,483h1v1h-1zM157,484h1v1h-1zM161,484h1v1h-1zM157,485h1v1h-1zM161,485h1v1h-1zM158,486h1v1h-1zM160,486h1v1h-1zM158,487h1v1h-1zM160,487h1v1h-1zM159,488h1v1h-1z" fill="#000" shape-rendering="crispEdges"/><path d="M171,472h9v1h-9zM172,473h1v1h-1zM178,473h1v1h-1zM172,474h1v1h-1zM178,474h1v1h-1zM173,475h1v1h-1zM177,475h1v1h-1zM173,476h1v1h-1zM177,476h1v1h-1zM174,477h1v1h-1zM176,477h1v1h-1zM174,478h1v1h-1zM176,478h1v1h-1zM175,479h1v1h-1z" fill="#000" shape-rendering="crispEdges"/><path d="M187,457h9v1h-9zM188,458h1v1h-1zM194,458h1v1h-1zM188,459h1v1h-1zM194,459h1v1h-1zM189,460h1v1h-1zM193,460h1v1h-1zM189,461h1v1h-1zM193,461h1v1h-1zM190,462h1v1h-1zM192,462h1v1h-1zM190,463h1v1h-1zM192,463h1v1h-1zM191,464h1v1h-1z" fill="#000" shape-rendering="crispEdges"/><path d="M203,455h9v1h-9zM204,456h1v1h-1zM210,456h1v1h-1zM204,457h1v1h-1zM210,457h1v1h-1zM205,458h1v1h-1zM209,458h1v1h-1zM205,459h1v1h-1zM209,459h1v1h-1zM206,460h1v1h-1zM208,460h1v1h-1zM206,461h1v1h-1zM208,461h1v1h-1zM207,462h1v1h-1z" fill="#000" shape-rendering="crispEdges"/><path d="M219,457h9v1h-9zM220,458h1v1h-1zM226,458h1v1h-1zM220,459h1v1h-1zM226,459h1v1h-1zM221,460h1v1h-1zM225,460h1v1h-1zM221,461h1v1h-1zM225,461h1v1h-1zM222,462h1v1h-1zM224,462h1v1h-1zM222,463h1v1h-1zM224,463h1v1h-1zM223,464h1v1h-1z" fill="#000" shape-rendering="crispEdges"/><path d="M235,447h9v1h-9zM236,448h1v1h-1zM242,448h1v1h-1zM236,449h1v1h-1zM242,449h1v1h-1zM237,450h1v1h-1zM241,450h1v1h-1zM237,451h1v1h-1zM241,451h1v1h-1zM238,452h1v1h-1zM240,452h1v1h-1zM238,453h1v1h-1zM240,453h1v1h-1zM239,454h1v1h-1z" fill="#000" shape-rendering="crispEdges"/><path d="M251,442h9v1h-9zM252,443h1v1h-1zM258,443h1v1h-1zM252,444h1v1h-1zM258,444h1v1h-1zM253,445h1v1h-1zM257,445h1v1h-1zM253,446h1v1h-1zM257,446h1v1h-1zM254,447h1v1h-1zM256,447h1v1h-1zM254,448h1v1h-1zM256,448h1v1h-1zM255,449h1v1h-1z" fill="#000" shape-rendering="crispEdges"/><path d="M267,451h9v1h-9zM268,452h1v1h-1zM274,452h1v1h-1zM268,453h1v1h-1zM274,453h1v1h-1zM269,454h1v1h-1zM273,454h1v1h-1zM269,455h1v1h-1zM273,455h1v1h-1zM270,456h1v1h-1zM272,456h1v1h-1zM270,457h1v1h-1zM272,457h1v1h-1zM271,458h1v1h-1z" fill="#000" shape-rendering="crispEdges"/><path d="M283,456h9v1h-9zM284,457h1v1h-1zM290,457h1v1h-1zM284,458h1v1h-1zM290,458h1v1h-1zM285,459h1v1h-1zM289,459h1v1h-1zM285,460h1v1h-1zM289,460h1v1h-1zM286,461h1v1h-1zM288,461h1v1h-1zM286,462h1v1h-1zM288,462h1v1h-1zM287,463h1v1h-1z" fill="#000" shape-rendering="crispEdges"/><path d="M299,448h9v1h-9zM300,449h1v1h-1zM306,449h1v1h-1zM300,450h1v1h-1zM306,450h1v1h-1zM301,451h1v1h-1zM305,451h1v1h-1zM301,452h1v1h-1zM305,452h1v1h-1zM302,453h1v1h-1zM304,453h1v1h-1zM302,454h1v1h-1zM304,454h1v1h-1zM303,455h1v1h-1z" fill="#000" shape-rendering="crispEdges"/><path d="M314,445h9v1h-9zM315,446h1v1h-1zM321,446h1v1h-1zM315,447h1v1h-1zM321,447h1v1h-1zM316,448h1v1h-1zM320,448h1v1h-1zM316,449h1v1h-1zM320,449h1v1h-1zM317,450h1v1h-1zM319,450h1v1h-1zM317,451h1v1h-1zM319,451h1v1h-1zM318,452h1v1h-1z" fill="#000" shape-rendering="crispEdges"/><path d="M330,448h9v1h-9zM331,449h1v1h-1zM337,449h1v1h-1zM331,450h1v1h-1zM337,450h1v1h-1zM332,451h1v1h-1zM336,451h1v1h-1zM332,452h1v1h-1zM336,452h1v1h-1zM333,453h1v1h-1zM335,453h1v1h-1zM333,454h1v1h-1zM335,454h1v1h-1zM334,455h1v1h-1z" fill="#000" shape-rendering="crispEdges"/><path d="M346,455h9v1h-9zM347,456h1v1h-1zM353,456h1v1h-1zM347,457h1v1h-1zM353,457h1v1h-1zM348,458h1v1h-1zM352,458h1v1h-1zM348,459h1v1h-1zM352,459h1v1h-1zM349,460h1v1h-1zM351,460h1v1h-1zM349,461h1v1h-1zM351,461h1v1h-1zM350,462h1v1h-1z" fill="#000" shape-rendering="crispEdges"/><path d="M362,448h9v1h-9zM363,449h1v1h-1zM369,449h1v1h-1zM363,450h1v1h-1zM369,450h1v1h-1zM364,451h1v1h-1zM368,451h1v1h-1zM364,452h1v1h-1zM368,452h1v1h-1zM365,453h1v1h-1zM367,453h1v1h-1zM365,454h1v1h-1zM367,454h1v1h-1zM366,455h1v1h-1z" fill="#000" shape-rendering="crispEdges"/><path d="M378,442h9v1h-9zM379,443h1v1h-1zM385,443h1v1h-1zM379,444h1v1h-1zM385,444h1v1h-1zM380,445h1v1h-1zM384,445h1v1h-1zM380,446h1v1h-1zM384,446h1v1h-1zM381,447h1v1h-1zM383,447h1v1h-1zM381,448h1v1h-1zM383,448h1v1h-1zM382,449h1v1h-1z" fill="#000" shape-rendering="crispEdges"/><path d="M394,448h9v1h-9zM395,449h1v1h-1zM401,449h1v1h-1zM395,450h1v1h-1zM401,450h1v1h-1zM396,451h1v1h-1zM400,451h1v1h-1zM396,452h1v1h-1zM400,452h1v1h-1zM397,453h1v1h-1zM399,453h1v1h-1zM397,454h1v1h-1zM399,454h1v1h-1zM398,455h1v1h-1z" fill="#000" shape-rendering="crispEdges"/><path d="M410,449h9v1h-9zM411,450h1v1h-1zM417,450h1v1h-1zM411,451h1v1h-1zM417,451h1v1h-1zM412,452h1v1h-1zM416,452h1v1h-1zM412,453h1v1h-1zM416,453h1v1h-1zM413,454h1v1h-1zM415,454h1v1h-1zM413,455h1v1h-1zM415,455h1v1h-1zM414,456h1v1h-1z" fill="#000" shape-rendering="crispEdges"/><path d="M426,448h9v1h-9zM427,449h1v1h-1zM433,449h1v1h-1zM427,450h1v1h-1zM433,450h1v1h-1zM428,451h1v1h-1zM432,451h1v1h-1zM428,452h1v1h-1zM432,452h1v1h-1zM429,453h1v1h-1zM431,453h1v1h-1zM429,454h1v1h-1zM431,454h1v1h-1zM430,455h1v1h-1z" fill="#000" shape-rendering="crispEdges"/><path d="M442,440h9v1h-9zM443,441h1v1h-1zM449,441h1v1h-1zM443,442h1v1h-1zM449,442h1v1h-1zM444,443h1v1h-1zM448,443h1v1h-1zM444,444h1v1h-1zM448,444h1v1h-1zM445,445h1v1h-1zM447,445h1v1h-1zM445,446h1v1h-1zM447,446h1v1h-1zM446,447h1v1h-1z" fill="#000" shape-rendering="crispEdges"/><path d="M458,445h9v1h-9zM459,446h1v1h-1zM465,446h1v1h-1zM459,447h1v1h-1zM465,447h1v1h-1zM460,448h1v1h-1zM464,448h1v1h-1zM460,449h1v1h-1zM464,449h1v1h-1zM461,450h1v1h-1zM463,450h1v1h-1zM461,451h1v1h-1zM463,451h1v1h-1zM462,452h1v1h-1z" fill="#000" shape-rendering="crispEdges"/><path d="M474,452h9v1h-9zM475,453h1v1h-1zM481,453h1v1h-1zM475,454h1v1h-1zM481,454h1v1h-1zM476,455h1v1h-1zM480,455h1v1h-1zM476,456h1v1h-1zM480,456h1v1h-1zM477,457h1v1h-1zM479,457h1v1h-1zM477,458h1v1h-1zM479,458h1v1h-1zM478,459h1v1h-1z" fill="#000" shape-rendering="crispEdges"/><path d="M490,444h9v1h-9zM491,445h1v1h-1zM497,445h1v1h-1zM491,446h1v1h-1zM497,446h1v1h-1zM492,447h1v1h-1zM496,447h1v1h-1zM492,448h1v1h-1zM496,448h1v1h-1zM493,449h1v1h-1zM495,449h1v1h-1zM493,450h1v1h-1zM495,450h1v1h-1zM494,451h1v1h-1z" fill="#000" shape-rendering="crispEdges"/><path d="M506,436h9v1h-9zM507,437h1v1h-1zM513,437h1v1h-1zM507,438h1v1h-1zM513,438h1v1h-1zM508,439h1v1h-1zM512,439h1v1h-1zM508,440h1v1h-1zM512,440h1v1h-1zM509,441h1v1h-1zM511,441h1v1h-1zM509,442h1v1h-1zM511,442h1v1h-1zM510,443h1v1h-1z" fill="#000" shape-rendering="crispEdges"/><path d="M522,443h9v1h-9zM523,444h1v1h-1zM529,444h1v1h-1zM523,445h1v1h-1zM529,445h1v1h-1zM524,446h1v1h-1zM528,446h1v1h-1zM524,447h1v1h-1zM528,447h1v1h-1zM525,448h1v1h-1zM527,448h1v1h-1zM525,449h1v1h-1zM527,449h1v1h-1zM526,450h1v1h-1z" fill="#000" shape-rendering="crispEdges"/><path d="M538,450h9v1h-9zM539,451h1v1h-1zM545,451h1v1h-1zM539,452h1v1h-1zM545,452h1v1h-1zM540,453h1v1h-1zM544,453h1v1h-1zM540,454h1v1h-1zM544,454h1v1h-1zM541,455h1v1h-1zM543,455h1v1h-1zM541,456h1v1h-1zM543,456h1v1h-1zM542,457h1v1h-1z" fill="#000" shape-rendering="crispEdges"/><path d="M554,445h9v1h-9zM555,446h1v1h-1zM561,446h1v1h-1zM555,447h1v1h-1zM561,447h1v1h-1zM556,448h1v1h-1zM560,448h1v1h-1zM556,449h1v1h-1zM560,449h1v1h-1zM557,450h1v1h-1zM559,450h1v1h-1zM557,451h1v1h-1zM559,451h1v1h-1zM558,452h1v1h-1z" fill="#000" shape-rendering="crispEdges"/><path d="M570,434h9v1h-9zM571,435h1v1h-1zM577,435h1v1h-1zM571,436h1v1h-1zM577,436h1v1h-1zM572,437h1v1h-1zM576,437h1v1h-1zM572,438h1v1h-1zM576,438h1v1h-1zM573,439h1v1h-1zM575,439h1v1h-1zM573,440h1v1h-1zM575,440h1v1h-1zM574,441h1v1h-1z" fill="#000" shape-rendering="crispEdges"/><path d="M586,437h9v1h-9zM587,438h1v1h-1zM593,438h1v1h-1zM587,439h1v1h-1zM593,439h1v1h-1zM588,440h1v1h-1zM592,440h1v1h-1zM588,441h1v1h-1zM592,441h1v1h-1zM589,442h1v1h-1zM591,442h1v1h-1zM589,443h1v1h-1zM591,443h1v1h-1zM590,444h1v1h-1z" fill="#000" shape-rendering="crispEdges"/><path d="M602,441h9v1h-9zM603,442h1v1h-1zM609,442h1v1h-1zM603,443h1v1h-1zM609,443h1v1h-1zM604,444h1v1h-1zM608,444h1v1h-1zM604,445h1v1h-1zM608,445h1v1h-1zM605,446h1v1h-1zM607,446h1v1h-1zM605,447h1v1h-1zM607,447h1v1h-1zM606,448h1v1h-1z" fill="#000" shape-rendering="crispEdges"/><path d="M617,436h9v1h-9zM618,437h1v1h-1zM624,437h1v1h-1zM618,438h1v1h-1zM624,438h1v1h-1zM619,439h1v1h-1zM623,439h1v1h-1zM619,440h1v1h-1zM623,440h1v1h-1zM620,441h1v1h-1zM622,441h1v1h-1zM620,442h1v1h-1zM622,442h1v1h-1zM621,443h1v1h-1z" fill="#000" shape-rendering="crispEdges"/><path d="M633,428h9v1h-9zM634,429h1v1h-1zM640,429h1v1h-1zM634,430h1v1h-1zM640,430h1v1h-1zM635,431h1v1h-1zM639,431h1v1h-1zM635,432h1v1h-1zM639,432h1v1h-1zM636,433h1v1h-1zM638,433h1v1h-1zM636,434h1v1h-1zM638,434h1v1h-1zM637,435h1v1h-1z" fill="#000" shape-rendering="crispEdges"/><path d="M649,434h9v1h-9zM650,435h1v1h-1zM656,435h1v1h-1zM650,436h1v1h-1zM656,436h1v1h-1zM651,437h1v1h-1zM655,437h1v1h-1zM651,438h1v1h-1zM655,438h1v1h-1zM652,439h1v1h-1zM654,439h1v1h-1zM652,440h1v1h-1zM654,440h1v1h-1zM653,441h1v1h-1z" fill="#000" shape-rendering="crispEdges"/><path d="M665,444h9v1h-9zM666,445h1v1h-1zM672,445h1v1h-1zM666,446h1v1h-1zM672,446h1v1h-1zM667,447h1v1h-1zM671,447h1v1h-1zM667,448h1v1h-1zM671,448h1v1h-1zM668,449h1v1h-1zM670,449h1v1h-1zM668,450h1v1h-1zM670,450h1v1h-1zM669,451h1v1h-1z" fill="#000" shape-rendering="crispEdges"/><path d="M681,439h9v1h-9zM682,440h1v1h-1zM688,440h1v1h-1zM682,441h1v1h-1zM688,441h1v1h-1zM683,442h1v1h-1zM687,442h1v1h-1zM683,443h1v1h-1zM687,443h1v1h-1zM684,444h1v1h-1zM686,444h1v1h-1zM684,445h1v1h-1zM686,445h1v1h-1zM685,446h1v1h-1z" fill="#000" shape-rendering="crispEdges"/><path d="M697,434h9v1h-9zM698,435h1v1h-1zM704,435h1v1h-1zM698,436h1v1h-1zM704,436h1v1h-1zM699,437h1v1h-1zM703,437h1v1h-1zM699,438h1v1h-1zM703,438h1v1h-1zM700,439h1v1h-1zM702,439h1v1h-1zM700,440h1v1h-1zM702,440h1v1h-1zM701,441h1v1h-1z" fill="#000" shape-rendering="crispEdges"/><path d="M713,443h9v1h-9zM714,444h1v1h-1zM720,444h1v1h-1zM714,445h1v1h-1zM720,445h1v1h-1zM715,446h1v1h-1zM719,446h1v1h-1zM715,447h1v1h-1zM719,447h1v1h-1zM716,448h1v1h-1zM718,448h1v1h-1zM716,449h1v1h-1zM718,449h1v1h-1zM717,450h1v1h-1z" fill="#000" shape-rendering="crispEdges"/><path d="M729,443h9v1h-9zM730,444h1v1h-1zM736,444h1v1h-1zM730,445h1v1h-1zM736,445h1v1h-1zM731,446h1v1h-1zM735,446h1v1h-1zM731,447h1v1h-1zM735,447h1v1h-1zM732,448h1v1h-1zM734,448h1v1h-1zM732,449h1v1h-1zM734,449h1v1h-1zM733,450h1v1h-1z" fill="#000" shape-rendering="crispEdges"/><path d="M745,440h9v1h-9zM746,441h1v1h-1zM752,441h1v1h-1zM746,442h1v1h-1zM752,442h1v1h-1zM747,443h1v1h-1zM751,443h1v1h-1zM747,444h1v1h-1zM751,444h1v1h-1zM748,445h1v1h-1zM750,445h1v1h-1zM748,446h1v1h-1zM750,446h1v1h-1zM749,447h1v1h-1z" fill="#000" shape-rendering="crispEdges"/><path d="M761,431h9v1h-9zM762,432h1v1h-1zM768,432h1v1h-1zM762,433h1v1h-1zM768,433h1v1h-1zM763,434h1v1h-1zM767,434h1v1h-1zM763,435h1v1h-1zM767,435h1v1h-1zM764,436h1v1h-1zM766,436h1v1h-1zM764,437h1v1h-1zM766,437h1v1h-1zM765,438h1v1h-1z" fill="#000" shape-rendering="crispEdges"/><path d="M777,436h9v1h-9zM778,437h1v1h-1zM784,437h1v1h-1zM778,438h1v1h-1zM784,438h1v1h-1zM779,439h1v1h-1zM783,439h1v1h-1zM779,440h1v1h-1zM783,440h1v1h-1zM780,441h1v1h-1zM782,441h1v1h-1zM780,442h1v1h-1zM782,442h1v1h-1zM781,443h1v1h-1z" fill="#000" shape-rendering="crispEdges"/><path d="M793,444h9v1h-9zM794,445h1v1h-1zM800,445h1v1h-1zM794,446h1v1h-1zM800,446h1v1h-1zM795,447h1v1h-1zM799,447h1v1h-1zM795,448h1v1h-1zM799,448h1v1h-1zM796,449h1v1h-1zM798,449h1v1h-1zM796,450h1v1h-1zM798,450h1v1h-1zM797,451h1v1h-1z" fill="#000" shape-rendering="crispEdges"/><path d="M809,444h9v1h-9zM810,445h1v1h-1zM816,445h1v1h-1zM810,446h1v1h-1zM816,446h1v1h-1zM811,447h1v1h-1zM815,447h1v1h-1zM811,448h1v1h-1zM815,448h1v1h-1zM812,449h1v1h-1zM814,449h1v1h-1zM812,450h1v1h-1zM814,450h1v1h-1zM813,451h1v1h-1z" fill="#000" shape-rendering="crispEdges"/><path d="M825,439h9v1h-9zM826,440h1v1h-1zM832,440h1v1h-1zM826,441h1v1h-1zM832,441h1v1h-1zM827,442h1v1h-1zM831,442h1v1h-1zM827,443h1v1h-1zM831,443h1v1h-1zM828,444h1v1h-1zM830,444h1v1h-1zM828,445h1v1h-1zM830,445h1v1h-1zM829,446h1v1h-1z" fill="#000" shape-rendering="crispEdges"/><path d="M841,438h9v1h-9zM842,439h1v1h-1zM848,439h1v1h-1zM842,440h1v1h-1zM848,440h1v1h-1zM843,441h1v1h-1zM847,441h1v1h-1zM843,442h1v1h-1zM847,442h1v1h-1zM844,443h1v1h-1zM846,443h1v1h-1zM844,444h1v1h-1zM846,444h1v1h-1zM845,445h1v1h-1z" fill="#000" shape-rendering="crispEdges"/><path d="M857,474h9v1h-9zM858,475h1v1h-1zM864,475h1v1h-1zM858,476h1v1h-1zM864,476h1v1h-1zM859,477h1v1h-1zM863,477h1v1h-1zM859,478h1v1h-1zM863,478h1v1h-1zM860,479h1v1h-1zM862,479h1v1h-1zM860,480h1v1h-1zM862,480h1v1h-1zM861,481h1v1h-1z" fill="#000" shape-rendering="crispEdges"/><path d="M873,474h9v1h-9zM874,475h1v1h-1zM880,475h1v1h-1zM874,476h1v1h-1zM880,476h1v1h-1zM875,477h1v1h-1zM879,477h1v1h-1zM875,478h1v1h-1zM879,478h1v1h-1zM876,479h1v1h-1zM878,479h1v1h-1zM876,480h1v1h-1zM878,480h1v1h-1zM877,481h1v1h-1z" fill="#000" shape-rendering="crispEdges"/><path d="M889,469h9v1h-9zM890,470h1v1h-1zM896,470h1v1h-1zM890,471h1v1h-1zM896,471h1v1h-1zM891,472h1v1h-1zM895,472h1v1h-1zM891,473h1v1h-1zM895,473h1v1h-1zM892,474h1v1h-1zM894,474h1v1h-1zM892,475h1v1h-1zM894,475h1v1h-1zM893,476h1v1h-1z" fill="#000" shape-rendering="crispEdges"/><path d="M904,480h9v1h-9zM905,481h1v1h-1zM911,481h1v1h-1zM905,482h1v1h-1zM911,482h1v1h-1zM906,483h1v1h-1zM910,483h1v1h-1zM906,484h1v1h-1zM910,484h1v1h-1zM907,485h1v1h-1zM909,485h1v1h-1zM907,486h1v1h-1zM909,486h1v1h-1zM908,487h1v1h-1z" fill="#000" shape-rendering="crispEdges"/><path d="M920,488h9v1h-9zM921,489h1v1h-1zM927,489h1v1h-1zM921,490h1v1h-1zM927,490h1v1h-1zM922,491h1v1h-1zM926,491h1v1h-1zM922,492h1v1h-1zM926,492h1v1h-1zM923,493h1v1h-1zM925,493h1v1h-1zM923,494h1v1h-1zM925,494h1v1h-1zM924,495h1v1h-1z" fill="#000" shape-rendering="crispEdges"/><path d="M936,477h9v1h-9zM937,478h1v1h-1zM943,478h1v1h-1zM937,479h1v1h-1zM943,479h1v1h-1zM938,480h1v1h-1zM942,480h1v1h-1zM938,481h1v1h-1zM942,481h1v1h-1zM939,482h1v1h-1zM941,482h1v1h-1zM939,483h1v1h-1zM941,483h1v1h-1zM940,484h1v1h-1z" fill="#000" shape-rendering="crispEdges"/><path d="M952,468h9v1h-9zM953,469h1v1h-1zM959,469h1v1h-1zM953,470h1v1h-1zM959,470h1v1h-1zM954,471h1v1h-1zM958,471h1v1h-1zM954,472h1v1h-1zM958,472h1v1h-1zM955,473h1v1h-1zM957,473h1v1h-1zM955,474h1v1h-1zM957,474h1v1h-1zM956,475h1v1h-1z" fill="#000" shape-rendering="crispEdges"/><path d="M968,476h9v1h-9zM969,477h1v1h-1zM975,477h1v1h-1zM969,478h1v1h-1zM975,478h1v1h-1zM970,479h1v1h-1zM974,479h1v1h-1zM970,480h1v1h-1zM974,480h1v1h-1zM971,481h1v1h-1zM973,481h1v1h-1zM971,482h1v1h-1zM973,482h1v1h-1zM972,483h1v1h-1z" fill="#000" shape-rendering="crispEdges"/><path d="M984,485h9v1h-9zM985,486h1v1h-1zM991,486h1v1h-1zM985,487h1v1h-1zM991,487h1v1h-1zM986,488h1v1h-1zM990,488h1v1h-1zM986,489h1v1h-1zM990,489h1v1h-1zM987,490h1v1h-1zM989,490h1v1h-1zM987,491h1v1h-1zM989,491h1v1h-1zM988,492h1v1h-1z" fill="#000" shape-rendering="crispEdges"/><path d="M1000,487h9v1h-9zM1001,488h1v1h-1zM1007,488h1v1h-1zM1001,489h1v1h-1zM1007,489h1v1h-1zM1002,490h1v1h-1zM1006,490h1v1h-1zM1002,491h1v1h-1zM1006,491h1v1h-1zM1003,492h1v1h-1zM1005,492h1v1h-1zM1003,493h1v1h-1zM1005,493h1v1h-1zM1004,494h1v1h-1z" fill="#000" shape-rendering="crispEdges"/><path d="M1016,493h9v1h-9zM1017,494h1v1h-1zM1023,494h1v1h-1zM1017,495h1v1h-1zM1023,495h1v1h-1zM1018,496h1v1h-1zM1022,496h1v1h-1zM1018,497h1v1h-1zM1022,497h1v1h-1zM1019,498h1v1h-1zM1021,498h1v1h-1zM1019,499h1v1h-1zM1021,499h1v1h-1zM1020,500h1v1h-1z" fill="#000" shape-rendering="crispEdges"/><path d="M1032,508h9v1h-9zM1033,509h1v1h-1zM1039,509h1v1h-1zM1033,510h1v1h-1zM1039,510h1v1h-1zM1034,511h1v1h-1zM1038,511h1v1h-1zM1034,512h1v1h-1zM1038,512h1v1h-1zM1035,513h1v1h-1zM1037,513h1v1h-1zM1035,514h1v1h-1zM1037,514h1v1h-1zM1036,515h1v1h-1z" fill="#000" shape-rendering="crispEdges"/><path d="M1048,519h9v1h-9zM1049,520h1v1h-1zM1055,520h1v1h-1zM1049,521h1v1h-1zM1055,521h1v1h-1zM1050,522h1v1h-1zM1054,522h1v1h-1zM1050,523h1v1h-1zM1054,523h1v1h-1zM1051,524h1v1h-1zM1053,524h1v1h-1zM1051,525h1v1h-1zM1053,525h1v1h-1zM1052,526h1v1h-1z" fill="#000" shape-rendering="crispEdges"/><path d="M1064,532h9v1h-9zM1065,533h1v1h-1zM1071,533h1v1h-1zM1065,534h1v1h-1zM1071,534h1v1h-1zM1066,535h1v1h-1zM1070,535h1v1h-1zM1066,536h1v1h-1zM1070,536h1v1h-1zM1067,537h1v1h-1zM1069,537h1v1h-1zM1067,538h1v1h-1zM1069,538h1v1h-1zM1068,539h1v1h-1z" fill="#000" shape-rendering="crispEdges"/></g>
<line x1="119" y1="689.5" x2="1076" y2="689.5" stroke="#000" stroke-width="1" stroke-dasharray="1 2" shape-rendering="crispEdges"/>
<line x1="119" y1="678.5" x2="1076" y2="678.5" stroke="#000" stroke-width="1" stroke-dasharray="1 2" shape-rendering="crispEdges"/>
<line x1="119" y1="667.5" x2="1076" y2="667.5" stroke="#000" stroke-width="1" stroke-dasharray="1 2" shape-rendering="crispEdges"/>
<line x1="119" y1="656.5" x2="1076" y2="656.5" stroke="#000" stroke-width="1" stroke-dasharray="1 2" shape-rendering="crispEdges"/>
<line x1="119" y1="646.5" x2="1076" y2="646.5" stroke="#000" stroke-width="1" stroke-dasharray="1 2" shape-rendering="crispEdges"/>
<line x1="119" y1="635.5" x2="1076" y2="635.5" stroke="#000" stroke-width="1" stroke-dasharray="1 2" shape-rendering="crispEdges"/>
<line x1="119" y1="624.5" x2="1076" y2="624.5" stroke="#000" stroke-width="1" stroke-dasharray="1 2" shape-rendering="crispEdges"/>
<line x1="119" y1="613.5" x2="1076" y2="613.5" stroke="#000" stroke-width="1" stroke-dasharray="1 2" shape-rendering="crispEdges"/>
<line x1="119" y1="602.5" x2="1076" y2="602.5" stroke="#000" stroke-width="1" stroke-dasharray="1 2" shape-rendering="crispEdges"/>
<line x1="119" y1="591.5" x2="1076" y2="591.5" stroke="#000" stroke-width="1" stroke-dasharray="1 2" shape-rendering="crispEdges"/>
<line x1="119" y1="580.5" x2="1076" y2="580.5" stroke="#000" stroke-width="1" stroke-dasharray="1 2" shape-rendering="crispEdges"/>
<line x1="135.5" y1="571" x2="135.5" y2="694" stroke="#000" stroke-width="1" stroke-dasharray="1 2" shape-rendering="crispEdges"/>
<line x1="167.5" y1="571" x2="167.5" y2="694" stroke="#000" stroke-width="1" stroke-dasharray="1 2" shape-rendering="crispEdges"/>
<line x1="199.5" y1="571" x2="199.5" y2="694" stroke="#000" stroke-width="1" stroke-dasharray="1 2" shape-rendering="crispEdges"/>
<line x1="231.5" y1="571" x2="231.5" y2="694" stroke="#000" stroke-width="1" stroke-dasharray="1 2" shape-rendering="crispEdges"/>
<line x1="263.5" y1="571" x2="263.5" y2="694" stroke="#000" stroke-width="1" stroke-dasharray="1 2" shape-rendering="crispEdges"/>
<line x1="295.5" y1="571" x2="295.5" y2="694" stroke="#000" stroke-width="1" stroke-dasharray="1 2" shape-rendering="crispEdges"/>
<line x1="326.5" y1="571" x2="326.5" y2="694" stroke="#000" stroke-width="1" stroke-dasharray="1 2" shape-rendering="crispEdges"/>
<line x1="358.5" y1="571" x2="358.5" y2="694" stroke="#000" stroke-width="1" stroke-dasharray="1 2" shape-rendering="crispEdges"/>
<line x1="390.5" y1="571" x2="390.5" y2="694" stroke="#000" stroke-width="1" stroke-dasharray="1 2" shape-rendering="crispEdges"/>
<line x1="422.5" y1="571" x2="422.5" y2="694" stroke="#000" stroke-width="1" stroke-dasharray="1 2" shape-rendering="crispEdges"/>
<line x1="454.5" y1="571" x2="454.5" y2="694" stroke="#000" stroke-width="1" stroke-dasharray="1 2" shape-rendering="crispEdges"/>
<line x1="486.5" y1="571" x2="486.5" y2="694" stroke="#000" stroke-width="1" stroke-dasharray="1 2" shape-rendering="crispEdges"/>
<line x1="518.5" y1="571" x2="518.5" y2="694" stroke="#000" stroke-width="1" stroke-dasharray="1 2" shape-rendering="crispEdges"/>
<line x1="550.5" y1="571" x2="550.5" y2="694" stroke="#000" stroke-width="1" stroke-dasharray="1 2" shape-rendering="crispEdges"/>
<line x1="582.5" y1="571" x2="582.5" y2="694" stroke="#000" stroke-width="1" stroke-dasharray="1 2" shape-rendering="crispEdges"/>
<line x1="613.5" y1="571" x2="613.5" y2="694" stroke="#000" stroke-width="1" stroke-dasharray="1 2" shape-rendering="crispEdges"/>
<line x1="645.5" y1="571" x2="645.5" y2="694" stroke="#000" stroke-width="1" stroke-dasharray="1 2" shape-rendering="crispEdges"/>
<line x1="677.5" y1="571" x2="677.5" y2="694" stroke="#000" stroke-width="1" stroke-dasharray="1 2" shape-rendering="crispEdges"/>
<line x1="709.5" y1="571" x2="709.5" y2="694" stroke="#000" stroke-width="1" stroke-dasharray="1 2" shape-rendering="crispEdges"/>
<line x1="741.5" y1="571" x2="741.5" y2="694" stroke="#000" stroke-width="1" stroke-dasharray="1 2" shape-rendering="crispEdges"/>
<line x1="773.5" y1="571" x2="773.5" y2="694" stroke="#000" stroke-width="1" stroke-dasharray="1 2" shape-rendering="crispEdges"/>
<line x1="805.5" y1="571" x2="805.5" y2="694" stroke="#000" stroke-width="1" stroke-dasharray="1 2" shape-rendering="crispEdges"/>
<line x1="837.5" y1="571" x2="837.5" y2="694" stroke="#000" stroke-width="1" stroke-dasharray="1 2" shape-rendering="crispEdges"/>
<line x1="869.5" y1="571" x2="869.5" y2="694" stroke="#000" stroke-width="1" stroke-dasharray="1 2" shape-rendering="crispEdges"/>
<line x1="900.5" y1="571" x2="900.5" y2="694" stroke="#000" stroke-width="1" stroke-dasharray="1 2" shape-rendering="crispEdges"/>
<line x1="932.5" y1="571" x2="932.5" y2="694" stroke="#000" stroke-width="1" stroke-dasharray="1 2" shape-rendering="crispEdges"/>
<line x1="964.5" y1="571" x2="964.5" y2="694" stroke="#000" stroke-width="1" stroke-dasharray="1 2" shape-rendering="crispEdges"/>
<line x1="996.5" y1="571" x2="996.5" y2="694" stroke="#000" stroke-width="1" stroke-dasharray="1 2" shape-rendering="crispEdges"/>
<line x1="1028.5" y1="571" x2="1028.5" y2="694" stroke="#000" stroke-width="1" stroke-dasharray="1 2" shape-rendering="crispEdges"/>
<line x1="1060.5" y1="571" x2="1060.5" y2="694" stroke="#000" stroke-width="1" stroke-dasharray="1 2" shape-rendering="crispEdges"/>
<rect x="119.5" y="571.5" width="957" height="123" fill="none" stroke="#000" stroke-width="1" shape-rendering="crispEdges"/>
<path d="M120,689.5H149 M120,678.5H149 M120,667.5H149 M120,656.5H149 M120,646.5H149 M120,635.5H149 M120,624.5H149 M120,613.5H149 M120,602.5H149 M120,591.5H149 M120,580.5H149 M120,687.5H134 M120,684.5H134 M120,681.5H134 M120,676.5H134 M120,673.5H134 M120,670.5H134 M120,665.5H134 M120,662.5H134 M120,659.5H134 M120,654.5H134 M120,651.5H134 M120,649.5H134 M120,644.5H134 M120,641.5H134 M120,638.5H134 M120,633.5H134 M120,630.5H134 M120,627.5H134 M120,622.5H134 M120,619.5H134 M120,616.5H134 M120,611.5H134 M120,608.5H134 M120,605.5H134 M120,600.5H134 M120,597.5H134 M120,594.5H134 M120,589.5H134 M120,586.5H134 M120,583.5H134 M120,578.5H134 M120,692.5H134 M120,575.5H134 M120,572.5H134" stroke="#000" stroke-width="1" fill="none" shape-rendering="crispEdges"/>
<path d="M135.5,694V691 M167.5,694V691 M199.5,694V691 M231.5,694V691 M263.5,694V691 M295.5,694V691 M326.5,694V691 M358.5,694V691 M390.5,694V691 M422.5,694V691 M454.5,694V691 M486.5,694V691 M518.5,694V691 M550.5,694V691 M582.5,694V691 M613.5,694V691 M645.5,694V691 M677.5,694V691 M709.5,694V691 M741.5,694V691 M773.5,694V691 M805.5,694V691 M837.5,694V691 M869.5,694V691 M900.5,694V691 M932.5,694V691 M964.5,694V691 M996.5,694V691 M1028.5,694V691 M1060.5,694V691" stroke="#000" stroke-width="1" fill="none" shape-rendering="crispEdges"/>
<text x="113.6" y="696.00" text-anchor="end" font-size="17">600</text>
<text x="113.6" y="685.00" text-anchor="end" font-size="17">800</text>
<text clip-path="url(#one123)" x="113.6" y="674.00" text-anchor="end" font-size="17">1000</text>
<text clip-path="url(#one124)" x="113.6" y="663.00" text-anchor="end" font-size="17">1200</text>
<text clip-path="url(#one125)" x="113.6" y="653.00" text-anchor="end" font-size="17">1400</text>
<text clip-path="url(#one126)" x="113.6" y="642.00" text-anchor="end" font-size="17">1600</text>
<text clip-path="url(#one127)" x="113.6" y="631.00" text-anchor="end" font-size="17">1800</text>
<text x="113.6" y="620.00" text-anchor="end" font-size="17">2000</text>
<text x="113.6" y="609.00" text-anchor="end" font-size="17">2200</text>
<text x="113.6" y="598.00" text-anchor="end" font-size="17">2400</text>
<text x="113.6" y="587.00" text-anchor="end" font-size="17">2600</text>
<text x="134.70" y="710" text-anchor="middle" font-size="17.5">2</text>
<text x="166.70" y="710" text-anchor="middle" font-size="17.5">4</text>
<text x="198.70" y="710" text-anchor="middle" font-size="17.5">6</text>
<text x="230.70" y="710" text-anchor="middle" font-size="17.5">8</text>
<text clip-path="url(#one136)" x="262.70" y="710" text-anchor="middle" font-size="17.5">10</text>
<text clip-path="url(#one137)" x="294.70" y="710" text-anchor="middle" font-size="17.5">12</text>
<text clip-path="url(#one138)" x="325.70" y="710" text-anchor="middle" font-size="17.5">14</text>
<text clip-path="url(#one139)" x="357.70" y="710" text-anchor="middle" font-size="17.5">16</text>
<text clip-path="url(#one140)" x="389.70" y="710" text-anchor="middle" font-size="17.5">18</text>
<text x="421.70" y="710" text-anchor="middle" font-size="17.5">20</text>
<text x="453.70" y="710" text-anchor="middle" font-size="17.5">22</text>
<text x="485.70" y="710" text-anchor="middle" font-size="17.5">24</text>
<text x="517.70" y="710" text-anchor="middle" font-size="17.5">26</text>
<text x="549.70" y="710" text-anchor="middle" font-size="17.5">28</text>
<text x="581.70" y="710" text-anchor="middle" font-size="17.5">30</text>
<text x="612.70" y="710" text-anchor="middle" font-size="17.5">32</text>
<text x="644.70" y="710" text-anchor="middle" font-size="17.5">34</text>
<text x="676.70" y="710" text-anchor="middle" font-size="17.5">36</text>
<text x="708.70" y="710" text-anchor="middle" font-size="17.5">38</text>
<text x="740.70" y="710" text-anchor="middle" font-size="17.5">40</text>
<text x="772.70" y="710" text-anchor="middle" font-size="17.5">42</text>
<text x="804.70" y="710" text-anchor="middle" font-size="17.5">44</text>
<text x="836.70" y="710" text-anchor="middle" font-size="17.5">46</text>
<text x="868.70" y="710" text-anchor="middle" font-size="17.5">48</text>
<text x="899.70" y="710" text-anchor="middle" font-size="17.5">50</text>
<text x="931.70" y="710" text-anchor="middle" font-size="17.5">52</text>
<text x="963.70" y="710" text-anchor="middle" font-size="17.5">54</text>
<text x="995.70" y="710" text-anchor="middle" font-size="17.5">56</text>
<text x="1027.70" y="710" text-anchor="middle" font-size="17.5">58</text>
<text x="1059.70" y="710" text-anchor="middle" font-size="17.5">60</text>
<text x="1076.2" y="731" text-anchor="end" font-size="17">Cell</text>
<text x="1081.4" y="598" font-size="30.4">L4</text>
<clipPath id="c3"><rect x="119" y="572" width="958" height="124"/></clipPath>
<path d="M135,689H135V661H151V646H167V628H183V616H199V604H215V611H231V606H247V594H263V596H279V612H295V601H310V597H326V595H342V608H358V603H374V592H390V595H406V608H422V597H438V594H454V595H470V603H486V598H502V588H518V590H534V599H550V601H566V584H582V588H598V593H613V584H629V583H645V577H661V595H677V591H693V584H709V587H725V601H741V589H757V581H773V582H789V596H805V593H821V589H837V587H853V612H869V628H885V627H900V629H916V644H932V635H948V623H964V625H980V636H996V635H1012V643H1028V657H1044V671H1060V687H1076.5" fill="none" stroke="#000000" stroke-width="2" stroke-linejoin="miter" shape-rendering="crispEdges" clip-path="url(#c3)"/>
<g><circle cx="127.50" cy="689.40" r="4.15" fill="none" stroke="#000" stroke-width="1.1"/><path d="M127.5,684v1M127.5,694v1" stroke="#000" stroke-opacity="0.3" stroke-width="1" shape-rendering="crispEdges"/><circle cx="143.50" cy="661.40" r="4.15" fill="none" stroke="#000" stroke-width="1.1"/><path d="M143.5,656v1M143.5,666v1" stroke="#000" stroke-opacity="0.3" stroke-width="1" shape-rendering="crispEdges"/><circle cx="159.50" cy="646.40" r="4.15" fill="none" stroke="#000" stroke-width="1.1"/><path d="M159.5,641v1M159.5,651v1" stroke="#000" stroke-opacity="0.3" stroke-width="1" shape-rendering="crispEdges"/><circle cx="175.50" cy="628.40" r="4.15" fill="none" stroke="#000" stroke-width="1.1"/><path d="M175.5,623v1M175.5,633v1" stroke="#000" stroke-opacity="0.3" stroke-width="1" shape-rendering="crispEdges"/><circle cx="191.50" cy="616.40" r="4.15" fill="none" stroke="#000" stroke-width="1.1"/><path d="M191.5,611v1M191.5,621v1" stroke="#000" stroke-opacity="0.3" stroke-width="1" shape-rendering="crispEdges"/><circle cx="207.50" cy="604.40" r="4.15" fill="none" stroke="#000" stroke-width="1.1"/><path d="M207.5,599v1M207.5,609v1" stroke="#000" stroke-opacity="0.3" stroke-width="1" shape-rendering="crispEdges"/><circle cx="223.50" cy="611.40" r="4.15" fill="none" stroke="#000" stroke-width="1.1"/><path d="M223.5,606v1M223.5,616v1" stroke="#000" stroke-opacity="0.3" stroke-width="1" shape-rendering="crispEdges"/><circle cx="239.50" cy="606.40" r="4.15" fill="none" stroke="#000" stroke-width="1.1"/><path d="M239.5,601v1M239.5,611v1" stroke="#000" stroke-opacity="0.3" stroke-width="1" shape-rendering="crispEdges"/><circle cx="255.50" cy="594.40" r="4.15" fill="none" stroke="#000" stroke-width="1.1"/><path d="M255.5,589v1M255.5,599v1" stroke="#000" stroke-opacity="0.3" stroke-width="1" shape-rendering="crispEdges"/><circle cx="271.50" cy="596.40" r="4.15" fill="none" stroke="#000" stroke-width="1.1"/><path d="M271.5,591v1M271.5,601v1" stroke="#000" stroke-opacity="0.3" stroke-width="1" shape-rendering="crispEdges"/><circle cx="287.50" cy="612.40" r="4.15" fill="none" stroke="#000" stroke-width="1.1"/><path d="M287.5,607v1M287.5,617v1" stroke="#000" stroke-opacity="0.3" stroke-width="1" shape-rendering="crispEdges"/><circle cx="303.00" cy="601.40" r="4.15" fill="none" stroke="#000" stroke-width="1.1"/><path d="M303.5,596v1M303.5,606v1" stroke="#000" stroke-opacity="0.3" stroke-width="1" shape-rendering="crispEdges"/><circle cx="318.50" cy="597.40" r="4.15" fill="none" stroke="#000" stroke-width="1.1"/><path d="M318.5,592v1M318.5,602v1" stroke="#000" stroke-opacity="0.3" stroke-width="1" shape-rendering="crispEdges"/><circle cx="334.50" cy="595.40" r="4.15" fill="none" stroke="#000" stroke-width="1.1"/><path d="M334.5,590v1M334.5,600v1" stroke="#000" stroke-opacity="0.3" stroke-width="1" shape-rendering="crispEdges"/><circle cx="350.50" cy="608.40" r="4.15" fill="none" stroke="#000" stroke-width="1.1"/><path d="M350.5,603v1M350.5,613v1" stroke="#000" stroke-opacity="0.3" stroke-width="1" shape-rendering="crispEdges"/><circle cx="366.50" cy="603.40" r="4.15" fill="none" stroke="#000" stroke-width="1.1"/><path d="M366.5,598v1M366.5,608v1" stroke="#000" stroke-opacity="0.3" stroke-width="1" shape-rendering="crispEdges"/><circle cx="382.50" cy="592.40" r="4.15" fill="none" stroke="#000" stroke-width="1.1"/><path d="M382.5,587v1M382.5,597v1" stroke="#000" stroke-opacity="0.3" stroke-width="1" shape-rendering="crispEdges"/><circle cx="398.50" cy="595.40" r="4.15" fill="none" stroke="#000" stroke-width="1.1"/><path d="M398.5,590v1M398.5,600v1" stroke="#000" stroke-opacity="0.3" stroke-width="1" shape-rendering="crispEdges"/><circle cx="414.50" cy="608.40" r="4.15" fill="none" stroke="#000" stroke-width="1.1"/><path d="M414.5,603v1M414.5,613v1" stroke="#000" stroke-opacity="0.3" stroke-width="1" shape-rendering="crispEdges"/><circle cx="430.50" cy="597.40" r="4.15" fill="none" stroke="#000" stroke-width="1.1"/><path d="M430.5,592v1M430.5,602v1" stroke="#000" stroke-opacity="0.3" stroke-width="1" shape-rendering="crispEdges"/><circle cx="446.50" cy="594.40" r="4.15" fill="none" stroke="#000" stroke-width="1.1"/><path d="M446.5,589v1M446.5,599v1" stroke="#000" stroke-opacity="0.3" stroke-width="1" shape-rendering="crispEdges"/><circle cx="462.50" cy="595.40" r="4.15" fill="none" stroke="#000" stroke-width="1.1"/><path d="M462.5,590v1M462.5,600v1" stroke="#000" stroke-opacity="0.3" stroke-width="1" shape-rendering="crispEdges"/><circle cx="478.50" cy="603.40" r="4.15" fill="none" stroke="#000" stroke-width="1.1"/><path d="M478.5,598v1M478.5,608v1" stroke="#000" stroke-opacity="0.3" stroke-width="1" shape-rendering="crispEdges"/><circle cx="494.50" cy="598.40" r="4.15" fill="none" stroke="#000" stroke-width="1.1"/><path d="M494.5,593v1M494.5,603v1" stroke="#000" stroke-opacity="0.3" stroke-width="1" shape-rendering="crispEdges"/><circle cx="510.50" cy="588.40" r="4.15" fill="none" stroke="#000" stroke-width="1.1"/><path d="M510.5,583v1M510.5,593v1" stroke="#000" stroke-opacity="0.3" stroke-width="1" shape-rendering="crispEdges"/><circle cx="526.50" cy="590.40" r="4.15" fill="none" stroke="#000" stroke-width="1.1"/><path d="M526.5,585v1M526.5,595v1" stroke="#000" stroke-opacity="0.3" stroke-width="1" shape-rendering="crispEdges"/><circle cx="542.50" cy="599.40" r="4.15" fill="none" stroke="#000" stroke-width="1.1"/><path d="M542.5,594v1M542.5,604v1" stroke="#000" stroke-opacity="0.3" stroke-width="1" shape-rendering="crispEdges"/><circle cx="558.50" cy="601.40" r="4.15" fill="none" stroke="#000" stroke-width="1.1"/><path d="M558.5,596v1M558.5,606v1" stroke="#000" stroke-opacity="0.3" stroke-width="1" shape-rendering="crispEdges"/><circle cx="574.50" cy="584.40" r="4.15" fill="none" stroke="#000" stroke-width="1.1"/><path d="M574.5,579v1M574.5,589v1" stroke="#000" stroke-opacity="0.3" stroke-width="1" shape-rendering="crispEdges"/><circle cx="590.50" cy="588.40" r="4.15" fill="none" stroke="#000" stroke-width="1.1"/><path d="M590.5,583v1M590.5,593v1" stroke="#000" stroke-opacity="0.3" stroke-width="1" shape-rendering="crispEdges"/><circle cx="606.00" cy="593.40" r="4.15" fill="none" stroke="#000" stroke-width="1.1"/><path d="M606.5,588v1M606.5,598v1" stroke="#000" stroke-opacity="0.3" stroke-width="1" shape-rendering="crispEdges"/><circle cx="621.50" cy="584.40" r="4.15" fill="none" stroke="#000" stroke-width="1.1"/><path d="M621.5,579v1M621.5,589v1" stroke="#000" stroke-opacity="0.3" stroke-width="1" shape-rendering="crispEdges"/><circle cx="637.50" cy="583.40" r="4.15" fill="none" stroke="#000" stroke-width="1.1"/><path d="M637.5,578v1M637.5,588v1" stroke="#000" stroke-opacity="0.3" stroke-width="1" shape-rendering="crispEdges"/><circle cx="653.50" cy="577.40" r="4.15" fill="none" stroke="#000" stroke-width="1.1"/><path d="M653.5,572v1M653.5,582v1" stroke="#000" stroke-opacity="0.3" stroke-width="1" shape-rendering="crispEdges"/><circle cx="669.50" cy="595.40" r="4.15" fill="none" stroke="#000" stroke-width="1.1"/><path d="M669.5,590v1M669.5,600v1" stroke="#000" stroke-opacity="0.3" stroke-width="1" shape-rendering="crispEdges"/><circle cx="685.50" cy="591.40" r="4.15" fill="none" stroke="#000" stroke-width="1.1"/><path d="M685.5,586v1M685.5,596v1" stroke="#000" stroke-opacity="0.3" stroke-width="1" shape-rendering="crispEdges"/><circle cx="701.50" cy="584.40" r="4.15" fill="none" stroke="#000" stroke-width="1.1"/><path d="M701.5,579v1M701.5,589v1" stroke="#000" stroke-opacity="0.3" stroke-width="1" shape-rendering="crispEdges"/><circle cx="717.50" cy="587.40" r="4.15" fill="none" stroke="#000" stroke-width="1.1"/><path d="M717.5,582v1M717.5,592v1" stroke="#000" stroke-opacity="0.3" stroke-width="1" shape-rendering="crispEdges"/><circle cx="733.50" cy="601.40" r="4.15" fill="none" stroke="#000" stroke-width="1.1"/><path d="M733.5,596v1M733.5,606v1" stroke="#000" stroke-opacity="0.3" stroke-width="1" shape-rendering="crispEdges"/><circle cx="749.50" cy="589.40" r="4.15" fill="none" stroke="#000" stroke-width="1.1"/><path d="M749.5,584v1M749.5,594v1" stroke="#000" stroke-opacity="0.3" stroke-width="1" shape-rendering="crispEdges"/><circle cx="765.50" cy="581.40" r="4.15" fill="none" stroke="#000" stroke-width="1.1"/><path d="M765.5,576v1M765.5,586v1" stroke="#000" stroke-opacity="0.3" stroke-width="1" shape-rendering="crispEdges"/><circle cx="781.50" cy="582.40" r="4.15" fill="none" stroke="#000" stroke-width="1.1"/><path d="M781.5,577v1M781.5,587v1" stroke="#000" stroke-opacity="0.3" stroke-width="1" shape-rendering="crispEdges"/><circle cx="797.50" cy="596.40" r="4.15" fill="none" stroke="#000" stroke-width="1.1"/><path d="M797.5,591v1M797.5,601v1" stroke="#000" stroke-opacity="0.3" stroke-width="1" shape-rendering="crispEdges"/><circle cx="813.50" cy="593.40" r="4.15" fill="none" stroke="#000" stroke-width="1.1"/><path d="M813.5,588v1M813.5,598v1" stroke="#000" stroke-opacity="0.3" stroke-width="1" shape-rendering="crispEdges"/><circle cx="829.50" cy="589.40" r="4.15" fill="none" stroke="#000" stroke-width="1.1"/><path d="M829.5,584v1M829.5,594v1" stroke="#000" stroke-opacity="0.3" stroke-width="1" shape-rendering="crispEdges"/><circle cx="845.50" cy="587.40" r="4.15" fill="none" stroke="#000" stroke-width="1.1"/><path d="M845.5,582v1M845.5,592v1" stroke="#000" stroke-opacity="0.3" stroke-width="1" shape-rendering="crispEdges"/><circle cx="861.50" cy="612.40" r="4.15" fill="none" stroke="#000" stroke-width="1.1"/><path d="M861.5,607v1M861.5,617v1" stroke="#000" stroke-opacity="0.3" stroke-width="1" shape-rendering="crispEdges"/><circle cx="877.50" cy="628.40" r="4.15" fill="none" stroke="#000" stroke-width="1.1"/><path d="M877.5,623v1M877.5,633v1" stroke="#000" stroke-opacity="0.3" stroke-width="1" shape-rendering="crispEdges"/><circle cx="893.00" cy="627.40" r="4.15" fill="none" stroke="#000" stroke-width="1.1"/><path d="M893.5,622v1M893.5,632v1" stroke="#000" stroke-opacity="0.3" stroke-width="1" shape-rendering="crispEdges"/><circle cx="908.50" cy="629.40" r="4.15" fill="none" stroke="#000" stroke-width="1.1"/><path d="M908.5,624v1M908.5,634v1" stroke="#000" stroke-opacity="0.3" stroke-width="1" shape-rendering="crispEdges"/><circle cx="924.50" cy="644.40" r="4.15" fill="none" stroke="#000" stroke-width="1.1"/><path d="M924.5,639v1M924.5,649v1" stroke="#000" stroke-opacity="0.3" stroke-width="1" shape-rendering="crispEdges"/><circle cx="940.50" cy="635.40" r="4.15" fill="none" stroke="#000" stroke-width="1.1"/><path d="M940.5,630v1M940.5,640v1" stroke="#000" stroke-opacity="0.3" stroke-width="1" shape-rendering="crispEdges"/><circle cx="956.50" cy="623.40" r="4.15" fill="none" stroke="#000" stroke-width="1.1"/><path d="M956.5,618v1M956.5,628v1" stroke="#000" stroke-opacity="0.3" stroke-width="1" shape-rendering="crispEdges"/><circle cx="972.50" cy="625.40" r="4.15" fill="none" stroke="#000" stroke-width="1.1"/><path d="M972.5,620v1M972.5,630v1" stroke="#000" stroke-opacity="0.3" stroke-width="1" shape-rendering="crispEdges"/><circle cx="988.50" cy="636.40" r="4.15" fill="none" stroke="#000" stroke-width="1.1"/><path d="M988.5,631v1M988.5,641v1" stroke="#000" stroke-opacity="0.3" stroke-width="1" shape-rendering="crispEdges"/><circle cx="1004.50" cy="635.40" r="4.15" fill="none" stroke="#000" stroke-width="1.1"/><path d="M1004.5,630v1M1004.5,640v1" stroke="#000" stroke-opacity="0.3" stroke-width="1" shape-rendering="crispEdges"/><circle cx="1020.50" cy="643.40" r="4.15" fill="none" stroke="#000" stroke-width="1.1"/><path d="M1020.5,638v1M1020.5,648v1" stroke="#000" stroke-opacity="0.3" stroke-width="1" shape-rendering="crispEdges"/><circle cx="1036.50" cy="657.40" r="4.15" fill="none" stroke="#000" stroke-width="1.1"/><path d="M1036.5,652v1M1036.5,662v1" stroke="#000" stroke-opacity="0.3" stroke-width="1" shape-rendering="crispEdges"/><circle cx="1052.50" cy="671.40" r="4.15" fill="none" stroke="#000" stroke-width="1.1"/><path d="M1052.5,666v1M1052.5,676v1" stroke="#000" stroke-opacity="0.3" stroke-width="1" shape-rendering="crispEdges"/><circle cx="1068.50" cy="687.40" r="4.15" fill="none" stroke="#000" stroke-width="1.1"/><path d="M1068.5,682v1M1068.5,692v1" stroke="#000" stroke-opacity="0.3" stroke-width="1" shape-rendering="crispEdges"/></g>
<path d="M118.5,694H135V662H151V648H167V631H183V618H199V607H215V613H231V609H247V597H263V599H279V615H295V604H310V600H326V598H342V611H358V606H374V595H390V598H406V610H422V600H438V597H454V599H470V606H486V601H502V592H518V595H534V603H550V604H566V588H582V591H598V596H613V588H629V587H645V581H661V598H677V595H693V589H709V591H725V605H741V594H757V586H773V587H789V599H805V596H821V592H837V590H853V616H869V631H885V629H900V632H916V647H932V638H948V626H964V630H980V694H996V639H1012V645H1028V659H1044V671H1060V687H1076.5" fill="none" stroke="#009933" stroke-width="2" stroke-linejoin="miter" shape-rendering="crispEdges" clip-path="url(#c3)"/>
<g><rect x="139.5" y="658.5" width="8" height="8" fill="none" stroke="#000" stroke-width="1" shape-rendering="crispEdges"/><rect x="155.5" y="644.5" width="8" height="8" fill="none" stroke="#000" stroke-width="1" shape-rendering="crispEdges"/><rect x="171.5" y="627.5" width="8" height="8" fill="none" stroke="#000" stroke-width="1" shape-rendering="crispEdges"/><rect x="187.5" y="614.5" width="8" height="8" fill="none" stroke="#000" stroke-width="1" shape-rendering="crispEdges"/><rect x="203.5" y="603.5" width="8" height="8" fill="none" stroke="#000" stroke-width="1" shape-rendering="crispEdges"/><rect x="219.5" y="609.5" width="8" height="8" fill="none" stroke="#000" stroke-width="1" shape-rendering="crispEdges"/><rect x="235.5" y="605.5" width="8" height="8" fill="none" stroke="#000" stroke-width="1" shape-rendering="crispEdges"/><rect x="251.5" y="593.5" width="8" height="8" fill="none" stroke="#000" stroke-width="1" shape-rendering="crispEdges"/><rect x="267.5" y="595.5" width="8" height="8" fill="none" stroke="#000" stroke-width="1" shape-rendering="crispEdges"/><rect x="283.5" y="611.5" width="8" height="8" fill="none" stroke="#000" stroke-width="1" shape-rendering="crispEdges"/><rect x="299.5" y="600.5" width="8" height="8" fill="none" stroke="#000" stroke-width="1" shape-rendering="crispEdges"/><rect x="314.5" y="596.5" width="8" height="8" fill="none" stroke="#000" stroke-width="1" shape-rendering="crispEdges"/><rect x="330.5" y="594.5" width="8" height="8" fill="none" stroke="#000" stroke-width="1" shape-rendering="crispEdges"/><rect x="346.5" y="607.5" width="8" height="8" fill="none" stroke="#000" stroke-width="1" shape-rendering="crispEdges"/><rect x="362.5" y="602.5" width="8" height="8" fill="none" stroke="#000" stroke-width="1" shape-rendering="crispEdges"/><rect x="378.5" y="591.5" width="8" height="8" fill="none" stroke="#000" stroke-width="1" shape-rendering="crispEdges"/><rect x="394.5" y="594.5" width="8" height="8" fill="none" stroke="#000" stroke-width="1" shape-rendering="crispEdges"/><rect x="410.5" y="606.5" width="8" height="8" fill="none" stroke="#000" stroke-width="1" shape-rendering="crispEdges"/><rect x="426.5" y="596.5" width="8" height="8" fill="none" stroke="#000" stroke-width="1" shape-rendering="crispEdges"/><rect x="442.5" y="593.5" width="8" height="8" fill="none" stroke="#000" stroke-width="1" shape-rendering="crispEdges"/><rect x="458.5" y="595.5" width="8" height="8" fill="none" stroke="#000" stroke-width="1" shape-rendering="crispEdges"/><rect x="474.5" y="602.5" width="8" height="8" fill="none" stroke="#000" stroke-width="1" shape-rendering="crispEdges"/><rect x="490.5" y="597.5" width="8" height="8" fill="none" stroke="#000" stroke-width="1" shape-rendering="crispEdges"/><rect x="506.5" y="588.5" width="8" height="8" fill="none" stroke="#000" stroke-width="1" shape-rendering="crispEdges"/><rect x="522.5" y="591.5" width="8" height="8" fill="none" stroke="#000" stroke-width="1" shape-rendering="crispEdges"/><rect x="538.5" y="599.5" width="8" height="8" fill="none" stroke="#000" stroke-width="1" shape-rendering="crispEdges"/><rect x="554.5" y="600.5" width="8" height="8" fill="none" stroke="#000" stroke-width="1" shape-rendering="crispEdges"/><rect x="570.5" y="584.5" width="8" height="8" fill="none" stroke="#000" stroke-width="1" shape-rendering="crispEdges"/><rect x="586.5" y="587.5" width="8" height="8" fill="none" stroke="#000" stroke-width="1" shape-rendering="crispEdges"/><rect x="602.5" y="592.5" width="8" height="8" fill="none" stroke="#000" stroke-width="1" shape-rendering="crispEdges"/><rect x="617.5" y="584.5" width="8" height="8" fill="none" stroke="#000" stroke-width="1" shape-rendering="crispEdges"/><rect x="633.5" y="583.5" width="8" height="8" fill="none" stroke="#000" stroke-width="1" shape-rendering="crispEdges"/><rect x="649.5" y="577.5" width="8" height="8" fill="none" stroke="#000" stroke-width="1" shape-rendering="crispEdges"/><rect x="665.5" y="594.5" width="8" height="8" fill="none" stroke="#000" stroke-width="1" shape-rendering="crispEdges"/><rect x="681.5" y="591.5" width="8" height="8" fill="none" stroke="#000" stroke-width="1" shape-rendering="crispEdges"/><rect x="697.5" y="585.5" width="8" height="8" fill="none" stroke="#000" stroke-width="1" shape-rendering="crispEdges"/><rect x="713.5" y="587.5" width="8" height="8" fill="none" stroke="#000" stroke-width="1" shape-rendering="crispEdges"/><rect x="729.5" y="601.5" width="8" height="8" fill="none" stroke="#000" stroke-width="1" shape-rendering="crispEdges"/><rect x="745.5" y="590.5" width="8" height="8" fill="none" stroke="#000" stroke-width="1" shape-rendering="crispEdges"/><rect x="761.5" y="582.5" width="8" height="8" fill="none" stroke="#000" stroke-width="1" shape-rendering="crispEdges"/><rect x="777.5" y="583.5" width="8" height="8" fill="none" stroke="#000" stroke-width="1" shape-rendering="crispEdges"/><rect x="793.5" y="595.5" width="8" height="8" fill="none" stroke="#000" stroke-width="1" shape-rendering="crispEdges"/><rect x="809.5" y="592.5" width="8" height="8" fill="none" stroke="#000" stroke-width="1" shape-rendering="crispEdges"/><rect x="825.5" y="588.5" width="8" height="8" fill="none" stroke="#000" stroke-width="1" shape-rendering="crispEdges"/><rect x="841.5" y="586.5" width="8" height="8" fill="none" stroke="#000" stroke-width="1" shape-rendering="crispEdges"/><rect x="857.5" y="612.5" width="8" height="8" fill="none" stroke="#000" stroke-width="1" shape-rendering="crispEdges"/><rect x="873.5" y="627.5" width="8" height="8" fill="none" stroke="#000" stroke-width="1" shape-rendering="crispEdges"/><rect x="889.5" y="625.5" width="8" height="8" fill="none" stroke="#000" stroke-width="1" shape-rendering="crispEdges"/><rect x="904.5" y="628.5" width="8" height="8" fill="none" stroke="#000" stroke-width="1" shape-rendering="crispEdges"/><rect x="920.5" y="643.5" width="8" height="8" fill="none" stroke="#000" stroke-width="1" shape-rendering="crispEdges"/><rect x="936.5" y="634.5" width="8" height="8" fill="none" stroke="#000" stroke-width="1" shape-rendering="crispEdges"/><rect x="952.5" y="622.5" width="8" height="8" fill="none" stroke="#000" stroke-width="1" shape-rendering="crispEdges"/><rect x="968.5" y="626.5" width="8" height="8" fill="none" stroke="#000" stroke-width="1" shape-rendering="crispEdges"/><rect x="1000.5" y="635.5" width="8" height="8" fill="none" stroke="#000" stroke-width="1" shape-rendering="crispEdges"/><rect x="1016.5" y="641.5" width="8" height="8" fill="none" stroke="#000" stroke-width="1" shape-rendering="crispEdges"/><rect x="1032.5" y="655.5" width="8" height="8" fill="none" stroke="#000" stroke-width="1" shape-rendering="crispEdges"/><rect x="1048.5" y="667.5" width="8" height="8" fill="none" stroke="#000" stroke-width="1" shape-rendering="crispEdges"/><rect x="1064.5" y="683.5" width="8" height="8" fill="none" stroke="#000" stroke-width="1" shape-rendering="crispEdges"/></g>
<path d="M118.5,694H135V665H151V650H167V634H183V621H199V610H215V617H231V613H247V601H263V603H279V618H295V606H310V604H326V602H342V614H358V609H374V600H390V603H406V613H422V603H438V601H454V603H470V609H486V605H502V594H518V598H534V607H550V608H566V592H582V596H598V600H613V592H629V592H645V584H661V602H677V598H693V593H709V594H725V607H741V598H757V590H773V590H789V603H805V599H821V597H837V593H853V619H869V633H885V632H900V635H916V649H932V641H948V629H964V633H980V694H996V641H1012V646H1028V660H1044V673H1060V688H1076.5" fill="none" stroke="#6600cc" stroke-width="2" stroke-linejoin="miter" shape-rendering="crispEdges" clip-path="url(#c3)"/>
<g><path d="M143,661h1v1h-1zM142,662h1v1h-1zM144,662h1v1h-1zM142,663h1v1h-1zM144,663h1v1h-1zM141,664h1v1h-1zM145,664h1v1h-1zM141,665h1v1h-1zM145,665h1v1h-1zM140,666h1v1h-1zM146,666h1v1h-1zM140,667h1v1h-1zM146,667h1v1h-1zM139,668h1v1h-1zM147,668h1v1h-1zM139,669h9v1h-9z" fill="#000" shape-rendering="crispEdges"/><path d="M159,646h1v1h-1zM158,647h1v1h-1zM160,647h1v1h-1zM158,648h1v1h-1zM160,648h1v1h-1zM157,649h1v1h-1zM161,649h1v1h-1zM157,650h1v1h-1zM161,650h1v1h-1zM156,651h1v1h-1zM162,651h1v1h-1zM156,652h1v1h-1zM162,652h1v1h-1zM155,653h1v1h-1zM163,653h1v1h-1zM155,654h9v1h-9z" fill="#000" shape-rendering="crispEdges"/><path d="M175,630h1v1h-1zM174,631h1v1h-1zM176,631h1v1h-1zM174,632h1v1h-1zM176,632h1v1h-1zM173,633h1v1h-1zM177,633h1v1h-1zM173,634h1v1h-1zM177,634h1v1h-1zM172,635h1v1h-1zM178,635h1v1h-1zM172,636h1v1h-1zM178,636h1v1h-1zM171,637h1v1h-1zM179,637h1v1h-1zM171,638h9v1h-9z" fill="#000" shape-rendering="crispEdges"/><path d="M191,617h1v1h-1zM190,618h1v1h-1zM192,618h1v1h-1zM190,619h1v1h-1zM192,619h1v1h-1zM189,620h1v1h-1zM193,620h1v1h-1zM189,621h1v1h-1zM193,621h1v1h-1zM188,622h1v1h-1zM194,622h1v1h-1zM188,623h1v1h-1zM194,623h1v1h-1zM187,624h1v1h-1zM195,624h1v1h-1zM187,625h9v1h-9z" fill="#000" shape-rendering="crispEdges"/><path d="M207,606h1v1h-1zM206,607h1v1h-1zM208,607h1v1h-1zM206,608h1v1h-1zM208,608h1v1h-1zM205,609h1v1h-1zM209,609h1v1h-1zM205,610h1v1h-1zM209,610h1v1h-1zM204,611h1v1h-1zM210,611h1v1h-1zM204,612h1v1h-1zM210,612h1v1h-1zM203,613h1v1h-1zM211,613h1v1h-1zM203,614h9v1h-9z" fill="#000" shape-rendering="crispEdges"/><path d="M223,613h1v1h-1zM222,614h1v1h-1zM224,614h1v1h-1zM222,615h1v1h-1zM224,615h1v1h-1zM221,616h1v1h-1zM225,616h1v1h-1zM221,617h1v1h-1zM225,617h1v1h-1zM220,618h1v1h-1zM226,618h1v1h-1zM220,619h1v1h-1zM226,619h1v1h-1zM219,620h1v1h-1zM227,620h1v1h-1zM219,621h9v1h-9z" fill="#000" shape-rendering="crispEdges"/><path d="M239,609h1v1h-1zM238,610h1v1h-1zM240,610h1v1h-1zM238,611h1v1h-1zM240,611h1v1h-1zM237,612h1v1h-1zM241,612h1v1h-1zM237,613h1v1h-1zM241,613h1v1h-1zM236,614h1v1h-1zM242,614h1v1h-1zM236,615h1v1h-1zM242,615h1v1h-1zM235,616h1v1h-1zM243,616h1v1h-1zM235,617h9v1h-9z" fill="#000" shape-rendering="crispEdges"/><path d="M255,597h1v1h-1zM254,598h1v1h-1zM256,598h1v1h-1zM254,599h1v1h-1zM256,599h1v1h-1zM253,600h1v1h-1zM257,600h1v1h-1zM253,601h1v1h-1zM257,601h1v1h-1zM252,602h1v1h-1zM258,602h1v1h-1zM252,603h1v1h-1zM258,603h1v1h-1zM251,604h1v1h-1zM259,604h1v1h-1zM251,605h9v1h-9z" fill="#000" shape-rendering="crispEdges"/><path d="M271,599h1v1h-1zM270,600h1v1h-1zM272,600h1v1h-1zM270,601h1v1h-1zM272,601h1v1h-1zM269,602h1v1h-1zM273,602h1v1h-1zM269,603h1v1h-1zM273,603h1v1h-1zM268,604h1v1h-1zM274,604h1v1h-1zM268,605h1v1h-1zM274,605h1v1h-1zM267,606h1v1h-1zM275,606h1v1h-1zM267,607h9v1h-9z" fill="#000" shape-rendering="crispEdges"/><path d="M287,614h1v1h-1zM286,615h1v1h-1zM288,615h1v1h-1zM286,616h1v1h-1zM288,616h1v1h-1zM285,617h1v1h-1zM289,617h1v1h-1zM285,618h1v1h-1zM289,618h1v1h-1zM284,619h1v1h-1zM290,619h1v1h-1zM284,620h1v1h-1zM290,620h1v1h-1zM283,621h1v1h-1zM291,621h1v1h-1zM283,622h9v1h-9z" fill="#000" shape-rendering="crispEdges"/><path d="M303,602h1v1h-1zM302,603h1v1h-1zM304,603h1v1h-1zM302,604h1v1h-1zM304,604h1v1h-1zM301,605h1v1h-1zM305,605h1v1h-1zM301,606h1v1h-1zM305,606h1v1h-1zM300,607h1v1h-1zM306,607h1v1h-1zM300,608h1v1h-1zM306,608h1v1h-1zM299,609h1v1h-1zM307,609h1v1h-1zM299,610h9v1h-9z" fill="#000" shape-rendering="crispEdges"/><path d="M318,600h1v1h-1zM317,601h1v1h-1zM319,601h1v1h-1zM317,602h1v1h-1zM319,602h1v1h-1zM316,603h1v1h-1zM320,603h1v1h-1zM316,604h1v1h-1zM320,604h1v1h-1zM315,605h1v1h-1zM321,605h1v1h-1zM315,606h1v1h-1zM321,606h1v1h-1zM314,607h1v1h-1zM322,607h1v1h-1zM314,608h9v1h-9z" fill="#000" shape-rendering="crispEdges"/><path d="M334,598h1v1h-1zM333,599h1v1h-1zM335,599h1v1h-1zM333,600h1v1h-1zM335,600h1v1h-1zM332,601h1v1h-1zM336,601h1v1h-1zM332,602h1v1h-1zM336,602h1v1h-1zM331,603h1v1h-1zM337,603h1v1h-1zM331,604h1v1h-1zM337,604h1v1h-1zM330,605h1v1h-1zM338,605h1v1h-1zM330,606h9v1h-9z" fill="#000" shape-rendering="crispEdges"/><path d="M350,610h1v1h-1zM349,611h1v1h-1zM351,611h1v1h-1zM349,612h1v1h-1zM351,612h1v1h-1zM348,613h1v1h-1zM352,613h1v1h-1zM348,614h1v1h-1zM352,614h1v1h-1zM347,615h1v1h-1zM353,615h1v1h-1zM347,616h1v1h-1zM353,616h1v1h-1zM346,617h1v1h-1zM354,617h1v1h-1zM346,618h9v1h-9z" fill="#000" shape-rendering="crispEdges"/><path d="M366,605h1v1h-1zM365,606h1v1h-1zM367,606h1v1h-1zM365,607h1v1h-1zM367,607h1v1h-1zM364,608h1v1h-1zM368,608h1v1h-1zM364,609h1v1h-1zM368,609h1v1h-1zM363,610h1v1h-1zM369,610h1v1h-1zM363,611h1v1h-1zM369,611h1v1h-1zM362,612h1v1h-1zM370,612h1v1h-1zM362,613h9v1h-9z" fill="#000" shape-rendering="crispEdges"/><path d="M382,596h1v1h-1zM381,597h1v1h-1zM383,597h1v1h-1zM381,598h1v1h-1zM383,598h1v1h-1zM380,599h1v1h-1zM384,599h1v1h-1zM380,600h1v1h-1zM384,600h1v1h-1zM379,601h1v1h-1zM385,601h1v1h-1zM379,602h1v1h-1zM385,602h1v1h-1zM378,603h1v1h-1zM386,603h1v1h-1zM378,604h9v1h-9z" fill="#000" shape-rendering="crispEdges"/><path d="M398,599h1v1h-1zM397,600h1v1h-1zM399,600h1v1h-1zM397,601h1v1h-1zM399,601h1v1h-1zM396,602h1v1h-1zM400,602h1v1h-1zM396,603h1v1h-1zM400,603h1v1h-1zM395,604h1v1h-1zM401,604h1v1h-1zM395,605h1v1h-1zM401,605h1v1h-1zM394,606h1v1h-1zM402,606h1v1h-1zM394,607h9v1h-9z" fill="#000" shape-rendering="crispEdges"/><path d="M414,609h1v1h-1zM413,610h1v1h-1zM415,610h1v1h-1zM413,611h1v1h-1zM415,611h1v1h-1zM412,612h1v1h-1zM416,612h1v1h-1zM412,613h1v1h-1zM416,613h1v1h-1zM411,614h1v1h-1zM417,614h1v1h-1zM411,615h1v1h-1zM417,615h1v1h-1zM410,616h1v1h-1zM418,616h1v1h-1zM410,617h9v1h-9z" fill="#000" shape-rendering="crispEdges"/><path d="M430,599h1v1h-1zM429,600h1v1h-1zM431,600h1v1h-1zM429,601h1v1h-1zM431,601h1v1h-1zM428,602h1v1h-1zM432,602h1v1h-1zM428,603h1v1h-1zM432,603h1v1h-1zM427,604h1v1h-1zM433,604h1v1h-1zM427,605h1v1h-1zM433,605h1v1h-1zM426,606h1v1h-1zM434,606h1v1h-1zM426,607h9v1h-9z" fill="#000" shape-rendering="crispEdges"/><path d="M446,597h1v1h-1zM445,598h1v1h-1zM447,598h1v1h-1zM445,599h1v1h-1zM447,599h1v1h-1zM444,600h1v1h-1zM448,600h1v1h-1zM444,601h1v1h-1zM448,601h1v1h-1zM443,602h1v1h-1zM449,602h1v1h-1zM443,603h1v1h-1zM449,603h1v1h-1zM442,604h1v1h-1zM450,604h1v1h-1zM442,605h9v1h-9z" fill="#000" shape-rendering="crispEdges"/><path d="M462,599h1v1h-1zM461,600h1v1h-1zM463,600h1v1h-1zM461,601h1v1h-1zM463,601h1v1h-1zM460,602h1v1h-1zM464,602h1v1h-1zM460,603h1v1h-1zM464,603h1v1h-1zM459,604h1v1h-1zM465,604h1v1h-1zM459,605h1v1h-1zM465,605h1v1h-1zM458,606h1v1h-1zM466,606h1v1h-1zM458,607h9v1h-9z" fill="#000" shape-rendering="crispEdges"/><path d="M478,605h1v1h-1zM477,606h1v1h-1zM479,606h1v1h-1zM477,607h1v1h-1zM479,607h1v1h-1zM476,608h1v1h-1zM480,608h1v1h-1zM476,609h1v1h-1zM480,609h1v1h-1zM475,610h1v1h-1zM481,610h1v1h-1zM475,611h1v1h-1zM481,611h1v1h-1zM474,612h1v1h-1zM482,612h1v1h-1zM474,613h9v1h-9z" fill="#000" shape-rendering="crispEdges"/><path d="M494,601h1v1h-1zM493,602h1v1h-1zM495,602h1v1h-1zM493,603h1v1h-1zM495,603h1v1h-1zM492,604h1v1h-1zM496,604h1v1h-1zM492,605h1v1h-1zM496,605h1v1h-1zM491,606h1v1h-1zM497,606h1v1h-1zM491,607h1v1h-1zM497,607h1v1h-1zM490,608h1v1h-1zM498,608h1v1h-1zM490,609h9v1h-9z" fill="#000" shape-rendering="crispEdges"/><path d="M510,590h1v1h-1zM509,591h1v1h-1zM511,591h1v1h-1zM509,592h1v1h-1zM511,592h1v1h-1zM508,593h1v1h-1zM512,593h1v1h-1zM508,594h1v1h-1zM512,594h1v1h-1zM507,595h1v1h-1zM513,595h1v1h-1zM507,596h1v1h-1zM513,596h1v1h-1zM506,597h1v1h-1zM514,597h1v1h-1zM506,598h9v1h-9z" fill="#000" shape-rendering="crispEdges"/><path d="M526,594h1v1h-1zM525,595h1v1h-1zM527,595h1v1h-1zM525,596h1v1h-1zM527,596h1v1h-1zM524,597h1v1h-1zM528,597h1v1h-1zM524,598h1v1h-1zM528,598h1v1h-1zM523,599h1v1h-1zM529,599h1v1h-1zM523,600h1v1h-1zM529,600h1v1h-1zM522,601h1v1h-1zM530,601h1v1h-1zM522,602h9v1h-9z" fill="#000" shape-rendering="crispEdges"/><path d="M542,603h1v1h-1zM541,604h1v1h-1zM543,604h1v1h-1zM541,605h1v1h-1zM543,605h1v1h-1zM540,606h1v1h-1zM544,606h1v1h-1zM540,607h1v1h-1zM544,607h1v1h-1zM539,608h1v1h-1zM545,608h1v1h-1zM539,609h1v1h-1zM545,609h1v1h-1zM538,610h1v1h-1zM546,610h1v1h-1zM538,611h9v1h-9z" fill="#000" shape-rendering="crispEdges"/><path d="M558,604h1v1h-1zM557,605h1v1h-1zM559,605h1v1h-1zM557,606h1v1h-1zM559,606h1v1h-1zM556,607h1v1h-1zM560,607h1v1h-1zM556,608h1v1h-1zM560,608h1v1h-1zM555,609h1v1h-1zM561,609h1v1h-1zM555,610h1v1h-1zM561,610h1v1h-1zM554,611h1v1h-1zM562,611h1v1h-1zM554,612h9v1h-9z" fill="#000" shape-rendering="crispEdges"/><path d="M574,588h1v1h-1zM573,589h1v1h-1zM575,589h1v1h-1zM573,590h1v1h-1zM575,590h1v1h-1zM572,591h1v1h-1zM576,591h1v1h-1zM572,592h1v1h-1zM576,592h1v1h-1zM571,593h1v1h-1zM577,593h1v1h-1zM571,594h1v1h-1zM577,594h1v1h-1zM570,595h1v1h-1zM578,595h1v1h-1zM570,596h9v1h-9z" fill="#000" shape-rendering="crispEdges"/><path d="M590,592h1v1h-1zM589,593h1v1h-1zM591,593h1v1h-1zM589,594h1v1h-1zM591,594h1v1h-1zM588,595h1v1h-1zM592,595h1v1h-1zM588,596h1v1h-1zM592,596h1v1h-1zM587,597h1v1h-1zM593,597h1v1h-1zM587,598h1v1h-1zM593,598h1v1h-1zM586,599h1v1h-1zM594,599h1v1h-1zM586,600h9v1h-9z" fill="#000" shape-rendering="crispEdges"/><path d="M606,596h1v1h-1zM605,597h1v1h-1zM607,597h1v1h-1zM605,598h1v1h-1zM607,598h1v1h-1zM604,599h1v1h-1zM608,599h1v1h-1zM604,600h1v1h-1zM608,600h1v1h-1zM603,601h1v1h-1zM609,601h1v1h-1zM603,602h1v1h-1zM609,602h1v1h-1zM602,603h1v1h-1zM610,603h1v1h-1zM602,604h9v1h-9z" fill="#000" shape-rendering="crispEdges"/><path d="M621,588h1v1h-1zM620,589h1v1h-1zM622,589h1v1h-1zM620,590h1v1h-1zM622,590h1v1h-1zM619,591h1v1h-1zM623,591h1v1h-1zM619,592h1v1h-1zM623,592h1v1h-1zM618,593h1v1h-1zM624,593h1v1h-1zM618,594h1v1h-1zM624,594h1v1h-1zM617,595h1v1h-1zM625,595h1v1h-1zM617,596h9v1h-9z" fill="#000" shape-rendering="crispEdges"/><path d="M637,588h1v1h-1zM636,589h1v1h-1zM638,589h1v1h-1zM636,590h1v1h-1zM638,590h1v1h-1zM635,591h1v1h-1zM639,591h1v1h-1zM635,592h1v1h-1zM639,592h1v1h-1zM634,593h1v1h-1zM640,593h1v1h-1zM634,594h1v1h-1zM640,594h1v1h-1zM633,595h1v1h-1zM641,595h1v1h-1zM633,596h9v1h-9z" fill="#000" shape-rendering="crispEdges"/><path d="M653,580h1v1h-1zM652,581h1v1h-1zM654,581h1v1h-1zM652,582h1v1h-1zM654,582h1v1h-1zM651,583h1v1h-1zM655,583h1v1h-1zM651,584h1v1h-1zM655,584h1v1h-1zM650,585h1v1h-1zM656,585h1v1h-1zM650,586h1v1h-1zM656,586h1v1h-1zM649,587h1v1h-1zM657,587h1v1h-1zM649,588h9v1h-9z" fill="#000" shape-rendering="crispEdges"/><path d="M669,598h1v1h-1zM668,599h1v1h-1zM670,599h1v1h-1zM668,600h1v1h-1zM670,600h1v1h-1zM667,601h1v1h-1zM671,601h1v1h-1zM667,602h1v1h-1zM671,602h1v1h-1zM666,603h1v1h-1zM672,603h1v1h-1zM666,604h1v1h-1zM672,604h1v1h-1zM665,605h1v1h-1zM673,605h1v1h-1zM665,606h9v1h-9z" fill="#000" shape-rendering="crispEdges"/><path d="M685,594h1v1h-1zM684,595h1v1h-1zM686,595h1v1h-1zM684,596h1v1h-1zM686,596h1v1h-1zM683,597h1v1h-1zM687,597h1v1h-1zM683,598h1v1h-1zM687,598h1v1h-1zM682,599h1v1h-1zM688,599h1v1h-1zM682,600h1v1h-1zM688,600h1v1h-1zM681,601h1v1h-1zM689,601h1v1h-1zM681,602h9v1h-9z" fill="#000" shape-rendering="crispEdges"/><path d="M701,589h1v1h-1zM700,590h1v1h-1zM702,590h1v1h-1zM700,591h1v1h-1zM702,591h1v1h-1zM699,592h1v1h-1zM703,592h1v1h-1zM699,593h1v1h-1zM703,593h1v1h-1zM698,594h1v1h-1zM704,594h1v1h-1zM698,595h1v1h-1zM704,595h1v1h-1zM697,596h1v1h-1zM705,596h1v1h-1zM697,597h9v1h-9z" fill="#000" shape-rendering="crispEdges"/><path d="M717,590h1v1h-1zM716,591h1v1h-1zM718,591h1v1h-1zM716,592h1v1h-1zM718,592h1v1h-1zM715,593h1v1h-1zM719,593h1v1h-1zM715,594h1v1h-1zM719,594h1v1h-1zM714,595h1v1h-1zM720,595h1v1h-1zM714,596h1v1h-1zM720,596h1v1h-1zM713,597h1v1h-1zM721,597h1v1h-1zM713,598h9v1h-9z" fill="#000" shape-rendering="crispEdges"/><path d="M733,603h1v1h-1zM732,604h1v1h-1zM734,604h1v1h-1zM732,605h1v1h-1zM734,605h1v1h-1zM731,606h1v1h-1zM735,606h1v1h-1zM731,607h1v1h-1zM735,607h1v1h-1zM730,608h1v1h-1zM736,608h1v1h-1zM730,609h1v1h-1zM736,609h1v1h-1zM729,610h1v1h-1zM737,610h1v1h-1zM729,611h9v1h-9z" fill="#000" shape-rendering="crispEdges"/><path d="M749,594h1v1h-1zM748,595h1v1h-1zM750,595h1v1h-1zM748,596h1v1h-1zM750,596h1v1h-1zM747,597h1v1h-1zM751,597h1v1h-1zM747,598h1v1h-1zM751,598h1v1h-1zM746,599h1v1h-1zM752,599h1v1h-1zM746,600h1v1h-1zM752,600h1v1h-1zM745,601h1v1h-1zM753,601h1v1h-1zM745,602h9v1h-9z" fill="#000" shape-rendering="crispEdges"/><path d="M765,586h1v1h-1zM764,587h1v1h-1zM766,587h1v1h-1zM764,588h1v1h-1zM766,588h1v1h-1zM763,589h1v1h-1zM767,589h1v1h-1zM763,590h1v1h-1zM767,590h1v1h-1zM762,591h1v1h-1zM768,591h1v1h-1zM762,592h1v1h-1zM768,592h1v1h-1zM761,593h1v1h-1zM769,593h1v1h-1zM761,594h9v1h-9z" fill="#000" shape-rendering="crispEdges"/><path d="M781,586h1v1h-1zM780,587h1v1h-1zM782,587h1v1h-1zM780,588h1v1h-1zM782,588h1v1h-1zM779,589h1v1h-1zM783,589h1v1h-1zM779,590h1v1h-1zM783,590h1v1h-1zM778,591h1v1h-1zM784,591h1v1h-1zM778,592h1v1h-1zM784,592h1v1h-1zM777,593h1v1h-1zM785,593h1v1h-1zM777,594h9v1h-9z" fill="#000" shape-rendering="crispEdges"/><path d="M797,599h1v1h-1zM796,600h1v1h-1zM798,600h1v1h-1zM796,601h1v1h-1zM798,601h1v1h-1zM795,602h1v1h-1zM799,602h1v1h-1zM795,603h1v1h-1zM799,603h1v1h-1zM794,604h1v1h-1zM800,604h1v1h-1zM794,605h1v1h-1zM800,605h1v1h-1zM793,606h1v1h-1zM801,606h1v1h-1zM793,607h9v1h-9z" fill="#000" shape-rendering="crispEdges"/><path d="M813,595h1v1h-1zM812,596h1v1h-1zM814,596h1v1h-1zM812,597h1v1h-1zM814,597h1v1h-1zM811,598h1v1h-1zM815,598h1v1h-1zM811,599h1v1h-1zM815,599h1v1h-1zM810,600h1v1h-1zM816,600h1v1h-1zM810,601h1v1h-1zM816,601h1v1h-1zM809,602h1v1h-1zM817,602h1v1h-1zM809,603h9v1h-9z" fill="#000" shape-rendering="crispEdges"/><path d="M829,593h1v1h-1zM828,594h1v1h-1zM830,594h1v1h-1zM828,595h1v1h-1zM830,595h1v1h-1zM827,596h1v1h-1zM831,596h1v1h-1zM827,597h1v1h-1zM831,597h1v1h-1zM826,598h1v1h-1zM832,598h1v1h-1zM826,599h1v1h-1zM832,599h1v1h-1zM825,600h1v1h-1zM833,600h1v1h-1zM825,601h9v1h-9z" fill="#000" shape-rendering="crispEdges"/><path d="M845,589h1v1h-1zM844,590h1v1h-1zM846,590h1v1h-1zM844,591h1v1h-1zM846,591h1v1h-1zM843,592h1v1h-1zM847,592h1v1h-1zM843,593h1v1h-1zM847,593h1v1h-1zM842,594h1v1h-1zM848,594h1v1h-1zM842,595h1v1h-1zM848,595h1v1h-1zM841,596h1v1h-1zM849,596h1v1h-1zM841,597h9v1h-9z" fill="#000" shape-rendering="crispEdges"/><path d="M861,615h1v1h-1zM860,616h1v1h-1zM862,616h1v1h-1zM860,617h1v1h-1zM862,617h1v1h-1zM859,618h1v1h-1zM863,618h1v1h-1zM859,619h1v1h-1zM863,619h1v1h-1zM858,620h1v1h-1zM864,620h1v1h-1zM858,621h1v1h-1zM864,621h1v1h-1zM857,622h1v1h-1zM865,622h1v1h-1zM857,623h9v1h-9z" fill="#000" shape-rendering="crispEdges"/><path d="M877,629h1v1h-1zM876,630h1v1h-1zM878,630h1v1h-1zM876,631h1v1h-1zM878,631h1v1h-1zM875,632h1v1h-1zM879,632h1v1h-1zM875,633h1v1h-1zM879,633h1v1h-1zM874,634h1v1h-1zM880,634h1v1h-1zM874,635h1v1h-1zM880,635h1v1h-1zM873,636h1v1h-1zM881,636h1v1h-1zM873,637h9v1h-9z" fill="#000" shape-rendering="crispEdges"/><path d="M893,628h1v1h-1zM892,629h1v1h-1zM894,629h1v1h-1zM892,630h1v1h-1zM894,630h1v1h-1zM891,631h1v1h-1zM895,631h1v1h-1zM891,632h1v1h-1zM895,632h1v1h-1zM890,633h1v1h-1zM896,633h1v1h-1zM890,634h1v1h-1zM896,634h1v1h-1zM889,635h1v1h-1zM897,635h1v1h-1zM889,636h9v1h-9z" fill="#000" shape-rendering="crispEdges"/><path d="M908,631h1v1h-1zM907,632h1v1h-1zM909,632h1v1h-1zM907,633h1v1h-1zM909,633h1v1h-1zM906,634h1v1h-1zM910,634h1v1h-1zM906,635h1v1h-1zM910,635h1v1h-1zM905,636h1v1h-1zM911,636h1v1h-1zM905,637h1v1h-1zM911,637h1v1h-1zM904,638h1v1h-1zM912,638h1v1h-1zM904,639h9v1h-9z" fill="#000" shape-rendering="crispEdges"/><path d="M924,645h1v1h-1zM923,646h1v1h-1zM925,646h1v1h-1zM923,647h1v1h-1zM925,647h1v1h-1zM922,648h1v1h-1zM926,648h1v1h-1zM922,649h1v1h-1zM926,649h1v1h-1zM921,650h1v1h-1zM927,650h1v1h-1zM921,651h1v1h-1zM927,651h1v1h-1zM920,652h1v1h-1zM928,652h1v1h-1zM920,653h9v1h-9z" fill="#000" shape-rendering="crispEdges"/><path d="M940,637h1v1h-1zM939,638h1v1h-1zM941,638h1v1h-1zM939,639h1v1h-1zM941,639h1v1h-1zM938,640h1v1h-1zM942,640h1v1h-1zM938,641h1v1h-1zM942,641h1v1h-1zM937,642h1v1h-1zM943,642h1v1h-1zM937,643h1v1h-1zM943,643h1v1h-1zM936,644h1v1h-1zM944,644h1v1h-1zM936,645h9v1h-9z" fill="#000" shape-rendering="crispEdges"/><path d="M956,625h1v1h-1zM955,626h1v1h-1zM957,626h1v1h-1zM955,627h1v1h-1zM957,627h1v1h-1zM954,628h1v1h-1zM958,628h1v1h-1zM954,629h1v1h-1zM958,629h1v1h-1zM953,630h1v1h-1zM959,630h1v1h-1zM953,631h1v1h-1zM959,631h1v1h-1zM952,632h1v1h-1zM960,632h1v1h-1zM952,633h9v1h-9z" fill="#000" shape-rendering="crispEdges"/><path d="M972,629h1v1h-1zM971,630h1v1h-1zM973,630h1v1h-1zM971,631h1v1h-1zM973,631h1v1h-1zM970,632h1v1h-1zM974,632h1v1h-1zM970,633h1v1h-1zM974,633h1v1h-1zM969,634h1v1h-1zM975,634h1v1h-1zM969,635h1v1h-1zM975,635h1v1h-1zM968,636h1v1h-1zM976,636h1v1h-1zM968,637h9v1h-9z" fill="#000" shape-rendering="crispEdges"/><path d="M1004,637h1v1h-1zM1003,638h1v1h-1zM1005,638h1v1h-1zM1003,639h1v1h-1zM1005,639h1v1h-1zM1002,640h1v1h-1zM1006,640h1v1h-1zM1002,641h1v1h-1zM1006,641h1v1h-1zM1001,642h1v1h-1zM1007,642h1v1h-1zM1001,643h1v1h-1zM1007,643h1v1h-1zM1000,644h1v1h-1zM1008,644h1v1h-1zM1000,645h9v1h-9z" fill="#000" shape-rendering="crispEdges"/><path d="M1020,642h1v1h-1zM1019,643h1v1h-1zM1021,643h1v1h-1zM1019,644h1v1h-1zM1021,644h1v1h-1zM1018,645h1v1h-1zM1022,645h1v1h-1zM1018,646h1v1h-1zM1022,646h1v1h-1zM1017,647h1v1h-1zM1023,647h1v1h-1zM1017,648h1v1h-1zM1023,648h1v1h-1zM1016,649h1v1h-1zM1024,649h1v1h-1zM1016,650h9v1h-9z" fill="#000" shape-rendering="crispEdges"/><path d="M1036,656h1v1h-1zM1035,657h1v1h-1zM1037,657h1v1h-1zM1035,658h1v1h-1zM1037,658h1v1h-1zM1034,659h1v1h-1zM1038,659h1v1h-1zM1034,660h1v1h-1zM1038,660h1v1h-1zM1033,661h1v1h-1zM1039,661h1v1h-1zM1033,662h1v1h-1zM1039,662h1v1h-1zM1032,663h1v1h-1zM1040,663h1v1h-1zM1032,664h9v1h-9z" fill="#000" shape-rendering="crispEdges"/><path d="M1052,669h1v1h-1zM1051,670h1v1h-1zM1053,670h1v1h-1zM1051,671h1v1h-1zM1053,671h1v1h-1zM1050,672h1v1h-1zM1054,672h1v1h-1zM1050,673h1v1h-1zM1054,673h1v1h-1zM1049,674h1v1h-1zM1055,674h1v1h-1zM1049,675h1v1h-1zM1055,675h1v1h-1zM1048,676h1v1h-1zM1056,676h1v1h-1zM1048,677h9v1h-9z" fill="#000" shape-rendering="crispEdges"/><path d="M1068,684h1v1h-1zM1067,685h1v1h-1zM1069,685h1v1h-1zM1067,686h1v1h-1zM1069,686h1v1h-1zM1066,687h1v1h-1zM1070,687h1v1h-1zM1066,688h1v1h-1zM1070,688h1v1h-1zM1065,689h1v1h-1zM1071,689h1v1h-1zM1065,690h1v1h-1zM1071,690h1v1h-1zM1064,691h1v1h-1zM1072,691h1v1h-1zM1064,692h9v1h-9z" fill="#000" shape-rendering="crispEdges"/></g>
<path d="M118.5,694H135V666H151V651H167V636H183V623H199V612H215V619H231V615H247V603H263V605H279V620H295V608H310V605H326V604H342V615H358V612H374V602H390V604H406V615H422V605H438V603H454V606H470V611H486V607H502V596H518V599H534V609H550V610H566V593H582V598H598V602H613V594H629V595H645V585H661V604H677V600H693V595H709V596H725V609H741V599H757V592H773V593H789V605H805V602H821V599H837V596H853V621H869V635H885V634H900V637H916V651H932V642H948V631H964V635H980V694H996V643H1012V648H1028V662H1044V675H1060V689H1076.5" fill="none" stroke="#cc6633" stroke-width="2" stroke-linejoin="miter" shape-rendering="crispEdges" clip-path="url(#c3)"/>
<g><path d="M139,662h9v1h-9zM140,663h1v1h-1zM146,663h1v1h-1zM140,664h1v1h-1zM146,664h1v1h-1zM141,665h1v1h-1zM145,665h1v1h-1zM141,666h1v1h-1zM145,666h1v1h-1zM142,667h1v1h-1zM144,667h1v1h-1zM142,668h1v1h-1zM144,668h1v1h-1zM143,669h1v1h-1z" fill="#000" shape-rendering="crispEdges"/><path d="M155,647h9v1h-9zM156,648h1v1h-1zM162,648h1v1h-1zM156,649h1v1h-1zM162,649h1v1h-1zM157,650h1v1h-1zM161,650h1v1h-1zM157,651h1v1h-1zM161,651h1v1h-1zM158,652h1v1h-1zM160,652h1v1h-1zM158,653h1v1h-1zM160,653h1v1h-1zM159,654h1v1h-1z" fill="#000" shape-rendering="crispEdges"/><path d="M171,632h9v1h-9zM172,633h1v1h-1zM178,633h1v1h-1zM172,634h1v1h-1zM178,634h1v1h-1zM173,635h1v1h-1zM177,635h1v1h-1zM173,636h1v1h-1zM177,636h1v1h-1zM174,637h1v1h-1zM176,637h1v1h-1zM174,638h1v1h-1zM176,638h1v1h-1zM175,639h1v1h-1z" fill="#000" shape-rendering="crispEdges"/><path d="M187,619h9v1h-9zM188,620h1v1h-1zM194,620h1v1h-1zM188,621h1v1h-1zM194,621h1v1h-1zM189,622h1v1h-1zM193,622h1v1h-1zM189,623h1v1h-1zM193,623h1v1h-1zM190,624h1v1h-1zM192,624h1v1h-1zM190,625h1v1h-1zM192,625h1v1h-1zM191,626h1v1h-1z" fill="#000" shape-rendering="crispEdges"/><path d="M203,608h9v1h-9zM204,609h1v1h-1zM210,609h1v1h-1zM204,610h1v1h-1zM210,610h1v1h-1zM205,611h1v1h-1zM209,611h1v1h-1zM205,612h1v1h-1zM209,612h1v1h-1zM206,613h1v1h-1zM208,613h1v1h-1zM206,614h1v1h-1zM208,614h1v1h-1zM207,615h1v1h-1z" fill="#000" shape-rendering="crispEdges"/><path d="M219,615h9v1h-9zM220,616h1v1h-1zM226,616h1v1h-1zM220,617h1v1h-1zM226,617h1v1h-1zM221,618h1v1h-1zM225,618h1v1h-1zM221,619h1v1h-1zM225,619h1v1h-1zM222,620h1v1h-1zM224,620h1v1h-1zM222,621h1v1h-1zM224,621h1v1h-1zM223,622h1v1h-1z" fill="#000" shape-rendering="crispEdges"/><path d="M235,611h9v1h-9zM236,612h1v1h-1zM242,612h1v1h-1zM236,613h1v1h-1zM242,613h1v1h-1zM237,614h1v1h-1zM241,614h1v1h-1zM237,615h1v1h-1zM241,615h1v1h-1zM238,616h1v1h-1zM240,616h1v1h-1zM238,617h1v1h-1zM240,617h1v1h-1zM239,618h1v1h-1z" fill="#000" shape-rendering="crispEdges"/><path d="M251,599h9v1h-9zM252,600h1v1h-1zM258,600h1v1h-1zM252,601h1v1h-1zM258,601h1v1h-1zM253,602h1v1h-1zM257,602h1v1h-1zM253,603h1v1h-1zM257,603h1v1h-1zM254,604h1v1h-1zM256,604h1v1h-1zM254,605h1v1h-1zM256,605h1v1h-1zM255,606h1v1h-1z" fill="#000" shape-rendering="crispEdges"/><path d="M267,601h9v1h-9zM268,602h1v1h-1zM274,602h1v1h-1zM268,603h1v1h-1zM274,603h1v1h-1zM269,604h1v1h-1zM273,604h1v1h-1zM269,605h1v1h-1zM273,605h1v1h-1zM270,606h1v1h-1zM272,606h1v1h-1zM270,607h1v1h-1zM272,607h1v1h-1zM271,608h1v1h-1z" fill="#000" shape-rendering="crispEdges"/><path d="M283,616h9v1h-9zM284,617h1v1h-1zM290,617h1v1h-1zM284,618h1v1h-1zM290,618h1v1h-1zM285,619h1v1h-1zM289,619h1v1h-1zM285,620h1v1h-1zM289,620h1v1h-1zM286,621h1v1h-1zM288,621h1v1h-1zM286,622h1v1h-1zM288,622h1v1h-1zM287,623h1v1h-1z" fill="#000" shape-rendering="crispEdges"/><path d="M299,604h9v1h-9zM300,605h1v1h-1zM306,605h1v1h-1zM300,606h1v1h-1zM306,606h1v1h-1zM301,607h1v1h-1zM305,607h1v1h-1zM301,608h1v1h-1zM305,608h1v1h-1zM302,609h1v1h-1zM304,609h1v1h-1zM302,610h1v1h-1zM304,610h1v1h-1zM303,611h1v1h-1z" fill="#000" shape-rendering="crispEdges"/><path d="M314,601h9v1h-9zM315,602h1v1h-1zM321,602h1v1h-1zM315,603h1v1h-1zM321,603h1v1h-1zM316,604h1v1h-1zM320,604h1v1h-1zM316,605h1v1h-1zM320,605h1v1h-1zM317,606h1v1h-1zM319,606h1v1h-1zM317,607h1v1h-1zM319,607h1v1h-1zM318,608h1v1h-1z" fill="#000" shape-rendering="crispEdges"/><path d="M330,600h9v1h-9zM331,601h1v1h-1zM337,601h1v1h-1zM331,602h1v1h-1zM337,602h1v1h-1zM332,603h1v1h-1zM336,603h1v1h-1zM332,604h1v1h-1zM336,604h1v1h-1zM333,605h1v1h-1zM335,605h1v1h-1zM333,606h1v1h-1zM335,606h1v1h-1zM334,607h1v1h-1z" fill="#000" shape-rendering="crispEdges"/><path d="M346,611h9v1h-9zM347,612h1v1h-1zM353,612h1v1h-1zM347,613h1v1h-1zM353,613h1v1h-1zM348,614h1v1h-1zM352,614h1v1h-1zM348,615h1v1h-1zM352,615h1v1h-1zM349,616h1v1h-1zM351,616h1v1h-1zM349,617h1v1h-1zM351,617h1v1h-1zM350,618h1v1h-1z" fill="#000" shape-rendering="crispEdges"/><path d="M362,608h9v1h-9zM363,609h1v1h-1zM369,609h1v1h-1zM363,610h1v1h-1zM369,610h1v1h-1zM364,611h1v1h-1zM368,611h1v1h-1zM364,612h1v1h-1zM368,612h1v1h-1zM365,613h1v1h-1zM367,613h1v1h-1zM365,614h1v1h-1zM367,614h1v1h-1zM366,615h1v1h-1z" fill="#000" shape-rendering="crispEdges"/><path d="M378,598h9v1h-9zM379,599h1v1h-1zM385,599h1v1h-1zM379,600h1v1h-1zM385,600h1v1h-1zM380,601h1v1h-1zM384,601h1v1h-1zM380,602h1v1h-1zM384,602h1v1h-1zM381,603h1v1h-1zM383,603h1v1h-1zM381,604h1v1h-1zM383,604h1v1h-1zM382,605h1v1h-1z" fill="#000" shape-rendering="crispEdges"/><path d="M394,600h9v1h-9zM395,601h1v1h-1zM401,601h1v1h-1zM395,602h1v1h-1zM401,602h1v1h-1zM396,603h1v1h-1zM400,603h1v1h-1zM396,604h1v1h-1zM400,604h1v1h-1zM397,605h1v1h-1zM399,605h1v1h-1zM397,606h1v1h-1zM399,606h1v1h-1zM398,607h1v1h-1z" fill="#000" shape-rendering="crispEdges"/><path d="M410,611h9v1h-9zM411,612h1v1h-1zM417,612h1v1h-1zM411,613h1v1h-1zM417,613h1v1h-1zM412,614h1v1h-1zM416,614h1v1h-1zM412,615h1v1h-1zM416,615h1v1h-1zM413,616h1v1h-1zM415,616h1v1h-1zM413,617h1v1h-1zM415,617h1v1h-1zM414,618h1v1h-1z" fill="#000" shape-rendering="crispEdges"/><path d="M426,601h9v1h-9zM427,602h1v1h-1zM433,602h1v1h-1zM427,603h1v1h-1zM433,603h1v1h-1zM428,604h1v1h-1zM432,604h1v1h-1zM428,605h1v1h-1zM432,605h1v1h-1zM429,606h1v1h-1zM431,606h1v1h-1zM429,607h1v1h-1zM431,607h1v1h-1zM430,608h1v1h-1z" fill="#000" shape-rendering="crispEdges"/><path d="M442,599h9v1h-9zM443,600h1v1h-1zM449,600h1v1h-1zM443,601h1v1h-1zM449,601h1v1h-1zM444,602h1v1h-1zM448,602h1v1h-1zM444,603h1v1h-1zM448,603h1v1h-1zM445,604h1v1h-1zM447,604h1v1h-1zM445,605h1v1h-1zM447,605h1v1h-1zM446,606h1v1h-1z" fill="#000" shape-rendering="crispEdges"/><path d="M458,602h9v1h-9zM459,603h1v1h-1zM465,603h1v1h-1zM459,604h1v1h-1zM465,604h1v1h-1zM460,605h1v1h-1zM464,605h1v1h-1zM460,606h1v1h-1zM464,606h1v1h-1zM461,607h1v1h-1zM463,607h1v1h-1zM461,608h1v1h-1zM463,608h1v1h-1zM462,609h1v1h-1z" fill="#000" shape-rendering="crispEdges"/><path d="M474,607h9v1h-9zM475,608h1v1h-1zM481,608h1v1h-1zM475,609h1v1h-1zM481,609h1v1h-1zM476,610h1v1h-1zM480,610h1v1h-1zM476,611h1v1h-1zM480,611h1v1h-1zM477,612h1v1h-1zM479,612h1v1h-1zM477,613h1v1h-1zM479,613h1v1h-1zM478,614h1v1h-1z" fill="#000" shape-rendering="crispEdges"/><path d="M490,603h9v1h-9zM491,604h1v1h-1zM497,604h1v1h-1zM491,605h1v1h-1zM497,605h1v1h-1zM492,606h1v1h-1zM496,606h1v1h-1zM492,607h1v1h-1zM496,607h1v1h-1zM493,608h1v1h-1zM495,608h1v1h-1zM493,609h1v1h-1zM495,609h1v1h-1zM494,610h1v1h-1z" fill="#000" shape-rendering="crispEdges"/><path d="M506,592h9v1h-9zM507,593h1v1h-1zM513,593h1v1h-1zM507,594h1v1h-1zM513,594h1v1h-1zM508,595h1v1h-1zM512,595h1v1h-1zM508,596h1v1h-1zM512,596h1v1h-1zM509,597h1v1h-1zM511,597h1v1h-1zM509,598h1v1h-1zM511,598h1v1h-1zM510,599h1v1h-1z" fill="#000" shape-rendering="crispEdges"/><path d="M522,595h9v1h-9zM523,596h1v1h-1zM529,596h1v1h-1zM523,597h1v1h-1zM529,597h1v1h-1zM524,598h1v1h-1zM528,598h1v1h-1zM524,599h1v1h-1zM528,599h1v1h-1zM525,600h1v1h-1zM527,600h1v1h-1zM525,601h1v1h-1zM527,601h1v1h-1zM526,602h1v1h-1z" fill="#000" shape-rendering="crispEdges"/><path d="M538,605h9v1h-9zM539,606h1v1h-1zM545,606h1v1h-1zM539,607h1v1h-1zM545,607h1v1h-1zM540,608h1v1h-1zM544,608h1v1h-1zM540,609h1v1h-1zM544,609h1v1h-1zM541,610h1v1h-1zM543,610h1v1h-1zM541,611h1v1h-1zM543,611h1v1h-1zM542,612h1v1h-1z" fill="#000" shape-rendering="crispEdges"/><path d="M554,606h9v1h-9zM555,607h1v1h-1zM561,607h1v1h-1zM555,608h1v1h-1zM561,608h1v1h-1zM556,609h1v1h-1zM560,609h1v1h-1zM556,610h1v1h-1zM560,610h1v1h-1zM557,611h1v1h-1zM559,611h1v1h-1zM557,612h1v1h-1zM559,612h1v1h-1zM558,613h1v1h-1z" fill="#000" shape-rendering="crispEdges"/><path d="M570,589h9v1h-9zM571,590h1v1h-1zM577,590h1v1h-1zM571,591h1v1h-1zM577,591h1v1h-1zM572,592h1v1h-1zM576,592h1v1h-1zM572,593h1v1h-1zM576,593h1v1h-1zM573,594h1v1h-1zM575,594h1v1h-1zM573,595h1v1h-1zM575,595h1v1h-1zM574,596h1v1h-1z" fill="#000" shape-rendering="crispEdges"/><path d="M586,594h9v1h-9zM587,595h1v1h-1zM593,595h1v1h-1zM587,596h1v1h-1zM593,596h1v1h-1zM588,597h1v1h-1zM592,597h1v1h-1zM588,598h1v1h-1zM592,598h1v1h-1zM589,599h1v1h-1zM591,599h1v1h-1zM589,600h1v1h-1zM591,600h1v1h-1zM590,601h1v1h-1z" fill="#000" shape-rendering="crispEdges"/><path d="M602,598h9v1h-9zM603,599h1v1h-1zM609,599h1v1h-1zM603,600h1v1h-1zM609,600h1v1h-1zM604,601h1v1h-1zM608,601h1v1h-1zM604,602h1v1h-1zM608,602h1v1h-1zM605,603h1v1h-1zM607,603h1v1h-1zM605,604h1v1h-1zM607,604h1v1h-1zM606,605h1v1h-1z" fill="#000" shape-rendering="crispEdges"/><path d="M617,590h9v1h-9zM618,591h1v1h-1zM624,591h1v1h-1zM618,592h1v1h-1zM624,592h1v1h-1zM619,593h1v1h-1zM623,593h1v1h-1zM619,594h1v1h-1zM623,594h1v1h-1zM620,595h1v1h-1zM622,595h1v1h-1zM620,596h1v1h-1zM622,596h1v1h-1zM621,597h1v1h-1z" fill="#000" shape-rendering="crispEdges"/><path d="M633,591h9v1h-9zM634,592h1v1h-1zM640,592h1v1h-1zM634,593h1v1h-1zM640,593h1v1h-1zM635,594h1v1h-1zM639,594h1v1h-1zM635,595h1v1h-1zM639,595h1v1h-1zM636,596h1v1h-1zM638,596h1v1h-1zM636,597h1v1h-1zM638,597h1v1h-1zM637,598h1v1h-1z" fill="#000" shape-rendering="crispEdges"/><path d="M649,581h9v1h-9zM650,582h1v1h-1zM656,582h1v1h-1zM650,583h1v1h-1zM656,583h1v1h-1zM651,584h1v1h-1zM655,584h1v1h-1zM651,585h1v1h-1zM655,585h1v1h-1zM652,586h1v1h-1zM654,586h1v1h-1zM652,587h1v1h-1zM654,587h1v1h-1zM653,588h1v1h-1z" fill="#000" shape-rendering="crispEdges"/><path d="M665,600h9v1h-9zM666,601h1v1h-1zM672,601h1v1h-1zM666,602h1v1h-1zM672,602h1v1h-1zM667,603h1v1h-1zM671,603h1v1h-1zM667,604h1v1h-1zM671,604h1v1h-1zM668,605h1v1h-1zM670,605h1v1h-1zM668,606h1v1h-1zM670,606h1v1h-1zM669,607h1v1h-1z" fill="#000" shape-rendering="crispEdges"/><path d="M681,596h9v1h-9zM682,597h1v1h-1zM688,597h1v1h-1zM682,598h1v1h-1zM688,598h1v1h-1zM683,599h1v1h-1zM687,599h1v1h-1zM683,600h1v1h-1zM687,600h1v1h-1zM684,601h1v1h-1zM686,601h1v1h-1zM684,602h1v1h-1zM686,602h1v1h-1zM685,603h1v1h-1z" fill="#000" shape-rendering="crispEdges"/><path d="M697,591h9v1h-9zM698,592h1v1h-1zM704,592h1v1h-1zM698,593h1v1h-1zM704,593h1v1h-1zM699,594h1v1h-1zM703,594h1v1h-1zM699,595h1v1h-1zM703,595h1v1h-1zM700,596h1v1h-1zM702,596h1v1h-1zM700,597h1v1h-1zM702,597h1v1h-1zM701,598h1v1h-1z" fill="#000" shape-rendering="crispEdges"/><path d="M713,592h9v1h-9zM714,593h1v1h-1zM720,593h1v1h-1zM714,594h1v1h-1zM720,594h1v1h-1zM715,595h1v1h-1zM719,595h1v1h-1zM715,596h1v1h-1zM719,596h1v1h-1zM716,597h1v1h-1zM718,597h1v1h-1zM716,598h1v1h-1zM718,598h1v1h-1zM717,599h1v1h-1z" fill="#000" shape-rendering="crispEdges"/><path d="M729,605h9v1h-9zM730,606h1v1h-1zM736,606h1v1h-1zM730,607h1v1h-1zM736,607h1v1h-1zM731,608h1v1h-1zM735,608h1v1h-1zM731,609h1v1h-1zM735,609h1v1h-1zM732,610h1v1h-1zM734,610h1v1h-1zM732,611h1v1h-1zM734,611h1v1h-1zM733,612h1v1h-1z" fill="#000" shape-rendering="crispEdges"/><path d="M745,595h9v1h-9zM746,596h1v1h-1zM752,596h1v1h-1zM746,597h1v1h-1zM752,597h1v1h-1zM747,598h1v1h-1zM751,598h1v1h-1zM747,599h1v1h-1zM751,599h1v1h-1zM748,600h1v1h-1zM750,600h1v1h-1zM748,601h1v1h-1zM750,601h1v1h-1zM749,602h1v1h-1z" fill="#000" shape-rendering="crispEdges"/><path d="M761,588h9v1h-9zM762,589h1v1h-1zM768,589h1v1h-1zM762,590h1v1h-1zM768,590h1v1h-1zM763,591h1v1h-1zM767,591h1v1h-1zM763,592h1v1h-1zM767,592h1v1h-1zM764,593h1v1h-1zM766,593h1v1h-1zM764,594h1v1h-1zM766,594h1v1h-1zM765,595h1v1h-1z" fill="#000" shape-rendering="crispEdges"/><path d="M777,589h9v1h-9zM778,590h1v1h-1zM784,590h1v1h-1zM778,591h1v1h-1zM784,591h1v1h-1zM779,592h1v1h-1zM783,592h1v1h-1zM779,593h1v1h-1zM783,593h1v1h-1zM780,594h1v1h-1zM782,594h1v1h-1zM780,595h1v1h-1zM782,595h1v1h-1zM781,596h1v1h-1z" fill="#000" shape-rendering="crispEdges"/><path d="M793,601h9v1h-9zM794,602h1v1h-1zM800,602h1v1h-1zM794,603h1v1h-1zM800,603h1v1h-1zM795,604h1v1h-1zM799,604h1v1h-1zM795,605h1v1h-1zM799,605h1v1h-1zM796,606h1v1h-1zM798,606h1v1h-1zM796,607h1v1h-1zM798,607h1v1h-1zM797,608h1v1h-1z" fill="#000" shape-rendering="crispEdges"/><path d="M809,598h9v1h-9zM810,599h1v1h-1zM816,599h1v1h-1zM810,600h1v1h-1zM816,600h1v1h-1zM811,601h1v1h-1zM815,601h1v1h-1zM811,602h1v1h-1zM815,602h1v1h-1zM812,603h1v1h-1zM814,603h1v1h-1zM812,604h1v1h-1zM814,604h1v1h-1zM813,605h1v1h-1z" fill="#000" shape-rendering="crispEdges"/><path d="M825,595h9v1h-9zM826,596h1v1h-1zM832,596h1v1h-1zM826,597h1v1h-1zM832,597h1v1h-1zM827,598h1v1h-1zM831,598h1v1h-1zM827,599h1v1h-1zM831,599h1v1h-1zM828,600h1v1h-1zM830,600h1v1h-1zM828,601h1v1h-1zM830,601h1v1h-1zM829,602h1v1h-1z" fill="#000" shape-rendering="crispEdges"/><path d="M841,592h9v1h-9zM842,593h1v1h-1zM848,593h1v1h-1zM842,594h1v1h-1zM848,594h1v1h-1zM843,595h1v1h-1zM847,595h1v1h-1zM843,596h1v1h-1zM847,596h1v1h-1zM844,597h1v1h-1zM846,597h1v1h-1zM844,598h1v1h-1zM846,598h1v1h-1zM845,599h1v1h-1z" fill="#000" shape-rendering="crispEdges"/><path d="M857,617h9v1h-9zM858,618h1v1h-1zM864,618h1v1h-1zM858,619h1v1h-1zM864,619h1v1h-1zM859,620h1v1h-1zM863,620h1v1h-1zM859,621h1v1h-1zM863,621h1v1h-1zM860,622h1v1h-1zM862,622h1v1h-1zM860,623h1v1h-1zM862,623h1v1h-1zM861,624h1v1h-1z" fill="#000" shape-rendering="crispEdges"/><path d="M873,631h9v1h-9zM874,632h1v1h-1zM880,632h1v1h-1zM874,633h1v1h-1zM880,633h1v1h-1zM875,634h1v1h-1zM879,634h1v1h-1zM875,635h1v1h-1zM879,635h1v1h-1zM876,636h1v1h-1zM878,636h1v1h-1zM876,637h1v1h-1zM878,637h1v1h-1zM877,638h1v1h-1z" fill="#000" shape-rendering="crispEdges"/><path d="M889,630h9v1h-9zM890,631h1v1h-1zM896,631h1v1h-1zM890,632h1v1h-1zM896,632h1v1h-1zM891,633h1v1h-1zM895,633h1v1h-1zM891,634h1v1h-1zM895,634h1v1h-1zM892,635h1v1h-1zM894,635h1v1h-1zM892,636h1v1h-1zM894,636h1v1h-1zM893,637h1v1h-1z" fill="#000" shape-rendering="crispEdges"/><path d="M904,633h9v1h-9zM905,634h1v1h-1zM911,634h1v1h-1zM905,635h1v1h-1zM911,635h1v1h-1zM906,636h1v1h-1zM910,636h1v1h-1zM906,637h1v1h-1zM910,637h1v1h-1zM907,638h1v1h-1zM909,638h1v1h-1zM907,639h1v1h-1zM909,639h1v1h-1zM908,640h1v1h-1z" fill="#000" shape-rendering="crispEdges"/><path d="M920,647h9v1h-9zM921,648h1v1h-1zM927,648h1v1h-1zM921,649h1v1h-1zM927,649h1v1h-1zM922,650h1v1h-1zM926,650h1v1h-1zM922,651h1v1h-1zM926,651h1v1h-1zM923,652h1v1h-1zM925,652h1v1h-1zM923,653h1v1h-1zM925,653h1v1h-1zM924,654h1v1h-1z" fill="#000" shape-rendering="crispEdges"/><path d="M936,638h9v1h-9zM937,639h1v1h-1zM943,639h1v1h-1zM937,640h1v1h-1zM943,640h1v1h-1zM938,641h1v1h-1zM942,641h1v1h-1zM938,642h1v1h-1zM942,642h1v1h-1zM939,643h1v1h-1zM941,643h1v1h-1zM939,644h1v1h-1zM941,644h1v1h-1zM940,645h1v1h-1z" fill="#000" shape-rendering="crispEdges"/><path d="M952,627h9v1h-9zM953,628h1v1h-1zM959,628h1v1h-1zM953,629h1v1h-1zM959,629h1v1h-1zM954,630h1v1h-1zM958,630h1v1h-1zM954,631h1v1h-1zM958,631h1v1h-1zM955,632h1v1h-1zM957,632h1v1h-1zM955,633h1v1h-1zM957,633h1v1h-1zM956,634h1v1h-1z" fill="#000" shape-rendering="crispEdges"/><path d="M968,631h9v1h-9zM969,632h1v1h-1zM975,632h1v1h-1zM969,633h1v1h-1zM975,633h1v1h-1zM970,634h1v1h-1zM974,634h1v1h-1zM970,635h1v1h-1zM974,635h1v1h-1zM971,636h1v1h-1zM973,636h1v1h-1zM971,637h1v1h-1zM973,637h1v1h-1zM972,638h1v1h-1z" fill="#000" shape-rendering="crispEdges"/><path d="M1000,639h9v1h-9zM1001,640h1v1h-1zM1007,640h1v1h-1zM1001,641h1v1h-1zM1007,641h1v1h-1zM1002,642h1v1h-1zM1006,642h1v1h-1zM1002,643h1v1h-1zM1006,643h1v1h-1zM1003,644h1v1h-1zM1005,644h1v1h-1zM1003,645h1v1h-1zM1005,645h1v1h-1zM1004,646h1v1h-1z" fill="#000" shape-rendering="crispEdges"/><path d="M1016,644h9v1h-9zM1017,645h1v1h-1zM1023,645h1v1h-1zM1017,646h1v1h-1zM1023,646h1v1h-1zM1018,647h1v1h-1zM1022,647h1v1h-1zM1018,648h1v1h-1zM1022,648h1v1h-1zM1019,649h1v1h-1zM1021,649h1v1h-1zM1019,650h1v1h-1zM1021,650h1v1h-1zM1020,651h1v1h-1z" fill="#000" shape-rendering="crispEdges"/><path d="M1032,658h9v1h-9zM1033,659h1v1h-1zM1039,659h1v1h-1zM1033,660h1v1h-1zM1039,660h1v1h-1zM1034,661h1v1h-1zM1038,661h1v1h-1zM1034,662h1v1h-1zM1038,662h1v1h-1zM1035,663h1v1h-1zM1037,663h1v1h-1zM1035,664h1v1h-1zM1037,664h1v1h-1zM1036,665h1v1h-1z" fill="#000" shape-rendering="crispEdges"/><path d="M1048,671h9v1h-9zM1049,672h1v1h-1zM1055,672h1v1h-1zM1049,673h1v1h-1zM1055,673h1v1h-1zM1050,674h1v1h-1zM1054,674h1v1h-1zM1050,675h1v1h-1zM1054,675h1v1h-1zM1051,676h1v1h-1zM1053,676h1v1h-1zM1051,677h1v1h-1zM1053,677h1v1h-1zM1052,678h1v1h-1z" fill="#000" shape-rendering="crispEdges"/><path d="M1064,685h9v1h-9zM1065,686h1v1h-1zM1071,686h1v1h-1zM1065,687h1v1h-1zM1071,687h1v1h-1zM1066,688h1v1h-1zM1070,688h1v1h-1zM1066,689h1v1h-1zM1070,689h1v1h-1zM1067,690h1v1h-1zM1069,690h1v1h-1zM1067,691h1v1h-1zM1069,691h1v1h-1zM1068,692h1v1h-1z" fill="#000" shape-rendering="crispEdges"/></g>
<defs><clipPath id="one0"><path clip-rule="evenodd" d="M-10,-10H1210V790H-10Z M200.99,38.87H206.76V42.94H200.99Z M209.81,38.87H215.41V42.94H209.81Z"/></clipPath><clipPath id="one1"><path clip-rule="evenodd" d="M-10,-10H1210V790H-10Z M390.43,38.87H396.20V42.94H390.43Z M399.25,38.87H404.85V42.94H399.25Z M426.10,38.87H431.87V42.94H426.10Z M434.92,38.87H440.52V42.94H434.92Z"/></clipPath><clipPath id="one8"><path clip-rule="evenodd" d="M-10,-10H1210V790H-10Z M76.93,207.34H79.99V209.50H76.93Z M81.61,207.34H84.57V209.50H81.61Z"/></clipPath><clipPath id="one9"><path clip-rule="evenodd" d="M-10,-10H1210V790H-10Z M76.93,180.34H79.99V182.50H76.93Z M81.61,180.34H84.57V182.50H81.61Z"/></clipPath><clipPath id="one42"><path clip-rule="evenodd" d="M-10,-10H1210V790H-10Z M1100.37,132.03H1105.83V135.89H1100.37Z M1108.73,132.03H1114.03V135.89H1108.73Z"/></clipPath><clipPath id="one45"><path clip-rule="evenodd" d="M-10,-10H1210V790H-10Z M76.93,366.34H79.99V368.50H76.93Z M81.61,366.34H84.57V368.50H81.61Z"/></clipPath><clipPath id="one46"><path clip-rule="evenodd" d="M-10,-10H1210V790H-10Z M76.93,355.34H79.99V357.50H76.93Z M81.61,355.34H84.57V357.50H81.61Z"/></clipPath><clipPath id="one47"><path clip-rule="evenodd" d="M-10,-10H1210V790H-10Z M76.93,344.34H79.99V346.50H76.93Z M81.61,344.34H84.57V346.50H81.61Z"/></clipPath><clipPath id="one48"><path clip-rule="evenodd" d="M-10,-10H1210V790H-10Z M76.93,333.34H79.99V335.50H76.93Z M81.61,333.34H84.57V335.50H81.61Z"/></clipPath><clipPath id="one49"><path clip-rule="evenodd" d="M-10,-10H1210V790H-10Z M76.93,322.34H79.99V324.50H76.93Z M81.61,322.34H84.57V324.50H81.61Z"/></clipPath><clipPath id="one86"><path clip-rule="evenodd" d="M-10,-10H1210V790H-10Z M76.93,514.34H79.99V516.50H76.93Z M81.61,514.34H84.57V516.50H81.61Z"/></clipPath><clipPath id="one87"><path clip-rule="evenodd" d="M-10,-10H1210V790H-10Z M76.93,488.34H79.99V490.50H76.93Z M81.61,488.34H84.57V490.50H81.61Z"/></clipPath><clipPath id="one123"><path clip-rule="evenodd" d="M-10,-10H1210V790H-10Z M76.93,672.34H79.99V674.50H76.93Z M81.61,672.34H84.57V674.50H81.61Z"/></clipPath><clipPath id="one124"><path clip-rule="evenodd" d="M-10,-10H1210V790H-10Z M76.93,661.34H79.99V663.50H76.93Z M81.61,661.34H84.57V663.50H81.61Z"/></clipPath><clipPath id="one125"><path clip-rule="evenodd" d="M-10,-10H1210V790H-10Z M76.93,651.34H79.99V653.50H76.93Z M81.61,651.34H84.57V653.50H81.61Z"/></clipPath><clipPath id="one126"><path clip-rule="evenodd" d="M-10,-10H1210V790H-10Z M76.93,640.34H79.99V642.50H76.93Z M81.61,640.34H84.57V642.50H81.61Z"/></clipPath><clipPath id="one127"><path clip-rule="evenodd" d="M-10,-10H1210V790H-10Z M76.93,629.34H79.99V631.50H76.93Z M81.61,629.34H84.57V631.50H81.61Z"/></clipPath><clipPath id="one136"><path clip-rule="evenodd" d="M-10,-10H1210V790H-10Z M254.16,708.29H257.31V710.51H254.16Z M258.97,708.29H262.02V710.51H258.97Z"/></clipPath><clipPath id="one137"><path clip-rule="evenodd" d="M-10,-10H1210V790H-10Z M286.16,708.29H289.31V710.51H286.16Z M290.97,708.29H294.02V710.51H290.97Z"/></clipPath><clipPath id="one138"><path clip-rule="evenodd" d="M-10,-10H1210V790H-10Z M317.16,708.29H320.31V710.51H317.16Z M321.97,708.29H325.02V710.51H321.97Z"/></clipPath><clipPath id="one139"><path clip-rule="evenodd" d="M-10,-10H1210V790H-10Z M349.16,708.29H352.31V710.51H349.16Z M353.97,708.29H357.02V710.51H353.97Z"/></clipPath><clipPath id="one140"><path clip-rule="evenodd" d="M-10,-10H1210V790H-10Z M381.16,708.29H384.31V710.51H381.16Z M385.97,708.29H389.02V710.51H385.97Z"/></clipPath></defs>
</svg>
</body></html>
